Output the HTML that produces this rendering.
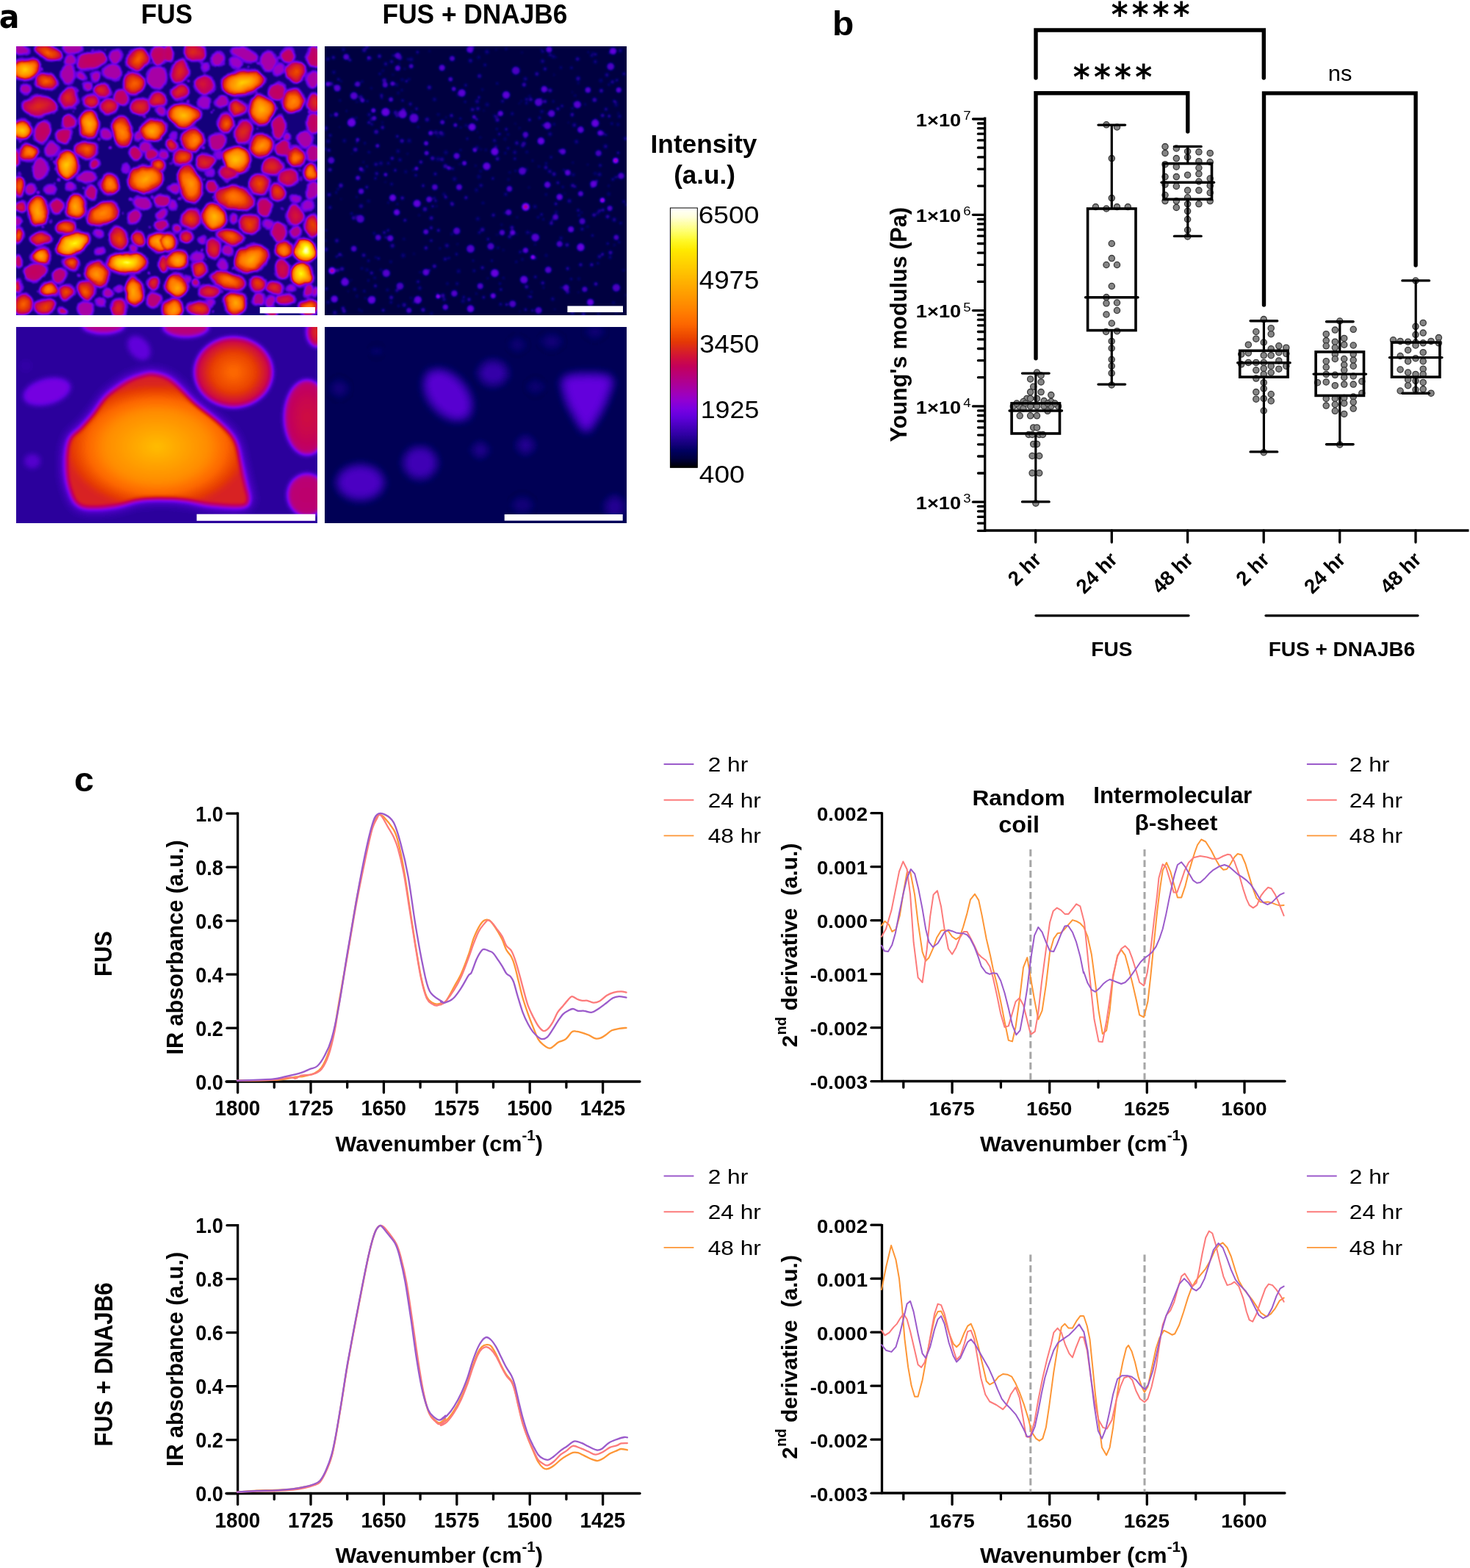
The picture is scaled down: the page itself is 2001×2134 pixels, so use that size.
<!DOCTYPE html>
<html><head><meta charset="utf-8"><title>Figure</title>
<style>html,body{margin:0;padding:0;background:#fff;} svg{display:block;} text{font-family:'Liberation Sans', Arial, Helvetica, sans-serif;fill:#000;}</style>
</head><body>
<svg width="2001" height="2134" viewBox="0 0 2001 2134">
<rect width="2001" height="2134" fill="#fff"/>
<defs>
<filter id="fire" x="0" y="0" width="2001" height="2134" filterUnits="userSpaceOnUse" color-interpolation-filters="sRGB">
<feGaussianBlur stdDeviation="1.6" edgeMode="duplicate"/>
<feComponentTransfer><feFuncR type="table" tableValues="0.0000 0.0000 0.0039 0.0980 0.1922 0.2863 0.3843 0.4784 0.5725 0.6353 0.6784 0.7216 0.7647 0.8118 0.8510 0.8980 0.9412 0.9882 1.0000 1.0000 1.0000 1.0000 1.0000 1.0000 1.0000 1.0000 1.0000 1.0000 1.0000 1.0000 1.0000 1.0000"/><feFuncG type="table" tableValues="0.0000 0.0000 0.0000 0.0000 0.0000 0.0000 0.0000 0.0000 0.0000 0.0000 0.0000 0.0000 0.0000 0.0549 0.1373 0.2235 0.3098 0.3961 0.4588 0.5216 0.5765 0.6314 0.6863 0.7451 0.8039 0.8588 0.9176 0.9725 1.0000 1.0000 1.0000 1.0000"/><feFuncB type="table" tableValues="0.0000 0.2392 0.3765 0.5098 0.6471 0.7529 0.8627 0.8902 0.8235 0.7098 0.5922 0.4784 0.3647 0.2510 0.1373 0.0196 0.0000 0.0000 0.0000 0.0000 0.0000 0.0000 0.0000 0.0000 0.0000 0.0000 0.0000 0.1373 0.3843 0.6275 0.8745 1.0000"/><feFuncA type="identity"/></feComponentTransfer>
</filter>
<filter id="fireD" x="0" y="0" width="2001" height="2134" filterUnits="userSpaceOnUse" color-interpolation-filters="sRGB">
<feTurbulence type="fractalNoise" baseFrequency="0.045" numOctaves="2" seed="5" result="t"/>
<feDisplacementMap in="SourceGraphic" in2="t" scale="9" xChannelSelector="R" yChannelSelector="G" result="d"/>
<feTurbulence type="fractalNoise" baseFrequency="0.6" numOctaves="1" seed="9" result="n"/>
<feColorMatrix in="n" type="matrix" values="0 0 0 0 0  0 0 0 0 0  0 0 0 0 0  1 0 0 0 -0.35" result="na"/>
<feComposite in="d" in2="na" operator="arithmetic" k1="0.55" k2="1" k3="0" k4="0" result="sp"/>
<feGaussianBlur in="sp" stdDeviation="1.3" edgeMode="duplicate"/>
<feComponentTransfer><feFuncR type="table" tableValues="0.0000 0.0000 0.0039 0.0980 0.1922 0.2863 0.3843 0.4784 0.5725 0.6353 0.6784 0.7216 0.7647 0.8118 0.8510 0.8980 0.9412 0.9882 1.0000 1.0000 1.0000 1.0000 1.0000 1.0000 1.0000 1.0000 1.0000 1.0000 1.0000 1.0000 1.0000 1.0000"/><feFuncG type="table" tableValues="0.0000 0.0000 0.0000 0.0000 0.0000 0.0000 0.0000 0.0000 0.0000 0.0000 0.0000 0.0000 0.0000 0.0549 0.1373 0.2235 0.3098 0.3961 0.4588 0.5216 0.5765 0.6314 0.6863 0.7451 0.8039 0.8588 0.9176 0.9725 1.0000 1.0000 1.0000 1.0000"/><feFuncB type="table" tableValues="0.0000 0.2392 0.3765 0.5098 0.6471 0.7529 0.8627 0.8902 0.8235 0.7098 0.5922 0.4784 0.3647 0.2510 0.1373 0.0196 0.0000 0.0000 0.0000 0.0000 0.0000 0.0000 0.0000 0.0000 0.0000 0.0000 0.0000 0.1373 0.3843 0.6275 0.8745 1.0000"/><feFuncA type="identity"/></feComponentTransfer>
</filter>
<filter id="fireS" x="0" y="0" width="2001" height="2134" filterUnits="userSpaceOnUse" color-interpolation-filters="sRGB">
<feGaussianBlur stdDeviation="3.2" edgeMode="duplicate"/>
<feComponentTransfer><feFuncR type="table" tableValues="0.0000 0.0000 0.0039 0.0980 0.1922 0.2863 0.3843 0.4784 0.5725 0.6353 0.6784 0.7216 0.7647 0.8118 0.8510 0.8980 0.9412 0.9882 1.0000 1.0000 1.0000 1.0000 1.0000 1.0000 1.0000 1.0000 1.0000 1.0000 1.0000 1.0000 1.0000 1.0000"/><feFuncG type="table" tableValues="0.0000 0.0000 0.0000 0.0000 0.0000 0.0000 0.0000 0.0000 0.0000 0.0000 0.0000 0.0000 0.0000 0.0549 0.1373 0.2235 0.3098 0.3961 0.4588 0.5216 0.5765 0.6314 0.6863 0.7451 0.8039 0.8588 0.9176 0.9725 1.0000 1.0000 1.0000 1.0000"/><feFuncB type="table" tableValues="0.0000 0.2392 0.3765 0.5098 0.6471 0.7529 0.8627 0.8902 0.8235 0.7098 0.5922 0.4784 0.3647 0.2510 0.1373 0.0196 0.0000 0.0000 0.0000 0.0000 0.0000 0.0000 0.0000 0.0000 0.0000 0.0000 0.0000 0.1373 0.3843 0.6275 0.8745 1.0000"/></feComponentTransfer>
</filter>
<filter id="fireN" x="0" y="0" width="2001" height="2134" filterUnits="userSpaceOnUse" color-interpolation-filters="sRGB">
<feComponentTransfer><feFuncR type="table" tableValues="0.0000 0.0000 0.0039 0.0980 0.1922 0.2863 0.3843 0.4784 0.5725 0.6353 0.6784 0.7216 0.7647 0.8118 0.8510 0.8980 0.9412 0.9882 1.0000 1.0000 1.0000 1.0000 1.0000 1.0000 1.0000 1.0000 1.0000 1.0000 1.0000 1.0000 1.0000 1.0000"/><feFuncG type="table" tableValues="0.0000 0.0000 0.0000 0.0000 0.0000 0.0000 0.0000 0.0000 0.0000 0.0000 0.0000 0.0000 0.0000 0.0549 0.1373 0.2235 0.3098 0.3961 0.4588 0.5216 0.5765 0.6314 0.6863 0.7451 0.8039 0.8588 0.9176 0.9725 1.0000 1.0000 1.0000 1.0000"/><feFuncB type="table" tableValues="0.0000 0.2392 0.3765 0.5098 0.6471 0.7529 0.8627 0.8902 0.8235 0.7098 0.5922 0.4784 0.3647 0.2510 0.1373 0.0196 0.0000 0.0000 0.0000 0.0000 0.0000 0.0000 0.0000 0.0000 0.0000 0.0000 0.0000 0.1373 0.3843 0.6275 0.8745 1.0000"/></feComponentTransfer>
</filter>
<filter id="bl6" x="-50%" y="-50%" width="200%" height="200%"><feGaussianBlur stdDeviation="6"/></filter>
<filter id="bl9" x="-50%" y="-50%" width="200%" height="200%"><feGaussianBlur stdDeviation="8"/></filter>
<filter id="bl12" x="-50%" y="-50%" width="200%" height="200%"><feGaussianBlur stdDeviation="12"/></filter>
<filter id="bl2" x="-50%" y="-50%" width="200%" height="200%"><feGaussianBlur stdDeviation="2"/></filter>
<clipPath id="cp1"><rect x="22" y="63" width="410" height="366"/></clipPath>
<clipPath id="cp2"><rect x="442" y="63" width="411" height="366"/></clipPath>
<clipPath id="cp3"><rect x="22" y="445" width="410" height="267"/></clipPath>
<clipPath id="cp4"><rect x="442" y="445" width="411" height="267"/></clipPath>
<linearGradient id="cbar" x1="0" y1="1" x2="0" y2="0"><stop offset="0" stop-color="#000"/><stop offset="1" stop-color="#fff"/></linearGradient>

<radialGradient id="g0"><stop offset="0" stop-color="rgb(54.8%,54.8%,54.8%)"/><stop offset="0.55" stop-color="rgb(48.6%,48.6%,48.6%)"/><stop offset="1" stop-color="rgb(38.4%,38.4%,38.4%)"/></radialGradient>
<radialGradient id="g1"><stop offset="0" stop-color="rgb(38.7%,38.7%,38.7%)"/><stop offset="0.55" stop-color="rgb(37.7%,37.7%,37.7%)"/><stop offset="1" stop-color="rgb(36.0%,36.0%,36.0%)"/></radialGradient>
<radialGradient id="g2"><stop offset="0" stop-color="rgb(79.0%,79.0%,79.0%)"/><stop offset="0.55" stop-color="rgb(65.0%,65.0%,65.0%)"/><stop offset="1" stop-color="rgb(42.0%,42.0%,42.0%)"/></radialGradient>
<radialGradient id="g3"><stop offset="0" stop-color="rgb(46.8%,46.8%,46.8%)"/><stop offset="0.55" stop-color="rgb(43.1%,43.1%,43.1%)"/><stop offset="1" stop-color="rgb(37.2%,37.2%,37.2%)"/></radialGradient>
<radialGradient id="g4"><stop offset="0" stop-color="rgb(71.0%,71.0%,71.0%)"/><stop offset="0.55" stop-color="rgb(59.5%,59.5%,59.5%)"/><stop offset="1" stop-color="rgb(40.8%,40.8%,40.8%)"/></radialGradient>
<radialGradient id="g5"><stop offset="0" stop-color="rgb(62.9%,62.9%,62.9%)"/><stop offset="0.55" stop-color="rgb(54.0%,54.0%,54.0%)"/><stop offset="1" stop-color="rgb(39.6%,39.6%,39.6%)"/></radialGradient>
<radialGradient id="g6"><stop offset="0" stop-color="rgb(51.6%,51.6%,51.6%)"/><stop offset="0.55" stop-color="rgb(46.4%,46.4%,46.4%)"/><stop offset="1" stop-color="rgb(37.9%,37.9%,37.9%)"/></radialGradient>
<radialGradient id="g7"><stop offset="0" stop-color="rgb(43.5%,43.5%,43.5%)"/><stop offset="0.55" stop-color="rgb(40.9%,40.9%,40.9%)"/><stop offset="1" stop-color="rgb(36.7%,36.7%,36.7%)"/></radialGradient>
<radialGradient id="g8"><stop offset="0" stop-color="rgb(50.0%,50.0%,50.0%)"/><stop offset="0.55" stop-color="rgb(45.3%,45.3%,45.3%)"/><stop offset="1" stop-color="rgb(37.7%,37.7%,37.7%)"/></radialGradient>
<radialGradient id="g9"><stop offset="0" stop-color="rgb(72.6%,72.6%,72.6%)"/><stop offset="0.55" stop-color="rgb(60.6%,60.6%,60.6%)"/><stop offset="1" stop-color="rgb(41.0%,41.0%,41.0%)"/></radialGradient>
<radialGradient id="g10"><stop offset="0" stop-color="rgb(75.8%,75.8%,75.8%)"/><stop offset="0.55" stop-color="rgb(62.8%,62.8%,62.8%)"/><stop offset="1" stop-color="rgb(41.5%,41.5%,41.5%)"/></radialGradient>
<radialGradient id="g11"><stop offset="0" stop-color="rgb(66.1%,66.1%,66.1%)"/><stop offset="0.55" stop-color="rgb(56.2%,56.2%,56.2%)"/><stop offset="1" stop-color="rgb(40.1%,40.1%,40.1%)"/></radialGradient>
<radialGradient id="g12"><stop offset="0" stop-color="rgb(53.2%,53.2%,53.2%)"/><stop offset="0.55" stop-color="rgb(47.5%,47.5%,47.5%)"/><stop offset="1" stop-color="rgb(38.1%,38.1%,38.1%)"/></radialGradient>
<radialGradient id="g13"><stop offset="0" stop-color="rgb(59.7%,59.7%,59.7%)"/><stop offset="0.55" stop-color="rgb(51.9%,51.9%,51.9%)"/><stop offset="1" stop-color="rgb(39.1%,39.1%,39.1%)"/></radialGradient>
<radialGradient id="g14"><stop offset="0" stop-color="rgb(88.7%,88.7%,88.7%)"/><stop offset="0.55" stop-color="rgb(71.5%,71.5%,71.5%)"/><stop offset="1" stop-color="rgb(43.5%,43.5%,43.5%)"/></radialGradient>
<radialGradient id="g15"><stop offset="0" stop-color="rgb(91.9%,91.9%,91.9%)"/><stop offset="0.55" stop-color="rgb(73.7%,73.7%,73.7%)"/><stop offset="1" stop-color="rgb(44.0%,44.0%,44.0%)"/></radialGradient>
<radialGradient id="g16"><stop offset="0" stop-color="rgb(74.2%,74.2%,74.2%)"/><stop offset="0.55" stop-color="rgb(61.7%,61.7%,61.7%)"/><stop offset="1" stop-color="rgb(41.3%,41.3%,41.3%)"/></radialGradient>
<radialGradient id="g17"><stop offset="0" stop-color="rgb(98.4%,98.4%,98.4%)"/><stop offset="0.55" stop-color="rgb(78.1%,78.1%,78.1%)"/><stop offset="1" stop-color="rgb(44.9%,44.9%,44.9%)"/></radialGradient>
<radialGradient id="g18"><stop offset="0" stop-color="rgb(41.9%,41.9%,41.9%)"/><stop offset="0.55" stop-color="rgb(39.9%,39.9%,39.9%)"/><stop offset="1" stop-color="rgb(36.5%,36.5%,36.5%)"/></radialGradient>
<radialGradient id="g19"><stop offset="0" stop-color="rgb(67.7%,67.7%,67.7%)"/><stop offset="0.55" stop-color="rgb(57.3%,57.3%,57.3%)"/><stop offset="1" stop-color="rgb(40.3%,40.3%,40.3%)"/></radialGradient>
<radialGradient id="g20"><stop offset="0" stop-color="rgb(56.5%,56.5%,56.5%)"/><stop offset="0.55" stop-color="rgb(49.7%,49.7%,49.7%)"/><stop offset="1" stop-color="rgb(38.6%,38.6%,38.6%)"/></radialGradient>
<radialGradient id="g21"><stop offset="0" stop-color="rgb(37.1%,37.1%,37.1%)"/><stop offset="0.55" stop-color="rgb(36.6%,36.6%,36.6%)"/><stop offset="1" stop-color="rgb(35.7%,35.7%,35.7%)"/></radialGradient>
<radialGradient id="g22"><stop offset="0" stop-color="rgb(74.2%,74.2%,74.2%)"/><stop offset="0.55" stop-color="rgb(63.2%,63.2%,63.2%)"/><stop offset="1" stop-color="rgb(45.2%,45.2%,45.2%)"/></radialGradient>
</defs>
<g clip-path="url(#cp1)"><g filter="url(#fireD)">
<rect x="12" y="53" width="430" height="386" fill="rgb(9.0%,9.0%,9.0%)"/>
<circle cx="207.5" cy="267.9" r="2.5" fill="rgb(21.5%,21.5%,21.5%)"/>
<circle cx="230.2" cy="278.0" r="1.5" fill="rgb(21.9%,21.9%,21.9%)"/>
<circle cx="280.3" cy="353.2" r="1.3" fill="rgb(20.2%,20.2%,20.2%)"/>
<circle cx="59.2" cy="359.3" r="2.2" fill="rgb(18.1%,18.1%,18.1%)"/>
<circle cx="424.7" cy="416.1" r="2.1" fill="rgb(22.7%,22.7%,22.7%)"/>
<circle cx="86.6" cy="68.5" r="1.9" fill="rgb(18.2%,18.2%,18.2%)"/>
<circle cx="100.0" cy="151.6" r="1.2" fill="rgb(21.5%,21.5%,21.5%)"/>
<circle cx="202.6" cy="371.3" r="1.9" fill="rgb(22.9%,22.9%,22.9%)"/>
<circle cx="226.9" cy="305.5" r="1.8" fill="rgb(20.0%,20.0%,20.0%)"/>
<circle cx="431.0" cy="427.4" r="2.4" fill="rgb(23.5%,23.5%,23.5%)"/>
<circle cx="151.3" cy="147.1" r="1.6" fill="rgb(18.3%,18.3%,18.3%)"/>
<circle cx="336.2" cy="209.5" r="2.4" fill="rgb(20.9%,20.9%,20.9%)"/>
<circle cx="414.8" cy="373.1" r="1.2" fill="rgb(19.4%,19.4%,19.4%)"/>
<circle cx="395.2" cy="235.0" r="2.6" fill="rgb(20.9%,20.9%,20.9%)"/>
<circle cx="51.9" cy="293.4" r="2.3" fill="rgb(19.9%,19.9%,19.9%)"/>
<circle cx="57.7" cy="184.7" r="2.5" fill="rgb(23.9%,23.9%,23.9%)"/>
<circle cx="70.4" cy="153.2" r="1.3" fill="rgb(18.2%,18.2%,18.2%)"/>
<circle cx="348.8" cy="128.0" r="2.0" fill="rgb(21.4%,21.4%,21.4%)"/>
<circle cx="100.2" cy="330.9" r="1.4" fill="rgb(22.9%,22.9%,22.9%)"/>
<circle cx="69.8" cy="217.0" r="1.5" fill="rgb(19.9%,19.9%,19.9%)"/>
<circle cx="420.1" cy="357.0" r="1.6" fill="rgb(24.9%,24.9%,24.9%)"/>
<circle cx="108.4" cy="207.3" r="2.4" fill="rgb(22.9%,22.9%,22.9%)"/>
<circle cx="63.1" cy="425.1" r="1.5" fill="rgb(19.8%,19.8%,19.8%)"/>
<circle cx="338.8" cy="183.4" r="1.6" fill="rgb(18.3%,18.3%,18.3%)"/>
<circle cx="58.9" cy="276.3" r="1.5" fill="rgb(22.6%,22.6%,22.6%)"/>
<circle cx="174.4" cy="228.9" r="2.5" fill="rgb(21.6%,21.6%,21.6%)"/>
<circle cx="257.6" cy="380.1" r="1.5" fill="rgb(19.0%,19.0%,19.0%)"/>
<circle cx="394.5" cy="362.3" r="1.5" fill="rgb(19.3%,19.3%,19.3%)"/>
<circle cx="325.2" cy="407.2" r="1.5" fill="rgb(25.4%,25.4%,25.4%)"/>
<circle cx="383.7" cy="283.9" r="1.8" fill="rgb(18.6%,18.6%,18.6%)"/>
<circle cx="37.9" cy="415.3" r="1.5" fill="rgb(23.4%,23.4%,23.4%)"/>
<circle cx="127.4" cy="364.5" r="2.0" fill="rgb(20.1%,20.1%,20.1%)"/>
<circle cx="93.9" cy="326.6" r="1.3" fill="rgb(19.6%,19.6%,19.6%)"/>
<circle cx="251.3" cy="375.0" r="2.1" fill="rgb(20.0%,20.0%,20.0%)"/>
<circle cx="398.1" cy="137.7" r="1.2" fill="rgb(19.9%,19.9%,19.9%)"/>
<circle cx="204.7" cy="85.1" r="1.4" fill="rgb(20.7%,20.7%,20.7%)"/>
<circle cx="256.6" cy="111.2" r="1.7" fill="rgb(24.9%,24.9%,24.9%)"/>
<circle cx="424.0" cy="303.4" r="2.2" fill="rgb(22.5%,22.5%,22.5%)"/>
<circle cx="79.5" cy="75.8" r="1.2" fill="rgb(25.1%,25.1%,25.1%)"/>
<circle cx="309.4" cy="415.4" r="1.2" fill="rgb(22.9%,22.9%,22.9%)"/>
<circle cx="219.7" cy="330.4" r="1.6" fill="rgb(25.8%,25.8%,25.8%)"/>
<circle cx="52.9" cy="262.9" r="2.2" fill="rgb(25.0%,25.0%,25.0%)"/>
<circle cx="324.2" cy="320.6" r="2.3" fill="rgb(25.1%,25.1%,25.1%)"/>
<circle cx="166.3" cy="313.8" r="2.5" fill="rgb(24.8%,24.8%,24.8%)"/>
<circle cx="193.0" cy="352.3" r="2.4" fill="rgb(22.4%,22.4%,22.4%)"/>
<circle cx="278.2" cy="202.9" r="2.0" fill="rgb(22.7%,22.7%,22.7%)"/>
<circle cx="54.9" cy="297.0" r="2.6" fill="rgb(24.8%,24.8%,24.8%)"/>
<circle cx="320.6" cy="205.2" r="2.2" fill="rgb(22.4%,22.4%,22.4%)"/>
<circle cx="202.6" cy="369.8" r="1.3" fill="rgb(23.8%,23.8%,23.8%)"/>
<circle cx="34.2" cy="283.1" r="1.9" fill="rgb(19.6%,19.6%,19.6%)"/>
<circle cx="308.3" cy="245.0" r="2.1" fill="rgb(25.2%,25.2%,25.2%)"/>
<circle cx="126.9" cy="67.1" r="1.6" fill="rgb(23.2%,23.2%,23.2%)"/>
<circle cx="105.1" cy="125.1" r="2.5" fill="rgb(23.1%,23.1%,23.1%)"/>
<circle cx="203.2" cy="389.4" r="1.7" fill="rgb(23.1%,23.1%,23.1%)"/>
<circle cx="103.4" cy="220.7" r="2.3" fill="rgb(25.1%,25.1%,25.1%)"/>
<circle cx="382.9" cy="203.7" r="2.0" fill="rgb(20.3%,20.3%,20.3%)"/>
<circle cx="77.8" cy="244.7" r="2.4" fill="rgb(24.6%,24.6%,24.6%)"/>
<circle cx="313.6" cy="410.7" r="1.6" fill="rgb(19.1%,19.1%,19.1%)"/>
<circle cx="206.8" cy="163.7" r="1.5" fill="rgb(21.1%,21.1%,21.1%)"/>
<circle cx="278.6" cy="243.8" r="1.6" fill="rgb(24.5%,24.5%,24.5%)"/>
<circle cx="424.6" cy="228.6" r="1.3" fill="rgb(18.0%,18.0%,18.0%)"/>
<circle cx="379.9" cy="78.2" r="2.2" fill="rgb(22.3%,22.3%,22.3%)"/>
<circle cx="148.7" cy="352.7" r="1.2" fill="rgb(18.8%,18.8%,18.8%)"/>
<circle cx="208.5" cy="72.0" r="2.4" fill="rgb(19.7%,19.7%,19.7%)"/>
<circle cx="79.8" cy="80.2" r="2.1" fill="rgb(21.3%,21.3%,21.3%)"/>
<circle cx="280.3" cy="302.7" r="2.3" fill="rgb(25.5%,25.5%,25.5%)"/>
<circle cx="302.6" cy="136.0" r="1.9" fill="rgb(19.2%,19.2%,19.2%)"/>
<circle cx="26.4" cy="235.8" r="2.2" fill="rgb(19.2%,19.2%,19.2%)"/>
<circle cx="133.7" cy="189.5" r="2.2" fill="rgb(21.9%,21.9%,21.9%)"/>
<circle cx="273.9" cy="339.8" r="1.8" fill="rgb(24.1%,24.1%,24.1%)"/>
<circle cx="393.6" cy="94.9" r="2.5" fill="rgb(23.6%,23.6%,23.6%)"/>
<circle cx="75.3" cy="229.0" r="2.1" fill="rgb(25.1%,25.1%,25.1%)"/>
<circle cx="176.5" cy="271.2" r="2.4" fill="rgb(24.2%,24.2%,24.2%)"/>
<circle cx="409.1" cy="232.7" r="2.1" fill="rgb(19.4%,19.4%,19.4%)"/>
<circle cx="318.0" cy="362.5" r="2.1" fill="rgb(23.5%,23.5%,23.5%)"/>
<circle cx="109.5" cy="392.4" r="2.6" fill="rgb(25.6%,25.6%,25.6%)"/>
<circle cx="242.2" cy="352.4" r="1.6" fill="rgb(25.1%,25.1%,25.1%)"/>
<circle cx="372.9" cy="190.6" r="1.3" fill="rgb(21.3%,21.3%,21.3%)"/>
<circle cx="247.6" cy="344.2" r="1.9" fill="rgb(18.0%,18.0%,18.0%)"/>
<circle cx="353.7" cy="86.4" r="2.3" fill="rgb(19.1%,19.1%,19.1%)"/>
<circle cx="159.4" cy="351.4" r="1.4" fill="rgb(18.9%,18.9%,18.9%)"/>
<circle cx="233.8" cy="327.8" r="2.4" fill="rgb(23.3%,23.3%,23.3%)"/>
<circle cx="409.8" cy="243.3" r="2.5" fill="rgb(18.4%,18.4%,18.4%)"/>
<circle cx="112.8" cy="255.8" r="1.6" fill="rgb(23.6%,23.6%,23.6%)"/>
<circle cx="283.9" cy="254.3" r="2.4" fill="rgb(22.3%,22.3%,22.3%)"/>
<circle cx="149.8" cy="202.5" r="2.4" fill="rgb(25.0%,25.0%,25.0%)"/>
<circle cx="107.4" cy="374.4" r="2.6" fill="rgb(22.0%,22.0%,22.0%)"/>
<circle cx="256.9" cy="136.6" r="2.0" fill="rgb(21.8%,21.8%,21.8%)"/>
<circle cx="270.1" cy="73.2" r="2.6" fill="rgb(21.9%,21.9%,21.9%)"/>
<circle cx="186.2" cy="356.2" r="2.0" fill="rgb(21.7%,21.7%,21.7%)"/>
<circle cx="305.3" cy="87.1" r="2.0" fill="rgb(21.1%,21.1%,21.1%)"/>
<circle cx="414.3" cy="401.0" r="1.6" fill="rgb(21.6%,21.6%,21.6%)"/>
<circle cx="74.1" cy="221.7" r="2.3" fill="rgb(25.0%,25.0%,25.0%)"/>
<circle cx="217.4" cy="179.1" r="1.5" fill="rgb(22.7%,22.7%,22.7%)"/>
<circle cx="401.4" cy="110.4" r="2.3" fill="rgb(17.9%,17.9%,17.9%)"/>
<circle cx="101.6" cy="146.2" r="2.2" fill="rgb(20.3%,20.3%,20.3%)"/>
<circle cx="167.7" cy="289.8" r="1.3" fill="rgb(23.6%,23.6%,23.6%)"/>
<circle cx="72.3" cy="249.8" r="1.6" fill="rgb(19.3%,19.3%,19.3%)"/>
<circle cx="239.4" cy="222.9" r="1.7" fill="rgb(21.1%,21.1%,21.1%)"/>
<circle cx="239.0" cy="121.5" r="1.5" fill="rgb(22.8%,22.8%,22.8%)"/>
<circle cx="283.8" cy="256.8" r="2.4" fill="rgb(22.7%,22.7%,22.7%)"/>
<circle cx="373.3" cy="148.2" r="2.2" fill="rgb(24.3%,24.3%,24.3%)"/>
<circle cx="392.1" cy="178.6" r="1.6" fill="rgb(25.2%,25.2%,25.2%)"/>
<circle cx="111.4" cy="428.4" r="2.4" fill="rgb(18.8%,18.8%,18.8%)"/>
<circle cx="120.1" cy="328.9" r="1.6" fill="rgb(18.5%,18.5%,18.5%)"/>
<circle cx="363.2" cy="217.3" r="2.3" fill="rgb(18.8%,18.8%,18.8%)"/>
<circle cx="187.1" cy="313.8" r="1.2" fill="rgb(19.4%,19.4%,19.4%)"/>
<circle cx="301.8" cy="396.6" r="2.6" fill="rgb(18.7%,18.7%,18.7%)"/>
<circle cx="229.3" cy="340.5" r="1.9" fill="rgb(23.3%,23.3%,23.3%)"/>
<circle cx="99.5" cy="88.8" r="1.3" fill="rgb(18.0%,18.0%,18.0%)"/>
<circle cx="248.2" cy="251.4" r="2.0" fill="rgb(18.9%,18.9%,18.9%)"/>
<circle cx="97.7" cy="137.6" r="2.4" fill="rgb(25.7%,25.7%,25.7%)"/>
<circle cx="402.0" cy="97.9" r="1.3" fill="rgb(25.4%,25.4%,25.4%)"/>
<circle cx="211.4" cy="342.9" r="1.7" fill="rgb(21.5%,21.5%,21.5%)"/>
<circle cx="233.3" cy="220.4" r="2.0" fill="rgb(17.8%,17.8%,17.8%)"/>
<circle cx="309.4" cy="372.0" r="1.5" fill="rgb(21.4%,21.4%,21.4%)"/>
<circle cx="325.1" cy="211.3" r="1.5" fill="rgb(19.1%,19.1%,19.1%)"/>
<circle cx="232.1" cy="68.6" r="2.5" fill="rgb(24.2%,24.2%,24.2%)"/>
<circle cx="310.9" cy="378.0" r="2.1" fill="rgb(21.0%,21.0%,21.0%)"/>
<circle cx="267.8" cy="247.6" r="2.6" fill="rgb(24.2%,24.2%,24.2%)"/>
<circle cx="127.9" cy="396.5" r="2.2" fill="rgb(24.0%,24.0%,24.0%)"/>
<circle cx="356.0" cy="211.5" r="2.5" fill="rgb(24.8%,24.8%,24.8%)"/>
<circle cx="306.9" cy="343.8" r="2.3" fill="rgb(21.0%,21.0%,21.0%)"/>
<circle cx="318.3" cy="88.8" r="1.7" fill="rgb(21.5%,21.5%,21.5%)"/>
<circle cx="26.3" cy="193.2" r="2.1" fill="rgb(22.8%,22.8%,22.8%)"/>
<circle cx="117.2" cy="408.8" r="2.1" fill="rgb(20.5%,20.5%,20.5%)"/>
<circle cx="292.5" cy="271.5" r="1.9" fill="rgb(20.9%,20.9%,20.9%)"/>
<circle cx="432.0" cy="298.1" r="2.2" fill="rgb(23.9%,23.9%,23.9%)"/>
<circle cx="423.8" cy="71.4" r="2.1" fill="rgb(23.7%,23.7%,23.7%)"/>
<circle cx="127.2" cy="210.0" r="1.3" fill="rgb(19.3%,19.3%,19.3%)"/>
<circle cx="176.0" cy="99.0" r="1.6" fill="rgb(25.0%,25.0%,25.0%)"/>
<circle cx="247.5" cy="248.9" r="2.6" fill="rgb(22.3%,22.3%,22.3%)"/>
<circle cx="430.0" cy="296.5" r="2.3" fill="rgb(18.4%,18.4%,18.4%)"/>
<circle cx="267.0" cy="340.9" r="1.3" fill="rgb(25.2%,25.2%,25.2%)"/>
<circle cx="87.6" cy="235.7" r="1.4" fill="rgb(21.7%,21.7%,21.7%)"/>
<circle cx="272.6" cy="84.4" r="2.5" fill="rgb(21.1%,21.1%,21.1%)"/>
<circle cx="238.0" cy="281.8" r="1.7" fill="rgb(20.0%,20.0%,20.0%)"/>
<circle cx="290.6" cy="268.2" r="1.6" fill="rgb(23.5%,23.5%,23.5%)"/>
<circle cx="143.4" cy="68.1" r="1.5" fill="rgb(18.1%,18.1%,18.1%)"/>
<circle cx="86.2" cy="339.2" r="1.7" fill="rgb(25.0%,25.0%,25.0%)"/>
<circle cx="328.8" cy="81.4" r="2.6" fill="rgb(25.4%,25.4%,25.4%)"/>
<circle cx="52.1" cy="394.4" r="1.8" fill="rgb(21.6%,21.6%,21.6%)"/>
<circle cx="421.0" cy="152.2" r="1.9" fill="rgb(25.3%,25.3%,25.3%)"/>
<circle cx="318.3" cy="234.4" r="2.6" fill="rgb(24.3%,24.3%,24.3%)"/>
<circle cx="269.5" cy="105.1" r="2.1" fill="rgb(21.4%,21.4%,21.4%)"/>
<circle cx="105.5" cy="82.1" r="1.9" fill="rgb(18.7%,18.7%,18.7%)"/>
<circle cx="203.6" cy="307.4" r="1.8" fill="rgb(19.9%,19.9%,19.9%)"/>
<circle cx="260.7" cy="216.5" r="2.3" fill="rgb(22.0%,22.0%,22.0%)"/>
<circle cx="431.0" cy="411.7" r="2.2" fill="rgb(19.7%,19.7%,19.7%)"/>
<circle cx="68.7" cy="389.7" r="2.3" fill="rgb(22.8%,22.8%,22.8%)"/>
<circle cx="169.3" cy="162.4" r="2.2" fill="rgb(22.3%,22.3%,22.3%)"/>
<circle cx="264.6" cy="294.7" r="2.3" fill="rgb(19.3%,19.3%,19.3%)"/>
<circle cx="124.1" cy="421.6" r="2.5" fill="rgb(24.8%,24.8%,24.8%)"/>
<circle cx="38.2" cy="85.2" r="1.6" fill="rgb(21.2%,21.2%,21.2%)"/>
<circle cx="277.6" cy="100.5" r="2.0" fill="rgb(18.3%,18.3%,18.3%)"/>
<circle cx="57.4" cy="310.5" r="2.0" fill="rgb(22.8%,22.8%,22.8%)"/>
<circle cx="175.0" cy="238.2" r="1.5" fill="rgb(20.5%,20.5%,20.5%)"/>
<circle cx="327.4" cy="369.9" r="1.3" fill="rgb(18.7%,18.7%,18.7%)"/>
<circle cx="353.8" cy="291.3" r="2.3" fill="rgb(19.5%,19.5%,19.5%)"/>
<circle cx="196.0" cy="157.5" r="2.3" fill="rgb(20.7%,20.7%,20.7%)"/>
<circle cx="290.0" cy="425.0" r="1.7" fill="rgb(22.2%,22.2%,22.2%)"/>
<circle cx="327.9" cy="400.0" r="1.8" fill="rgb(20.7%,20.7%,20.7%)"/>
<circle cx="61.8" cy="383.3" r="1.3" fill="rgb(18.4%,18.4%,18.4%)"/>
<circle cx="253.3" cy="240.5" r="2.2" fill="rgb(20.2%,20.2%,20.2%)"/>
<circle cx="340.0" cy="90.8" r="1.5" fill="rgb(23.1%,23.1%,23.1%)"/>
<circle cx="55.5" cy="174.2" r="2.2" fill="rgb(23.3%,23.3%,23.3%)"/>
<circle cx="138.0" cy="115.3" r="1.7" fill="rgb(23.6%,23.6%,23.6%)"/>
<circle cx="172.2" cy="106.0" r="2.2" fill="rgb(22.3%,22.3%,22.3%)"/>
<circle cx="398.6" cy="407.0" r="2.5" fill="rgb(21.3%,21.3%,21.3%)"/>
<circle cx="351.3" cy="174.5" r="1.6" fill="rgb(21.0%,21.0%,21.0%)"/>
<circle cx="405.2" cy="390.5" r="1.5" fill="rgb(20.7%,20.7%,20.7%)"/>
<circle cx="171.9" cy="196.0" r="1.8" fill="rgb(20.9%,20.9%,20.9%)"/>
<circle cx="101.9" cy="269.4" r="2.3" fill="rgb(22.1%,22.1%,22.1%)"/>
<circle cx="364.9" cy="269.0" r="1.4" fill="rgb(23.9%,23.9%,23.9%)"/>
<circle cx="383.2" cy="166.0" r="1.2" fill="rgb(21.9%,21.9%,21.9%)"/>
<circle cx="245.1" cy="270.7" r="2.6" fill="rgb(23.0%,23.0%,23.0%)"/>
<circle cx="351.8" cy="86.4" r="2.0" fill="rgb(24.1%,24.1%,24.1%)"/>
<circle cx="56.5" cy="92.9" r="2.2" fill="rgb(25.0%,25.0%,25.0%)"/>
<circle cx="56.7" cy="295.1" r="1.4" fill="rgb(23.8%,23.8%,23.8%)"/>
<circle cx="288.1" cy="152.8" r="1.5" fill="rgb(23.9%,23.9%,23.9%)"/>
<circle cx="235.8" cy="342.9" r="1.8" fill="rgb(20.5%,20.5%,20.5%)"/>
<circle cx="419.0" cy="309.1" r="1.9" fill="rgb(22.1%,22.1%,22.1%)"/>
<circle cx="317.6" cy="322.2" r="2.5" fill="rgb(21.1%,21.1%,21.1%)"/>
<circle cx="360.8" cy="307.0" r="2.4" fill="rgb(24.2%,24.2%,24.2%)"/>
<circle cx="363.9" cy="388.2" r="2.5" fill="rgb(22.9%,22.9%,22.9%)"/>
<circle cx="236.8" cy="322.9" r="2.3" fill="rgb(21.1%,21.1%,21.1%)"/>
<circle cx="194.4" cy="116.5" r="2.2" fill="rgb(25.7%,25.7%,25.7%)"/>
<circle cx="176.0" cy="124.4" r="1.5" fill="rgb(21.2%,21.2%,21.2%)"/>
<circle cx="141.7" cy="417.9" r="1.3" fill="rgb(20.2%,20.2%,20.2%)"/>
<circle cx="69.1" cy="300.2" r="2.3" fill="rgb(19.2%,19.2%,19.2%)"/>
<circle cx="47.6" cy="230.9" r="2.0" fill="rgb(25.1%,25.1%,25.1%)"/>
<circle cx="36.9" cy="102.8" r="1.5" fill="rgb(19.5%,19.5%,19.5%)"/>
<circle cx="118.5" cy="325.5" r="2.0" fill="rgb(19.5%,19.5%,19.5%)"/>
<circle cx="97.8" cy="165.9" r="1.4" fill="rgb(23.9%,23.9%,23.9%)"/>
<circle cx="149.8" cy="263.7" r="2.3" fill="rgb(21.6%,21.6%,21.6%)"/>
<circle cx="128.8" cy="387.8" r="2.5" fill="rgb(20.5%,20.5%,20.5%)"/>
<circle cx="246.4" cy="413.3" r="1.9" fill="rgb(19.5%,19.5%,19.5%)"/>
<circle cx="42.4" cy="409.8" r="2.3" fill="rgb(20.8%,20.8%,20.8%)"/>
<circle cx="238.3" cy="251.8" r="1.6" fill="rgb(25.7%,25.7%,25.7%)"/>
<circle cx="291.6" cy="150.0" r="1.2" fill="rgb(21.6%,21.6%,21.6%)"/>
<ellipse cx="29.7" cy="67.4" rx="11.6" ry="9.4" fill="rgb(20.6%,20.6%,20.6%)"/>
<ellipse cx="64.9" cy="71.8" rx="19.3" ry="11.6" fill="rgb(20.6%,20.6%,20.6%)" transform="rotate(15 64.9 71.8)"/>
<ellipse cx="99.0" cy="66.3" rx="14.9" ry="8.3" fill="rgb(20.6%,20.6%,20.6%)"/>
<ellipse cx="94.6" cy="81.7" rx="9.4" ry="9.4" fill="rgb(20.6%,20.6%,20.6%)"/>
<ellipse cx="124.3" cy="81.7" rx="21.5" ry="13.8" fill="rgb(20.6%,20.6%,20.6%)" transform="rotate(-15 124.3 81.7)"/>
<ellipse cx="157.3" cy="77.3" rx="10.5" ry="10.5" fill="rgb(20.6%,20.6%,20.6%)"/>
<ellipse cx="187.0" cy="80.6" rx="16.0" ry="17.1" fill="rgb(20.6%,20.6%,20.6%)" transform="rotate(30 187.0 80.6)"/>
<ellipse cx="216.7" cy="75.1" rx="13.8" ry="13.8" fill="rgb(20.6%,20.6%,20.6%)"/>
<ellipse cx="34.1" cy="94.9" rx="22.6" ry="16.0" fill="rgb(20.6%,20.6%,20.6%)" transform="rotate(-10 34.1 94.9)"/>
<ellipse cx="93.5" cy="101.5" rx="11.6" ry="14.9" fill="rgb(20.6%,20.6%,20.6%)"/>
<ellipse cx="111.1" cy="102.0" rx="7.2" ry="7.2" fill="rgb(20.6%,20.6%,20.6%)"/>
<ellipse cx="129.8" cy="104.2" rx="8.3" ry="8.3" fill="rgb(20.6%,20.6%,20.6%)"/>
<ellipse cx="152.9" cy="98.2" rx="14.9" ry="12.7" fill="rgb(20.6%,20.6%,20.6%)"/>
<ellipse cx="213.4" cy="105.9" rx="14.9" ry="17.1" fill="rgb(20.6%,20.6%,20.6%)"/>
<ellipse cx="62.7" cy="110.3" rx="16.0" ry="13.8" fill="rgb(20.6%,20.6%,20.6%)"/>
<ellipse cx="182.6" cy="113.6" rx="16.0" ry="16.0" fill="rgb(20.6%,20.6%,20.6%)"/>
<ellipse cx="35.7" cy="121.3" rx="8.8" ry="8.8" fill="rgb(20.6%,20.6%,20.6%)"/>
<ellipse cx="118.8" cy="116.3" rx="7.7" ry="7.7" fill="rgb(20.6%,20.6%,20.6%)"/>
<ellipse cx="139.1" cy="124.0" rx="13.8" ry="11.0" fill="rgb(20.6%,20.6%,20.6%)"/>
<ellipse cx="165.0" cy="132.3" rx="11.6" ry="13.8" fill="rgb(20.6%,20.6%,20.6%)"/>
<ellipse cx="93.5" cy="133.4" rx="14.9" ry="16.0" fill="rgb(20.6%,20.6%,20.6%)"/>
<ellipse cx="123.2" cy="137.8" rx="13.2" ry="11.0" fill="rgb(20.6%,20.6%,20.6%)"/>
<ellipse cx="148.5" cy="144.9" rx="13.2" ry="11.6" fill="rgb(20.6%,20.6%,20.6%)"/>
<ellipse cx="214.5" cy="135.6" rx="13.8" ry="11.6" fill="rgb(20.6%,20.6%,20.6%)"/>
<ellipse cx="52.8" cy="144.4" rx="24.8" ry="14.9" fill="rgb(20.6%,20.6%,20.6%)" transform="rotate(-5 52.8 144.4)"/>
<ellipse cx="191.4" cy="144.4" rx="16.0" ry="12.7" fill="rgb(20.6%,20.6%,20.6%)"/>
<ellipse cx="220.0" cy="151.0" rx="7.7" ry="7.7" fill="rgb(20.6%,20.6%,20.6%)"/>
<ellipse cx="121.0" cy="168.6" rx="16.0" ry="19.3" fill="rgb(20.6%,20.6%,20.6%)"/>
<ellipse cx="93.5" cy="166.4" rx="11.0" ry="11.0" fill="rgb(20.6%,20.6%,20.6%)"/>
<ellipse cx="28.6" cy="177.4" rx="17.1" ry="16.0" fill="rgb(20.6%,20.6%,20.6%)"/>
<ellipse cx="58.3" cy="178.5" rx="12.7" ry="17.1" fill="rgb(20.6%,20.6%,20.6%)" transform="rotate(15 58.3 178.5)"/>
<ellipse cx="88.0" cy="185.1" rx="11.6" ry="11.6" fill="rgb(20.6%,20.6%,20.6%)"/>
<ellipse cx="143.0" cy="182.9" rx="8.3" ry="8.3" fill="rgb(20.6%,20.6%,20.6%)"/>
<ellipse cx="166.1" cy="179.6" rx="14.9" ry="22.6" fill="rgb(20.6%,20.6%,20.6%)" transform="rotate(-10 166.1 179.6)"/>
<ellipse cx="207.9" cy="177.4" rx="19.3" ry="18.2" fill="rgb(20.6%,20.6%,20.6%)"/>
<ellipse cx="189.2" cy="186.2" rx="7.2" ry="7.2" fill="rgb(20.6%,20.6%,20.6%)"/>
<ellipse cx="38.5" cy="208.2" rx="13.8" ry="13.8" fill="rgb(20.6%,20.6%,20.6%)"/>
<ellipse cx="70.4" cy="203.8" rx="11.0" ry="11.0" fill="rgb(20.6%,20.6%,20.6%)"/>
<ellipse cx="117.7" cy="203.8" rx="17.1" ry="13.8" fill="rgb(20.6%,20.6%,20.6%)"/>
<ellipse cx="184.8" cy="208.2" rx="10.5" ry="10.5" fill="rgb(20.6%,20.6%,20.6%)"/>
<ellipse cx="205.7" cy="209.3" rx="9.4" ry="9.4" fill="rgb(20.6%,20.6%,20.6%)"/>
<ellipse cx="221.1" cy="209.3" rx="7.7" ry="7.7" fill="rgb(20.6%,20.6%,20.6%)"/>
<ellipse cx="198.0" cy="200.5" rx="8.3" ry="8.3" fill="rgb(20.6%,20.6%,20.6%)"/>
<ellipse cx="91.3" cy="224.7" rx="17.1" ry="21.5" fill="rgb(20.6%,20.6%,20.6%)"/>
<ellipse cx="55.0" cy="230.2" rx="11.6" ry="16.0" fill="rgb(20.6%,20.6%,20.6%)" transform="rotate(10 55.0 230.2)"/>
<ellipse cx="128.7" cy="222.5" rx="7.7" ry="7.7" fill="rgb(20.6%,20.6%,20.6%)"/>
<ellipse cx="215.6" cy="225.8" rx="11.6" ry="11.6" fill="rgb(20.6%,20.6%,20.6%)"/>
<ellipse cx="118.8" cy="241.2" rx="13.8" ry="10.5" fill="rgb(20.6%,20.6%,20.6%)"/>
<ellipse cx="170.5" cy="229.1" rx="7.2" ry="7.2" fill="rgb(20.6%,20.6%,20.6%)"/>
<ellipse cx="22.0" cy="214.8" rx="7.7" ry="12.7" fill="rgb(20.6%,20.6%,20.6%)"/>
<ellipse cx="264.4" cy="71.8" rx="16.0" ry="13.8" fill="rgb(20.6%,20.6%,20.6%)"/>
<ellipse cx="229.2" cy="71.8" rx="8.3" ry="12.7" fill="rgb(20.6%,20.6%,20.6%)"/>
<ellipse cx="296.3" cy="80.6" rx="11.6" ry="11.6" fill="rgb(20.6%,20.6%,20.6%)" transform="rotate(30 296.3 80.6)"/>
<ellipse cx="332.6" cy="74.0" rx="20.4" ry="10.5" fill="rgb(20.6%,20.6%,20.6%)" transform="rotate(25 332.6 74.0)"/>
<ellipse cx="365.6" cy="82.8" rx="12.7" ry="13.8" fill="rgb(20.6%,20.6%,20.6%)"/>
<ellipse cx="392.0" cy="75.1" rx="12.7" ry="11.6" fill="rgb(20.6%,20.6%,20.6%)"/>
<ellipse cx="427.2" cy="77.3" rx="10.5" ry="16.0" fill="rgb(20.6%,20.6%,20.6%)"/>
<ellipse cx="244.6" cy="97.1" rx="14.9" ry="17.1" fill="rgb(20.6%,20.6%,20.6%)"/>
<ellipse cx="278.7" cy="90.5" rx="7.7" ry="7.7" fill="rgb(20.6%,20.6%,20.6%)"/>
<ellipse cx="321.0" cy="86.1" rx="9.4" ry="8.8" fill="rgb(20.6%,20.6%,20.6%)"/>
<ellipse cx="379.9" cy="94.9" rx="9.4" ry="9.4" fill="rgb(20.6%,20.6%,20.6%)"/>
<ellipse cx="403.0" cy="98.2" rx="16.0" ry="16.0" fill="rgb(20.6%,20.6%,20.6%)"/>
<ellipse cx="330.4" cy="112.5" rx="31.4" ry="19.3" fill="rgb(20.6%,20.6%,20.6%)" transform="rotate(-10 330.4 112.5)"/>
<ellipse cx="277.6" cy="115.8" rx="14.9" ry="14.9" fill="rgb(20.6%,20.6%,20.6%)"/>
<ellipse cx="244.6" cy="125.1" rx="13.8" ry="11.0" fill="rgb(20.6%,20.6%,20.6%)"/>
<ellipse cx="377.7" cy="124.6" rx="12.7" ry="13.8" fill="rgb(20.6%,20.6%,20.6%)"/>
<ellipse cx="426.1" cy="109.2" rx="9.4" ry="12.7" fill="rgb(20.6%,20.6%,20.6%)"/>
<ellipse cx="398.6" cy="137.8" rx="19.3" ry="16.0" fill="rgb(20.6%,20.6%,20.6%)" transform="rotate(-35 398.6 137.8)"/>
<ellipse cx="427.2" cy="140.0" rx="10.5" ry="13.8" fill="rgb(20.6%,20.6%,20.6%)"/>
<ellipse cx="278.7" cy="140.0" rx="9.9" ry="9.9" fill="rgb(20.6%,20.6%,20.6%)"/>
<ellipse cx="301.8" cy="138.9" rx="10.5" ry="9.9" fill="rgb(20.6%,20.6%,20.6%)"/>
<ellipse cx="323.8" cy="146.6" rx="12.7" ry="12.7" fill="rgb(20.6%,20.6%,20.6%)"/>
<ellipse cx="354.6" cy="148.8" rx="19.3" ry="21.5" fill="rgb(20.6%,20.6%,20.6%)"/>
<ellipse cx="250.1" cy="156.5" rx="23.7" ry="19.3" fill="rgb(20.6%,20.6%,20.6%)"/>
<ellipse cx="307.3" cy="167.5" rx="13.8" ry="14.9" fill="rgb(20.6%,20.6%,20.6%)"/>
<ellipse cx="332.6" cy="179.6" rx="12.7" ry="18.2" fill="rgb(20.6%,20.6%,20.6%)" transform="rotate(15 332.6 179.6)"/>
<ellipse cx="379.9" cy="173.0" rx="11.6" ry="17.1" fill="rgb(20.6%,20.6%,20.6%)" transform="rotate(10 379.9 173.0)"/>
<ellipse cx="426.1" cy="167.5" rx="11.6" ry="14.9" fill="rgb(20.6%,20.6%,20.6%)"/>
<ellipse cx="263.3" cy="190.6" rx="17.1" ry="18.2" fill="rgb(20.6%,20.6%,20.6%)"/>
<ellipse cx="295.2" cy="192.8" rx="12.7" ry="13.8" fill="rgb(20.6%,20.6%,20.6%)"/>
<ellipse cx="234.7" cy="198.3" rx="9.4" ry="9.4" fill="rgb(20.6%,20.6%,20.6%)"/>
<ellipse cx="236.9" cy="186.2" rx="6.6" ry="6.6" fill="rgb(20.6%,20.6%,20.6%)"/>
<ellipse cx="355.7" cy="198.3" rx="18.2" ry="17.1" fill="rgb(20.6%,20.6%,20.6%)"/>
<ellipse cx="385.4" cy="201.6" rx="12.7" ry="11.6" fill="rgb(20.6%,20.6%,20.6%)"/>
<ellipse cx="416.2" cy="189.5" rx="12.7" ry="11.6" fill="rgb(20.6%,20.6%,20.6%)"/>
<ellipse cx="247.9" cy="213.7" rx="14.9" ry="12.7" fill="rgb(20.6%,20.6%,20.6%)"/>
<ellipse cx="279.8" cy="220.3" rx="13.8" ry="11.6" fill="rgb(20.6%,20.6%,20.6%)"/>
<ellipse cx="321.6" cy="217.0" rx="21.5" ry="19.3" fill="rgb(20.6%,20.6%,20.6%)"/>
<ellipse cx="371.1" cy="226.9" rx="14.9" ry="13.8" fill="rgb(20.6%,20.6%,20.6%)"/>
<ellipse cx="401.9" cy="213.7" rx="14.9" ry="16.0" fill="rgb(20.6%,20.6%,20.6%)"/>
<ellipse cx="425.0" cy="208.2" rx="10.5" ry="11.6" fill="rgb(20.6%,20.6%,20.6%)"/>
<ellipse cx="310.6" cy="235.7" rx="13.8" ry="10.5" fill="rgb(20.6%,20.6%,20.6%)"/>
<ellipse cx="392.0" cy="241.2" rx="14.9" ry="11.6" fill="rgb(20.6%,20.6%,20.6%)"/>
<ellipse cx="423.9" cy="234.6" rx="11.6" ry="13.8" fill="rgb(20.6%,20.6%,20.6%)"/>
<ellipse cx="297.4" cy="211.5" rx="8.3" ry="7.2" fill="rgb(20.6%,20.6%,20.6%)"/>
<ellipse cx="286.4" cy="234.6" rx="7.2" ry="6.6" fill="rgb(20.6%,20.6%,20.6%)"/>
<ellipse cx="392.0" cy="187.3" rx="6.6" ry="6.6" fill="rgb(20.6%,20.6%,20.6%)"/>
<ellipse cx="25.3" cy="253.7" rx="9.4" ry="14.9" fill="rgb(20.6%,20.6%,20.6%)"/>
<ellipse cx="42.9" cy="257.0" rx="8.8" ry="8.3" fill="rgb(20.6%,20.6%,20.6%)"/>
<ellipse cx="68.2" cy="258.1" rx="7.7" ry="7.2" fill="rgb(20.6%,20.6%,20.6%)"/>
<ellipse cx="96.8" cy="254.8" rx="8.3" ry="7.7" fill="rgb(20.6%,20.6%,20.6%)"/>
<ellipse cx="123.2" cy="261.4" rx="9.9" ry="9.4" fill="rgb(20.6%,20.6%,20.6%)"/>
<ellipse cx="148.5" cy="250.4" rx="14.9" ry="16.0" fill="rgb(20.6%,20.6%,20.6%)"/>
<ellipse cx="198.0" cy="243.8" rx="25.9" ry="20.4" fill="rgb(20.6%,20.6%,20.6%)"/>
<ellipse cx="51.7" cy="287.8" rx="16.0" ry="21.5" fill="rgb(20.6%,20.6%,20.6%)"/>
<ellipse cx="28.6" cy="281.2" rx="8.3" ry="9.4" fill="rgb(20.6%,20.6%,20.6%)"/>
<ellipse cx="77.0" cy="280.1" rx="9.9" ry="12.7" fill="rgb(20.6%,20.6%,20.6%)"/>
<ellipse cx="103.4" cy="282.3" rx="16.0" ry="19.3" fill="rgb(20.6%,20.6%,20.6%)" transform="rotate(15 103.4 282.3)"/>
<ellipse cx="139.7" cy="290.0" rx="24.8" ry="17.1" fill="rgb(20.6%,20.6%,20.6%)" transform="rotate(-25 139.7 290.0)"/>
<ellipse cx="191.4" cy="276.8" rx="13.8" ry="10.5" fill="rgb(20.6%,20.6%,20.6%)"/>
<ellipse cx="220.0" cy="273.5" rx="11.6" ry="9.4" fill="rgb(20.6%,20.6%,20.6%)"/>
<ellipse cx="182.6" cy="295.5" rx="9.9" ry="9.9" fill="rgb(20.6%,20.6%,20.6%)"/>
<ellipse cx="221.1" cy="291.1" rx="8.3" ry="7.7" fill="rgb(20.6%,20.6%,20.6%)"/>
<ellipse cx="220.0" cy="305.4" rx="10.5" ry="8.8" fill="rgb(20.6%,20.6%,20.6%)"/>
<ellipse cx="24.2" cy="302.1" rx="7.2" ry="7.2" fill="rgb(20.6%,20.6%,20.6%)"/>
<ellipse cx="89.1" cy="309.2" rx="14.9" ry="9.9" fill="rgb(20.6%,20.6%,20.6%)"/>
<ellipse cx="25.3" cy="320.8" rx="8.8" ry="12.7" fill="rgb(20.6%,20.6%,20.6%)"/>
<ellipse cx="55.0" cy="325.2" rx="14.9" ry="10.5" fill="rgb(20.6%,20.6%,20.6%)"/>
<ellipse cx="100.1" cy="330.7" rx="25.9" ry="17.1" fill="rgb(20.6%,20.6%,20.6%)" transform="rotate(-20 100.1 330.7)"/>
<ellipse cx="134.2" cy="318.6" rx="7.7" ry="7.2" fill="rgb(20.6%,20.6%,20.6%)"/>
<ellipse cx="161.7" cy="323.0" rx="14.9" ry="17.1" fill="rgb(20.6%,20.6%,20.6%)"/>
<ellipse cx="189.2" cy="326.3" rx="9.9" ry="11.0" fill="rgb(20.6%,20.6%,20.6%)"/>
<ellipse cx="215.6" cy="329.6" rx="16.0" ry="16.0" fill="rgb(20.6%,20.6%,20.6%)"/>
<ellipse cx="56.1" cy="348.3" rx="16.0" ry="12.7" fill="rgb(20.6%,20.6%,20.6%)"/>
<ellipse cx="137.5" cy="341.7" rx="7.7" ry="6.6" fill="rgb(20.6%,20.6%,20.6%)"/>
<ellipse cx="180.4" cy="338.4" rx="6.6" ry="6.6" fill="rgb(20.6%,20.6%,20.6%)"/>
<ellipse cx="96.8" cy="359.3" rx="12.7" ry="12.1" fill="rgb(20.6%,20.6%,20.6%)"/>
<ellipse cx="172.7" cy="358.2" rx="30.3" ry="17.1" fill="rgb(20.6%,20.6%,20.6%)"/>
<ellipse cx="132.0" cy="372.5" rx="17.1" ry="21.5" fill="rgb(20.6%,20.6%,20.6%)" transform="rotate(-35 132.0 372.5)"/>
<ellipse cx="25.3" cy="356.0" rx="7.2" ry="10.5" fill="rgb(20.6%,20.6%,20.6%)"/>
<ellipse cx="47.3" cy="370.3" rx="17.1" ry="12.7" fill="rgb(20.6%,20.6%,20.6%)" transform="rotate(-20 47.3 370.3)"/>
<ellipse cx="80.3" cy="375.8" rx="10.5" ry="10.5" fill="rgb(20.6%,20.6%,20.6%)"/>
<ellipse cx="222.2" cy="359.3" rx="8.3" ry="11.6" fill="rgb(20.6%,20.6%,20.6%)"/>
<ellipse cx="67.1" cy="393.4" rx="13.8" ry="11.6" fill="rgb(20.6%,20.6%,20.6%)"/>
<ellipse cx="90.2" cy="397.8" rx="12.7" ry="12.7" fill="rgb(20.6%,20.6%,20.6%)"/>
<ellipse cx="117.7" cy="395.6" rx="13.8" ry="14.9" fill="rgb(20.6%,20.6%,20.6%)"/>
<ellipse cx="147.4" cy="398.9" rx="8.3" ry="8.3" fill="rgb(20.6%,20.6%,20.6%)"/>
<ellipse cx="182.6" cy="396.7" rx="14.9" ry="22.6" fill="rgb(20.6%,20.6%,20.6%)"/>
<ellipse cx="209.0" cy="385.7" rx="10.5" ry="10.5" fill="rgb(20.6%,20.6%,20.6%)"/>
<ellipse cx="24.2" cy="389.0" rx="7.2" ry="10.5" fill="rgb(20.6%,20.6%,20.6%)"/>
<ellipse cx="210.1" cy="407.7" rx="11.6" ry="11.6" fill="rgb(20.6%,20.6%,20.6%)"/>
<ellipse cx="30.8" cy="414.3" rx="16.0" ry="16.0" fill="rgb(20.6%,20.6%,20.6%)"/>
<ellipse cx="61.6" cy="417.6" rx="16.0" ry="11.6" fill="rgb(20.6%,20.6%,20.6%)"/>
<ellipse cx="116.6" cy="419.8" rx="12.7" ry="10.5" fill="rgb(20.6%,20.6%,20.6%)"/>
<ellipse cx="161.7" cy="419.8" rx="12.7" ry="12.7" fill="rgb(20.6%,20.6%,20.6%)"/>
<ellipse cx="136.4" cy="412.1" rx="7.2" ry="7.2" fill="rgb(20.6%,20.6%,20.6%)"/>
<ellipse cx="85.8" cy="424.2" rx="6.1" ry="6.1" fill="rgb(20.6%,20.6%,20.6%)"/>
<ellipse cx="161.7" cy="393.4" rx="6.1" ry="6.1" fill="rgb(20.6%,20.6%,20.6%)"/>
<ellipse cx="258.9" cy="250.4" rx="18.2" ry="28.1" fill="rgb(20.6%,20.6%,20.6%)" transform="rotate(-15 258.9 250.4)"/>
<ellipse cx="236.9" cy="257.0" rx="8.3" ry="8.3" fill="rgb(20.6%,20.6%,20.6%)"/>
<ellipse cx="289.7" cy="253.7" rx="9.4" ry="9.4" fill="rgb(20.6%,20.6%,20.6%)"/>
<ellipse cx="319.4" cy="269.1" rx="28.1" ry="18.2" fill="rgb(20.6%,20.6%,20.6%)" transform="rotate(15 319.4 269.1)"/>
<ellipse cx="353.5" cy="250.4" rx="16.0" ry="16.0" fill="rgb(20.6%,20.6%,20.6%)"/>
<ellipse cx="378.8" cy="261.4" rx="12.7" ry="12.7" fill="rgb(20.6%,20.6%,20.6%)"/>
<ellipse cx="425.0" cy="260.3" rx="10.5" ry="12.7" fill="rgb(20.6%,20.6%,20.6%)"/>
<ellipse cx="401.9" cy="271.3" rx="7.7" ry="7.7" fill="rgb(20.6%,20.6%,20.6%)"/>
<ellipse cx="235.8" cy="281.2" rx="8.3" ry="7.7" fill="rgb(20.6%,20.6%,20.6%)"/>
<ellipse cx="360.1" cy="282.3" rx="12.7" ry="14.9" fill="rgb(20.6%,20.6%,20.6%)"/>
<ellipse cx="419.5" cy="279.0" rx="9.4" ry="8.8" fill="rgb(20.6%,20.6%,20.6%)"/>
<ellipse cx="401.9" cy="293.3" rx="14.9" ry="14.9" fill="rgb(20.6%,20.6%,20.6%)"/>
<ellipse cx="260.0" cy="297.7" rx="16.0" ry="14.9" fill="rgb(20.6%,20.6%,20.6%)"/>
<ellipse cx="290.8" cy="295.5" rx="18.2" ry="21.5" fill="rgb(20.6%,20.6%,20.6%)"/>
<ellipse cx="317.2" cy="298.8" rx="7.2" ry="7.2" fill="rgb(20.6%,20.6%,20.6%)"/>
<ellipse cx="340.3" cy="305.4" rx="16.0" ry="14.9" fill="rgb(20.6%,20.6%,20.6%)"/>
<ellipse cx="365.6" cy="305.4" rx="7.7" ry="7.7" fill="rgb(20.6%,20.6%,20.6%)"/>
<ellipse cx="425.0" cy="306.5" rx="10.5" ry="16.0" fill="rgb(20.6%,20.6%,20.6%)"/>
<ellipse cx="379.9" cy="315.3" rx="12.7" ry="16.0" fill="rgb(20.6%,20.6%,20.6%)"/>
<ellipse cx="403.0" cy="316.4" rx="9.4" ry="9.4" fill="rgb(20.6%,20.6%,20.6%)"/>
<ellipse cx="240.2" cy="310.9" rx="8.3" ry="6.6" fill="rgb(20.6%,20.6%,20.6%)"/>
<ellipse cx="254.5" cy="321.9" rx="11.0" ry="9.9" fill="rgb(20.6%,20.6%,20.6%)"/>
<ellipse cx="313.9" cy="323.0" rx="19.3" ry="11.6" fill="rgb(20.6%,20.6%,20.6%)" transform="rotate(15 313.9 323.0)"/>
<ellipse cx="229.2" cy="329.6" rx="13.8" ry="14.9" fill="rgb(20.6%,20.6%,20.6%)"/>
<ellipse cx="275.4" cy="326.3" rx="6.6" ry="6.6" fill="rgb(20.6%,20.6%,20.6%)"/>
<ellipse cx="290.8" cy="338.4" rx="12.1" ry="14.9" fill="rgb(20.6%,20.6%,20.6%)"/>
<ellipse cx="311.7" cy="340.6" rx="8.8" ry="8.8" fill="rgb(20.6%,20.6%,20.6%)"/>
<ellipse cx="386.5" cy="339.5" rx="14.9" ry="12.7" fill="rgb(20.6%,20.6%,20.6%)"/>
<ellipse cx="416.2" cy="340.6" rx="18.2" ry="18.2" fill="rgb(20.6%,20.6%,20.6%)"/>
<ellipse cx="341.4" cy="351.6" rx="24.8" ry="19.3" fill="rgb(20.6%,20.6%,20.6%)" transform="rotate(-30 341.4 351.6)"/>
<ellipse cx="268.8" cy="349.4" rx="9.4" ry="8.3" fill="rgb(20.6%,20.6%,20.6%)"/>
<ellipse cx="241.3" cy="354.9" rx="18.2" ry="14.9" fill="rgb(20.6%,20.6%,20.6%)" transform="rotate(-15 241.3 354.9)"/>
<ellipse cx="301.8" cy="360.4" rx="8.3" ry="8.3" fill="rgb(20.6%,20.6%,20.6%)"/>
<ellipse cx="383.2" cy="365.9" rx="10.5" ry="14.9" fill="rgb(20.6%,20.6%,20.6%)"/>
<ellipse cx="271.0" cy="367.0" rx="12.7" ry="12.7" fill="rgb(20.6%,20.6%,20.6%)"/>
<ellipse cx="410.7" cy="373.6" rx="18.2" ry="18.2" fill="rgb(20.6%,20.6%,20.6%)"/>
<ellipse cx="310.6" cy="381.3" rx="25.9" ry="13.8" fill="rgb(20.6%,20.6%,20.6%)" transform="rotate(15 310.6 381.3)"/>
<ellipse cx="351.3" cy="386.8" rx="12.7" ry="11.6" fill="rgb(20.6%,20.6%,20.6%)"/>
<ellipse cx="374.4" cy="392.3" rx="13.8" ry="10.5" fill="rgb(20.6%,20.6%,20.6%)"/>
<ellipse cx="240.2" cy="390.1" rx="16.0" ry="18.2" fill="rgb(20.6%,20.6%,20.6%)" transform="rotate(-15 240.2 390.1)"/>
<ellipse cx="266.6" cy="385.7" rx="7.2" ry="7.2" fill="rgb(20.6%,20.6%,20.6%)"/>
<ellipse cx="285.3" cy="396.7" rx="16.0" ry="10.5" fill="rgb(20.6%,20.6%,20.6%)"/>
<ellipse cx="320.5" cy="412.1" rx="18.2" ry="17.1" fill="rgb(20.6%,20.6%,20.6%)"/>
<ellipse cx="352.4" cy="406.6" rx="9.4" ry="9.4" fill="rgb(20.6%,20.6%,20.6%)"/>
<ellipse cx="388.7" cy="407.7" rx="14.9" ry="9.4" fill="rgb(20.6%,20.6%,20.6%)"/>
<ellipse cx="419.5" cy="395.6" rx="8.3" ry="8.3" fill="rgb(20.6%,20.6%,20.6%)"/>
<ellipse cx="429.4" cy="397.8" rx="6.1" ry="6.1" fill="rgb(20.6%,20.6%,20.6%)"/>
<ellipse cx="420.6" cy="417.6" rx="14.9" ry="13.8" fill="rgb(20.6%,20.6%,20.6%)"/>
<ellipse cx="271.0" cy="419.8" rx="16.0" ry="12.7" fill="rgb(20.6%,20.6%,20.6%)"/>
<ellipse cx="235.8" cy="420.9" rx="17.1" ry="14.9" fill="rgb(20.6%,20.6%,20.6%)"/>
<ellipse cx="367.8" cy="411.0" rx="8.3" ry="8.3" fill="rgb(20.6%,20.6%,20.6%)"/>
<ellipse cx="368.9" cy="424.2" rx="9.4" ry="7.2" fill="rgb(20.6%,20.6%,20.6%)"/>
<ellipse cx="286.4" cy="412.1" rx="7.2" ry="7.2" fill="rgb(20.6%,20.6%,20.6%)"/>
<ellipse cx="253.4" cy="380.2" rx="6.6" ry="6.6" fill="rgb(20.6%,20.6%,20.6%)"/>
<ellipse cx="395.3" cy="392.3" rx="6.1" ry="6.1" fill="rgb(20.6%,20.6%,20.6%)"/>
<ellipse cx="29.7" cy="67.4" rx="8.8" ry="6.6" fill="rgb(30.6%,30.6%,30.6%)"/>
<ellipse cx="64.9" cy="71.8" rx="16.5" ry="8.8" fill="url(#g0)" transform="rotate(15 64.9 71.8)"/>
<ellipse cx="99.0" cy="66.3" rx="12.1" ry="5.5" fill="rgb(30.6%,30.6%,30.6%)"/>
<ellipse cx="94.6" cy="81.7" rx="6.6" ry="6.6" fill="rgb(30.6%,30.6%,30.6%)"/>
<ellipse cx="124.3" cy="81.7" rx="18.7" ry="11.0" fill="url(#g1)" transform="rotate(-15 124.3 81.7)"/>
<ellipse cx="157.3" cy="77.3" rx="7.7" ry="7.7" fill="rgb(30.6%,30.6%,30.6%)"/>
<ellipse cx="187.0" cy="80.6" rx="13.2" ry="14.3" fill="url(#g0)" transform="rotate(30 187.0 80.6)"/>
<ellipse cx="216.7" cy="75.1" rx="11.0" ry="11.0" fill="url(#g1)"/>
<ellipse cx="34.1" cy="94.9" rx="19.8" ry="13.2" fill="url(#g2)" transform="rotate(-10 34.1 94.9)"/>
<ellipse cx="93.5" cy="101.5" rx="8.8" ry="12.1" fill="rgb(30.6%,30.6%,30.6%)"/>
<ellipse cx="111.1" cy="102.0" rx="4.4" ry="4.4" fill="rgb(30.6%,30.6%,30.6%)"/>
<ellipse cx="129.8" cy="104.2" rx="5.5" ry="5.5" fill="rgb(30.6%,30.6%,30.6%)"/>
<ellipse cx="152.9" cy="98.2" rx="12.1" ry="9.9" fill="rgb(30.6%,30.6%,30.6%)"/>
<ellipse cx="213.4" cy="105.9" rx="12.1" ry="14.3" fill="rgb(30.6%,30.6%,30.6%)"/>
<ellipse cx="62.7" cy="110.3" rx="13.2" ry="11.0" fill="url(#g0)"/>
<ellipse cx="182.6" cy="113.6" rx="13.2" ry="13.2" fill="url(#g0)"/>
<ellipse cx="35.7" cy="121.3" rx="6.0" ry="6.0" fill="rgb(30.6%,30.6%,30.6%)"/>
<ellipse cx="118.8" cy="116.3" rx="4.9" ry="4.9" fill="rgb(30.6%,30.6%,30.6%)"/>
<ellipse cx="139.1" cy="124.0" rx="11.0" ry="8.2" fill="url(#g3)"/>
<ellipse cx="165.0" cy="132.3" rx="8.8" ry="11.0" fill="url(#g1)"/>
<ellipse cx="93.5" cy="133.4" rx="12.1" ry="13.2" fill="url(#g3)"/>
<ellipse cx="123.2" cy="137.8" rx="10.4" ry="8.2" fill="url(#g3)"/>
<ellipse cx="148.5" cy="144.9" rx="10.4" ry="8.8" fill="url(#g3)"/>
<ellipse cx="214.5" cy="135.6" rx="11.0" ry="8.8" fill="url(#g3)"/>
<ellipse cx="52.8" cy="144.4" rx="22.0" ry="12.1" fill="url(#g3)" transform="rotate(-5 52.8 144.4)"/>
<ellipse cx="191.4" cy="144.4" rx="13.2" ry="9.9" fill="url(#g3)"/>
<ellipse cx="220.0" cy="151.0" rx="4.9" ry="4.9" fill="rgb(30.6%,30.6%,30.6%)"/>
<ellipse cx="121.0" cy="168.6" rx="13.2" ry="16.5" fill="url(#g4)"/>
<ellipse cx="93.5" cy="166.4" rx="8.2" ry="8.2" fill="url(#g1)"/>
<ellipse cx="28.6" cy="177.4" rx="14.3" ry="13.2" fill="url(#g2)"/>
<ellipse cx="58.3" cy="178.5" rx="9.9" ry="14.3" fill="url(#g1)" transform="rotate(15 58.3 178.5)"/>
<ellipse cx="88.0" cy="185.1" rx="8.8" ry="8.8" fill="url(#g1)"/>
<ellipse cx="143.0" cy="182.9" rx="5.5" ry="5.5" fill="rgb(30.6%,30.6%,30.6%)"/>
<ellipse cx="166.1" cy="179.6" rx="12.1" ry="19.8" fill="url(#g5)" transform="rotate(-10 166.1 179.6)"/>
<ellipse cx="207.9" cy="177.4" rx="16.5" ry="15.4" fill="url(#g4)"/>
<ellipse cx="189.2" cy="186.2" rx="4.4" ry="4.4" fill="rgb(30.6%,30.6%,30.6%)"/>
<ellipse cx="38.5" cy="208.2" rx="11.0" ry="11.0" fill="url(#g5)"/>
<ellipse cx="70.4" cy="203.8" rx="8.2" ry="8.2" fill="rgb(30.6%,30.6%,30.6%)"/>
<ellipse cx="117.7" cy="203.8" rx="14.3" ry="11.0" fill="url(#g0)"/>
<ellipse cx="184.8" cy="208.2" rx="7.7" ry="7.7" fill="url(#g1)"/>
<ellipse cx="205.7" cy="209.3" rx="6.6" ry="6.6" fill="url(#g1)"/>
<ellipse cx="221.1" cy="209.3" rx="4.9" ry="4.9" fill="rgb(30.6%,30.6%,30.6%)"/>
<ellipse cx="198.0" cy="200.5" rx="5.5" ry="5.5" fill="rgb(30.6%,30.6%,30.6%)"/>
<ellipse cx="91.3" cy="224.7" rx="14.3" ry="18.7" fill="url(#g2)"/>
<ellipse cx="55.0" cy="230.2" rx="8.8" ry="13.2" fill="rgb(30.6%,30.6%,30.6%)" transform="rotate(10 55.0 230.2)"/>
<ellipse cx="128.7" cy="222.5" rx="4.9" ry="4.9" fill="url(#g1)"/>
<ellipse cx="215.6" cy="225.8" rx="8.8" ry="8.8" fill="url(#g0)"/>
<ellipse cx="118.8" cy="241.2" rx="11.0" ry="7.7" fill="rgb(30.6%,30.6%,30.6%)"/>
<ellipse cx="170.5" cy="229.1" rx="4.4" ry="4.4" fill="rgb(24.2%,24.2%,24.2%)"/>
<ellipse cx="22.0" cy="214.8" rx="4.9" ry="9.9" fill="url(#g3)"/>
<ellipse cx="264.4" cy="71.8" rx="13.2" ry="11.0" fill="url(#g3)"/>
<ellipse cx="229.2" cy="71.8" rx="5.5" ry="9.9" fill="url(#g1)"/>
<ellipse cx="296.3" cy="80.6" rx="8.8" ry="8.8" fill="rgb(30.6%,30.6%,30.6%)" transform="rotate(30 296.3 80.6)"/>
<ellipse cx="332.6" cy="74.0" rx="17.6" ry="7.7" fill="rgb(30.6%,30.6%,30.6%)" transform="rotate(25 332.6 74.0)"/>
<ellipse cx="365.6" cy="82.8" rx="9.9" ry="11.0" fill="rgb(30.6%,30.6%,30.6%)"/>
<ellipse cx="392.0" cy="75.1" rx="9.9" ry="8.8" fill="url(#g1)"/>
<ellipse cx="427.2" cy="77.3" rx="7.7" ry="13.2" fill="url(#g1)"/>
<ellipse cx="244.6" cy="97.1" rx="12.1" ry="14.3" fill="url(#g3)"/>
<ellipse cx="278.7" cy="90.5" rx="4.9" ry="4.9" fill="rgb(25.8%,25.8%,25.8%)"/>
<ellipse cx="321.0" cy="86.1" rx="6.6" ry="6.0" fill="rgb(27.4%,27.4%,27.4%)"/>
<ellipse cx="379.9" cy="94.9" rx="6.6" ry="6.6" fill="rgb(27.4%,27.4%,27.4%)"/>
<ellipse cx="403.0" cy="98.2" rx="13.2" ry="13.2" fill="url(#g6)"/>
<ellipse cx="330.4" cy="112.5" rx="28.6" ry="16.5" fill="url(#g2)" transform="rotate(-10 330.4 112.5)"/>
<ellipse cx="277.6" cy="115.8" rx="12.1" ry="12.1" fill="url(#g7)"/>
<ellipse cx="244.6" cy="125.1" rx="11.0" ry="8.2" fill="url(#g3)"/>
<ellipse cx="377.7" cy="124.6" rx="9.9" ry="11.0" fill="url(#g1)"/>
<ellipse cx="426.1" cy="109.2" rx="6.6" ry="9.9" fill="rgb(30.6%,30.6%,30.6%)"/>
<ellipse cx="398.6" cy="137.8" rx="16.5" ry="13.2" fill="url(#g5)" transform="rotate(-35 398.6 137.8)"/>
<ellipse cx="427.2" cy="140.0" rx="7.7" ry="11.0" fill="url(#g3)"/>
<ellipse cx="278.7" cy="140.0" rx="7.1" ry="7.1" fill="rgb(27.4%,27.4%,27.4%)"/>
<ellipse cx="301.8" cy="138.9" rx="7.7" ry="7.1" fill="rgb(30.6%,30.6%,30.6%)"/>
<ellipse cx="323.8" cy="146.6" rx="9.9" ry="9.9" fill="url(#g8)"/>
<ellipse cx="354.6" cy="148.8" rx="16.5" ry="18.7" fill="url(#g9)"/>
<ellipse cx="250.1" cy="156.5" rx="20.9" ry="16.5" fill="url(#g10)"/>
<ellipse cx="307.3" cy="167.5" rx="11.0" ry="12.1" fill="url(#g0)"/>
<ellipse cx="332.6" cy="179.6" rx="9.9" ry="15.4" fill="url(#g3)" transform="rotate(15 332.6 179.6)"/>
<ellipse cx="379.9" cy="173.0" rx="8.8" ry="14.3" fill="url(#g1)" transform="rotate(10 379.9 173.0)"/>
<ellipse cx="426.1" cy="167.5" rx="8.8" ry="12.1" fill="url(#g1)"/>
<ellipse cx="263.3" cy="190.6" rx="14.3" ry="15.4" fill="url(#g5)"/>
<ellipse cx="295.2" cy="192.8" rx="9.9" ry="11.0" fill="rgb(33.9%,33.9%,33.9%)"/>
<ellipse cx="234.7" cy="198.3" rx="6.6" ry="6.6" fill="url(#g3)"/>
<ellipse cx="236.9" cy="186.2" rx="3.8" ry="3.8" fill="rgb(24.2%,24.2%,24.2%)"/>
<ellipse cx="355.7" cy="198.3" rx="15.4" ry="14.3" fill="url(#g11)"/>
<ellipse cx="385.4" cy="201.6" rx="9.9" ry="8.8" fill="url(#g1)"/>
<ellipse cx="416.2" cy="189.5" rx="9.9" ry="8.8" fill="rgb(30.6%,30.6%,30.6%)"/>
<ellipse cx="247.9" cy="213.7" rx="12.1" ry="9.9" fill="url(#g12)"/>
<ellipse cx="279.8" cy="220.3" rx="11.0" ry="8.8" fill="url(#g3)"/>
<ellipse cx="321.6" cy="217.0" rx="18.7" ry="16.5" fill="url(#g10)"/>
<ellipse cx="371.1" cy="226.9" rx="12.1" ry="11.0" fill="url(#g3)"/>
<ellipse cx="401.9" cy="213.7" rx="12.1" ry="13.2" fill="url(#g13)"/>
<ellipse cx="425.0" cy="208.2" rx="7.7" ry="8.8" fill="rgb(33.9%,33.9%,33.9%)"/>
<ellipse cx="310.6" cy="235.7" rx="11.0" ry="7.7" fill="url(#g7)"/>
<ellipse cx="392.0" cy="241.2" rx="12.1" ry="8.8" fill="url(#g7)"/>
<ellipse cx="423.9" cy="234.6" rx="8.8" ry="11.0" fill="url(#g5)"/>
<ellipse cx="297.4" cy="211.5" rx="5.5" ry="4.4" fill="rgb(24.2%,24.2%,24.2%)"/>
<ellipse cx="286.4" cy="234.6" rx="4.4" ry="3.8" fill="rgb(24.2%,24.2%,24.2%)"/>
<ellipse cx="392.0" cy="187.3" rx="3.8" ry="3.8" fill="rgb(30.6%,30.6%,30.6%)"/>
<ellipse cx="25.3" cy="253.7" rx="6.6" ry="12.1" fill="url(#g0)"/>
<ellipse cx="42.9" cy="257.0" rx="6.0" ry="5.5" fill="rgb(30.6%,30.6%,30.6%)"/>
<ellipse cx="68.2" cy="258.1" rx="4.9" ry="4.4" fill="rgb(27.4%,27.4%,27.4%)"/>
<ellipse cx="96.8" cy="254.8" rx="5.5" ry="4.9" fill="rgb(27.4%,27.4%,27.4%)"/>
<ellipse cx="123.2" cy="261.4" rx="7.1" ry="6.6" fill="rgb(35.5%,35.5%,35.5%)"/>
<ellipse cx="148.5" cy="250.4" rx="12.1" ry="13.2" fill="url(#g5)"/>
<ellipse cx="198.0" cy="243.8" rx="23.1" ry="17.6" fill="url(#g4)"/>
<ellipse cx="51.7" cy="287.8" rx="13.2" ry="18.7" fill="url(#g4)"/>
<ellipse cx="28.6" cy="281.2" rx="5.5" ry="6.6" fill="url(#g7)"/>
<ellipse cx="77.0" cy="280.1" rx="7.1" ry="9.9" fill="url(#g1)"/>
<ellipse cx="103.4" cy="282.3" rx="13.2" ry="16.5" fill="url(#g4)" transform="rotate(15 103.4 282.3)"/>
<ellipse cx="139.7" cy="290.0" rx="22.0" ry="14.3" fill="url(#g5)" transform="rotate(-25 139.7 290.0)"/>
<ellipse cx="191.4" cy="276.8" rx="11.0" ry="7.7" fill="rgb(30.6%,30.6%,30.6%)"/>
<ellipse cx="220.0" cy="273.5" rx="8.8" ry="6.6" fill="rgb(35.5%,35.5%,35.5%)"/>
<ellipse cx="182.6" cy="295.5" rx="7.1" ry="7.1" fill="rgb(33.9%,33.9%,33.9%)"/>
<ellipse cx="221.1" cy="291.1" rx="5.5" ry="4.9" fill="rgb(30.6%,30.6%,30.6%)"/>
<ellipse cx="220.0" cy="305.4" rx="7.7" ry="6.0" fill="rgb(35.5%,35.5%,35.5%)"/>
<ellipse cx="24.2" cy="302.1" rx="4.4" ry="4.4" fill="rgb(30.6%,30.6%,30.6%)"/>
<ellipse cx="89.1" cy="309.2" rx="12.1" ry="7.1" fill="url(#g0)"/>
<ellipse cx="25.3" cy="320.8" rx="6.0" ry="9.9" fill="url(#g0)"/>
<ellipse cx="55.0" cy="325.2" rx="12.1" ry="7.7" fill="url(#g8)"/>
<ellipse cx="100.1" cy="330.7" rx="23.1" ry="14.3" fill="url(#g14)" transform="rotate(-20 100.1 330.7)"/>
<ellipse cx="134.2" cy="318.6" rx="4.9" ry="4.4" fill="rgb(27.4%,27.4%,27.4%)"/>
<ellipse cx="161.7" cy="323.0" rx="12.1" ry="14.3" fill="url(#g6)"/>
<ellipse cx="189.2" cy="326.3" rx="7.1" ry="8.2" fill="url(#g8)"/>
<ellipse cx="215.6" cy="329.6" rx="13.2" ry="13.2" fill="url(#g4)"/>
<ellipse cx="56.1" cy="348.3" rx="13.2" ry="9.9" fill="url(#g4)"/>
<ellipse cx="137.5" cy="341.7" rx="4.9" ry="3.8" fill="rgb(27.4%,27.4%,27.4%)"/>
<ellipse cx="180.4" cy="338.4" rx="3.8" ry="3.8" fill="rgb(30.6%,30.6%,30.6%)"/>
<ellipse cx="96.8" cy="359.3" rx="9.9" ry="9.3" fill="url(#g0)"/>
<ellipse cx="172.7" cy="358.2" rx="27.5" ry="14.3" fill="url(#g15)"/>
<ellipse cx="132.0" cy="372.5" rx="14.3" ry="18.7" fill="url(#g11)" transform="rotate(-35 132.0 372.5)"/>
<ellipse cx="25.3" cy="356.0" rx="4.4" ry="7.7" fill="url(#g1)"/>
<ellipse cx="47.3" cy="370.3" rx="14.3" ry="9.9" fill="url(#g1)" transform="rotate(-20 47.3 370.3)"/>
<ellipse cx="80.3" cy="375.8" rx="7.7" ry="7.7" fill="rgb(35.5%,35.5%,35.5%)"/>
<ellipse cx="222.2" cy="359.3" rx="5.5" ry="8.8" fill="url(#g3)"/>
<ellipse cx="67.1" cy="393.4" rx="11.0" ry="8.8" fill="url(#g5)"/>
<ellipse cx="90.2" cy="397.8" rx="9.9" ry="9.9" fill="url(#g6)"/>
<ellipse cx="117.7" cy="395.6" rx="11.0" ry="12.1" fill="url(#g0)"/>
<ellipse cx="147.4" cy="398.9" rx="5.5" ry="5.5" fill="rgb(30.6%,30.6%,30.6%)"/>
<ellipse cx="182.6" cy="396.7" rx="12.1" ry="19.8" fill="url(#g4)"/>
<ellipse cx="209.0" cy="385.7" rx="7.7" ry="7.7" fill="url(#g3)"/>
<ellipse cx="24.2" cy="389.0" rx="4.4" ry="7.7" fill="url(#g3)"/>
<ellipse cx="210.1" cy="407.7" rx="8.8" ry="8.8" fill="rgb(35.5%,35.5%,35.5%)"/>
<ellipse cx="30.8" cy="414.3" rx="13.2" ry="13.2" fill="url(#g0)"/>
<ellipse cx="61.6" cy="417.6" rx="13.2" ry="8.8" fill="url(#g8)"/>
<ellipse cx="116.6" cy="419.8" rx="9.9" ry="7.7" fill="rgb(30.6%,30.6%,30.6%)"/>
<ellipse cx="161.7" cy="419.8" rx="9.9" ry="9.9" fill="url(#g3)"/>
<ellipse cx="136.4" cy="412.1" rx="4.4" ry="4.4" fill="rgb(27.4%,27.4%,27.4%)"/>
<ellipse cx="85.8" cy="424.2" rx="3.3" ry="3.3" fill="url(#g1)"/>
<ellipse cx="161.7" cy="393.4" rx="3.3" ry="3.3" fill="rgb(25.8%,25.8%,25.8%)"/>
<ellipse cx="258.9" cy="250.4" rx="15.4" ry="25.3" fill="url(#g11)" transform="rotate(-15 258.9 250.4)"/>
<ellipse cx="236.9" cy="257.0" rx="5.5" ry="5.5" fill="rgb(30.6%,30.6%,30.6%)"/>
<ellipse cx="289.7" cy="253.7" rx="6.6" ry="6.6" fill="url(#g1)"/>
<ellipse cx="319.4" cy="269.1" rx="25.3" ry="15.4" fill="url(#g13)" transform="rotate(15 319.4 269.1)"/>
<ellipse cx="353.5" cy="250.4" rx="13.2" ry="13.2" fill="url(#g6)"/>
<ellipse cx="378.8" cy="261.4" rx="9.9" ry="9.9" fill="url(#g8)"/>
<ellipse cx="425.0" cy="260.3" rx="7.7" ry="9.9" fill="rgb(30.6%,30.6%,30.6%)"/>
<ellipse cx="401.9" cy="271.3" rx="4.9" ry="4.9" fill="rgb(27.4%,27.4%,27.4%)"/>
<ellipse cx="235.8" cy="281.2" rx="5.5" ry="4.9" fill="rgb(27.4%,27.4%,27.4%)"/>
<ellipse cx="360.1" cy="282.3" rx="9.9" ry="12.1" fill="url(#g1)"/>
<ellipse cx="419.5" cy="279.0" rx="6.6" ry="6.0" fill="rgb(27.4%,27.4%,27.4%)"/>
<ellipse cx="401.9" cy="293.3" rx="12.1" ry="12.1" fill="url(#g7)"/>
<ellipse cx="260.0" cy="297.7" rx="13.2" ry="12.1" fill="url(#g8)"/>
<ellipse cx="290.8" cy="295.5" rx="15.4" ry="18.7" fill="url(#g16)"/>
<ellipse cx="317.2" cy="298.8" rx="4.4" ry="4.4" fill="rgb(30.6%,30.6%,30.6%)"/>
<ellipse cx="340.3" cy="305.4" rx="13.2" ry="12.1" fill="url(#g8)"/>
<ellipse cx="365.6" cy="305.4" rx="4.9" ry="4.9" fill="rgb(27.4%,27.4%,27.4%)"/>
<ellipse cx="425.0" cy="306.5" rx="7.7" ry="13.2" fill="url(#g8)"/>
<ellipse cx="379.9" cy="315.3" rx="9.9" ry="13.2" fill="url(#g1)"/>
<ellipse cx="403.0" cy="316.4" rx="6.6" ry="6.6" fill="rgb(33.9%,33.9%,33.9%)"/>
<ellipse cx="240.2" cy="310.9" rx="5.5" ry="3.8" fill="rgb(35.5%,35.5%,35.5%)"/>
<ellipse cx="254.5" cy="321.9" rx="8.2" ry="7.1" fill="url(#g3)"/>
<ellipse cx="313.9" cy="323.0" rx="16.5" ry="8.8" fill="url(#g0)" transform="rotate(15 313.9 323.0)"/>
<ellipse cx="229.2" cy="329.6" rx="11.0" ry="12.1" fill="url(#g4)"/>
<ellipse cx="275.4" cy="326.3" rx="3.8" ry="3.8" fill="rgb(27.4%,27.4%,27.4%)"/>
<ellipse cx="290.8" cy="338.4" rx="9.3" ry="12.1" fill="url(#g3)"/>
<ellipse cx="311.7" cy="340.6" rx="6.0" ry="6.0" fill="rgb(30.6%,30.6%,30.6%)"/>
<ellipse cx="386.5" cy="339.5" rx="12.1" ry="9.9" fill="url(#g5)"/>
<ellipse cx="416.2" cy="340.6" rx="15.4" ry="15.4" fill="url(#g17)"/>
<ellipse cx="341.4" cy="351.6" rx="22.0" ry="16.5" fill="url(#g4)" transform="rotate(-30 341.4 351.6)"/>
<ellipse cx="268.8" cy="349.4" rx="6.6" ry="5.5" fill="rgb(27.4%,27.4%,27.4%)"/>
<ellipse cx="241.3" cy="354.9" rx="15.4" ry="12.1" fill="url(#g4)" transform="rotate(-15 241.3 354.9)"/>
<ellipse cx="301.8" cy="360.4" rx="5.5" ry="5.5" fill="rgb(27.4%,27.4%,27.4%)"/>
<ellipse cx="383.2" cy="365.9" rx="7.7" ry="12.1" fill="url(#g18)"/>
<ellipse cx="271.0" cy="367.0" rx="9.9" ry="9.9" fill="url(#g8)"/>
<ellipse cx="410.7" cy="373.6" rx="15.4" ry="15.4" fill="url(#g14)"/>
<ellipse cx="310.6" cy="381.3" rx="23.1" ry="11.0" fill="url(#g13)" transform="rotate(15 310.6 381.3)"/>
<ellipse cx="351.3" cy="386.8" rx="9.9" ry="8.8" fill="url(#g8)"/>
<ellipse cx="374.4" cy="392.3" rx="11.0" ry="7.7" fill="url(#g3)"/>
<ellipse cx="240.2" cy="390.1" rx="13.2" ry="15.4" fill="url(#g4)" transform="rotate(-15 240.2 390.1)"/>
<ellipse cx="266.6" cy="385.7" rx="4.4" ry="4.4" fill="rgb(35.5%,35.5%,35.5%)"/>
<ellipse cx="285.3" cy="396.7" rx="13.2" ry="7.7" fill="url(#g3)"/>
<ellipse cx="320.5" cy="412.1" rx="15.4" ry="14.3" fill="url(#g4)"/>
<ellipse cx="352.4" cy="406.6" rx="6.6" ry="6.6" fill="rgb(33.9%,33.9%,33.9%)"/>
<ellipse cx="388.7" cy="407.7" rx="12.1" ry="6.6" fill="url(#g7)"/>
<ellipse cx="419.5" cy="395.6" rx="5.5" ry="5.5" fill="rgb(33.9%,33.9%,33.9%)"/>
<ellipse cx="429.4" cy="397.8" rx="3.3" ry="3.3" fill="rgb(30.6%,30.6%,30.6%)"/>
<ellipse cx="420.6" cy="417.6" rx="12.1" ry="11.0" fill="url(#g13)"/>
<ellipse cx="271.0" cy="419.8" rx="13.2" ry="9.9" fill="url(#g8)"/>
<ellipse cx="235.8" cy="420.9" rx="14.3" ry="12.1" fill="url(#g19)"/>
<ellipse cx="367.8" cy="411.0" rx="5.5" ry="5.5" fill="rgb(30.6%,30.6%,30.6%)"/>
<ellipse cx="368.9" cy="424.2" rx="6.6" ry="4.4" fill="url(#g1)"/>
<ellipse cx="286.4" cy="412.1" rx="4.4" ry="4.4" fill="rgb(27.4%,27.4%,27.4%)"/>
<ellipse cx="253.4" cy="380.2" rx="3.8" ry="3.8" fill="rgb(27.4%,27.4%,27.4%)"/>
<ellipse cx="395.3" cy="392.3" rx="3.3" ry="3.3" fill="rgb(27.4%,27.4%,27.4%)"/>
</g></g>
<g clip-path="url(#cp2)"><g filter="url(#fire)">
<rect x="432" y="53" width="431" height="386" fill="rgb(3.7%,3.7%,3.7%)"/>
<circle cx="815.9" cy="349.3" r="2.7" fill="rgb(10.5%,10.5%,10.5%)"/>
<circle cx="515.4" cy="351.8" r="1.9" fill="rgb(12.4%,12.4%,12.4%)"/>
<circle cx="841.4" cy="207.9" r="2.0" fill="rgb(13.2%,13.2%,13.2%)"/>
<circle cx="739.9" cy="125.2" r="1.5" fill="rgb(8.6%,8.6%,8.6%)"/>
<circle cx="813.9" cy="358.2" r="1.5" fill="rgb(12.5%,12.5%,12.5%)"/>
<circle cx="844.9" cy="303.6" r="1.9" fill="rgb(10.9%,10.9%,10.9%)"/>
<circle cx="495.8" cy="68.2" r="3.1" fill="rgb(11.5%,11.5%,11.5%)"/>
<circle cx="658.4" cy="404.7" r="2.1" fill="rgb(12.8%,12.8%,12.8%)"/>
<circle cx="781.5" cy="140.2" r="1.7" fill="rgb(9.4%,9.4%,9.4%)"/>
<circle cx="540.9" cy="277.6" r="1.7" fill="rgb(10.2%,10.2%,10.2%)"/>
<circle cx="495.9" cy="396.1" r="1.9" fill="rgb(10.4%,10.4%,10.4%)"/>
<circle cx="681.8" cy="394.0" r="2.0" fill="rgb(13.1%,13.1%,13.1%)"/>
<circle cx="648.2" cy="257.6" r="2.2" fill="rgb(7.9%,7.9%,7.9%)"/>
<circle cx="622.9" cy="130.0" r="1.2" fill="rgb(12.4%,12.4%,12.4%)"/>
<circle cx="512.8" cy="236.3" r="2.7" fill="rgb(11.0%,11.0%,11.0%)"/>
<circle cx="576.0" cy="252.7" r="2.3" fill="rgb(12.3%,12.3%,12.3%)"/>
<circle cx="485.6" cy="268.1" r="1.7" fill="rgb(9.3%,9.3%,9.3%)"/>
<circle cx="759.4" cy="248.8" r="2.3" fill="rgb(12.2%,12.2%,12.2%)"/>
<circle cx="817.0" cy="225.2" r="2.4" fill="rgb(10.7%,10.7%,10.7%)"/>
<circle cx="652.5" cy="316.5" r="2.1" fill="rgb(10.8%,10.8%,10.8%)"/>
<circle cx="638.5" cy="407.6" r="2.6" fill="rgb(12.8%,12.8%,12.8%)"/>
<circle cx="829.2" cy="158.0" r="2.3" fill="rgb(13.2%,13.2%,13.2%)"/>
<circle cx="787.2" cy="113.2" r="1.4" fill="rgb(10.3%,10.3%,10.3%)"/>
<circle cx="471.8" cy="151.1" r="1.3" fill="rgb(11.6%,11.6%,11.6%)"/>
<circle cx="764.2" cy="391.3" r="1.5" fill="rgb(11.9%,11.9%,11.9%)"/>
<circle cx="713.4" cy="115.3" r="3.0" fill="rgb(13.4%,13.4%,13.4%)"/>
<circle cx="532.3" cy="411.6" r="2.0" fill="rgb(10.6%,10.6%,10.6%)"/>
<circle cx="848.8" cy="367.7" r="1.5" fill="rgb(10.2%,10.2%,10.2%)"/>
<circle cx="653.9" cy="187.1" r="1.6" fill="rgb(9.6%,9.6%,9.6%)"/>
<circle cx="738.8" cy="70.1" r="2.3" fill="rgb(10.3%,10.3%,10.3%)"/>
<circle cx="449.4" cy="184.3" r="2.4" fill="rgb(10.7%,10.7%,10.7%)"/>
<circle cx="468.4" cy="423.5" r="2.8" fill="rgb(13.4%,13.4%,13.4%)"/>
<circle cx="485.1" cy="160.2" r="1.3" fill="rgb(12.3%,12.3%,12.3%)"/>
<circle cx="553.2" cy="110.4" r="2.0" fill="rgb(13.0%,13.0%,13.0%)"/>
<circle cx="778.6" cy="157.7" r="1.5" fill="rgb(13.1%,13.1%,13.1%)"/>
<circle cx="676.5" cy="319.4" r="1.4" fill="rgb(8.1%,8.1%,8.1%)"/>
<circle cx="724.9" cy="218.7" r="1.3" fill="rgb(13.2%,13.2%,13.2%)"/>
<circle cx="702.8" cy="356.4" r="1.4" fill="rgb(12.7%,12.7%,12.7%)"/>
<circle cx="469.4" cy="378.8" r="2.1" fill="rgb(9.7%,9.7%,9.7%)"/>
<circle cx="669.3" cy="402.2" r="1.7" fill="rgb(8.5%,8.5%,8.5%)"/>
<circle cx="658.6" cy="150.3" r="1.4" fill="rgb(8.7%,8.7%,8.7%)"/>
<circle cx="462.7" cy="136.8" r="1.8" fill="rgb(9.5%,9.5%,9.5%)"/>
<circle cx="754.2" cy="169.1" r="2.2" fill="rgb(8.8%,8.8%,8.8%)"/>
<circle cx="584.6" cy="69.6" r="1.7" fill="rgb(7.8%,7.8%,7.8%)"/>
<circle cx="743.3" cy="264.7" r="1.6" fill="rgb(10.5%,10.5%,10.5%)"/>
<circle cx="826.1" cy="101.9" r="2.8" fill="rgb(10.3%,10.3%,10.3%)"/>
<circle cx="645.4" cy="368.5" r="2.0" fill="rgb(10.7%,10.7%,10.7%)"/>
<circle cx="724.7" cy="422.6" r="1.9" fill="rgb(12.6%,12.6%,12.6%)"/>
<circle cx="732.5" cy="295.8" r="2.0" fill="rgb(9.8%,9.8%,9.8%)"/>
<circle cx="464.4" cy="110.5" r="1.3" fill="rgb(12.0%,12.0%,12.0%)"/>
<circle cx="547.0" cy="122.7" r="1.4" fill="rgb(12.6%,12.6%,12.6%)"/>
<circle cx="799.8" cy="308.4" r="1.8" fill="rgb(9.1%,9.1%,9.1%)"/>
<circle cx="562.4" cy="231.2" r="1.5" fill="rgb(10.3%,10.3%,10.3%)"/>
<circle cx="550.2" cy="415.0" r="3.1" fill="rgb(10.9%,10.9%,10.9%)"/>
<circle cx="542.5" cy="416.4" r="1.8" fill="rgb(9.8%,9.8%,9.8%)"/>
<circle cx="442.4" cy="202.7" r="2.1" fill="rgb(10.7%,10.7%,10.7%)"/>
<circle cx="524.6" cy="247.7" r="1.2" fill="rgb(9.3%,9.3%,9.3%)"/>
<circle cx="478.9" cy="209.2" r="1.3" fill="rgb(7.9%,7.9%,7.9%)"/>
<circle cx="567.0" cy="148.2" r="2.4" fill="rgb(10.8%,10.8%,10.8%)"/>
<circle cx="750.5" cy="303.7" r="2.6" fill="rgb(12.8%,12.8%,12.8%)"/>
<circle cx="602.1" cy="182.4" r="3.2" fill="rgb(8.6%,8.6%,8.6%)"/>
<circle cx="739.6" cy="298.4" r="1.3" fill="rgb(12.6%,12.6%,12.6%)"/>
<circle cx="808.6" cy="292.6" r="2.7" fill="rgb(12.5%,12.5%,12.5%)"/>
<circle cx="499.3" cy="254.7" r="2.2" fill="rgb(12.6%,12.6%,12.6%)"/>
<circle cx="772.7" cy="365.5" r="2.4" fill="rgb(12.9%,12.9%,12.9%)"/>
<circle cx="722.7" cy="316.8" r="1.7" fill="rgb(7.9%,7.9%,7.9%)"/>
<circle cx="496.7" cy="195.0" r="1.4" fill="rgb(12.6%,12.6%,12.6%)"/>
<circle cx="671.6" cy="292.8" r="2.5" fill="rgb(11.7%,11.7%,11.7%)"/>
<circle cx="643.1" cy="64.2" r="2.8" fill="rgb(12.1%,12.1%,12.1%)"/>
<circle cx="648.7" cy="258.9" r="2.5" fill="rgb(8.1%,8.1%,8.1%)"/>
<circle cx="744.8" cy="155.3" r="1.3" fill="rgb(9.3%,9.3%,9.3%)"/>
<circle cx="741.8" cy="138.1" r="2.7" fill="rgb(13.4%,13.4%,13.4%)"/>
<circle cx="645.0" cy="203.0" r="2.2" fill="rgb(11.7%,11.7%,11.7%)"/>
<circle cx="757.2" cy="288.8" r="2.5" fill="rgb(8.2%,8.2%,8.2%)"/>
<circle cx="502.6" cy="155.9" r="2.7" fill="rgb(9.5%,9.5%,9.5%)"/>
<circle cx="675.4" cy="67.6" r="1.3" fill="rgb(9.3%,9.3%,9.3%)"/>
<circle cx="718.2" cy="316.3" r="2.6" fill="rgb(9.4%,9.4%,9.4%)"/>
<circle cx="654.3" cy="233.1" r="2.1" fill="rgb(8.4%,8.4%,8.4%)"/>
<circle cx="809.3" cy="135.9" r="3.2" fill="rgb(13.2%,13.2%,13.2%)"/>
<circle cx="449.2" cy="231.0" r="2.8" fill="rgb(13.4%,13.4%,13.4%)"/>
<circle cx="626.7" cy="161.3" r="1.6" fill="rgb(13.2%,13.2%,13.2%)"/>
<circle cx="528.6" cy="275.8" r="1.5" fill="rgb(10.8%,10.8%,10.8%)"/>
<circle cx="833.6" cy="111.5" r="2.8" fill="rgb(10.7%,10.7%,10.7%)"/>
<circle cx="806.5" cy="320.4" r="1.7" fill="rgb(13.0%,13.0%,13.0%)"/>
<circle cx="641.8" cy="72.1" r="1.2" fill="rgb(10.6%,10.6%,10.6%)"/>
<circle cx="627.3" cy="173.5" r="1.5" fill="rgb(9.7%,9.7%,9.7%)"/>
<circle cx="571.9" cy="370.5" r="1.2" fill="rgb(12.1%,12.1%,12.1%)"/>
<circle cx="786.9" cy="106.9" r="3.1" fill="rgb(11.9%,11.9%,11.9%)"/>
<circle cx="812.5" cy="169.1" r="1.9" fill="rgb(10.0%,10.0%,10.0%)"/>
<circle cx="852.5" cy="278.6" r="1.9" fill="rgb(10.2%,10.2%,10.2%)"/>
<circle cx="555.1" cy="80.7" r="1.4" fill="rgb(12.6%,12.6%,12.6%)"/>
<circle cx="559.4" cy="405.4" r="1.7" fill="rgb(9.3%,9.3%,9.3%)"/>
<circle cx="652.0" cy="132.5" r="1.9" fill="rgb(13.3%,13.3%,13.3%)"/>
<circle cx="805.4" cy="360.2" r="2.5" fill="rgb(13.0%,13.0%,13.0%)"/>
<circle cx="828.6" cy="264.0" r="2.6" fill="rgb(8.0%,8.0%,8.0%)"/>
<circle cx="743.0" cy="228.0" r="2.7" fill="rgb(11.5%,11.5%,11.5%)"/>
<circle cx="559.6" cy="80.9" r="3.1" fill="rgb(8.5%,8.5%,8.5%)"/>
<circle cx="636.1" cy="188.8" r="1.8" fill="rgb(12.0%,12.0%,12.0%)"/>
<circle cx="843.3" cy="158.2" r="2.5" fill="rgb(9.5%,9.5%,9.5%)"/>
<circle cx="671.1" cy="207.3" r="1.5" fill="rgb(8.7%,8.7%,8.7%)"/>
<circle cx="527.4" cy="394.6" r="2.2" fill="rgb(9.0%,9.0%,9.0%)"/>
<circle cx="814.5" cy="427.7" r="2.1" fill="rgb(8.6%,8.6%,8.6%)"/>
<circle cx="521.1" cy="96.2" r="1.9" fill="rgb(8.3%,8.3%,8.3%)"/>
<circle cx="540.3" cy="157.6" r="2.3" fill="rgb(12.9%,12.9%,12.9%)"/>
<circle cx="750.1" cy="214.1" r="2.0" fill="rgb(10.8%,10.8%,10.8%)"/>
<circle cx="596.9" cy="186.8" r="1.3" fill="rgb(9.4%,9.4%,9.4%)"/>
<circle cx="839.7" cy="109.1" r="2.2" fill="rgb(11.4%,11.4%,11.4%)"/>
<circle cx="796.6" cy="142.0" r="1.7" fill="rgb(9.2%,9.2%,9.2%)"/>
<circle cx="606.3" cy="226.2" r="3.1" fill="rgb(12.7%,12.7%,12.7%)"/>
<circle cx="800.8" cy="71.0" r="1.3" fill="rgb(11.9%,11.9%,11.9%)"/>
<circle cx="810.1" cy="236.2" r="2.4" fill="rgb(7.7%,7.7%,7.7%)"/>
<circle cx="602.9" cy="402.2" r="2.9" fill="rgb(12.7%,12.7%,12.7%)"/>
<circle cx="841.6" cy="153.9" r="1.4" fill="rgb(8.6%,8.6%,8.6%)"/>
<circle cx="656.7" cy="312.6" r="3.1" fill="rgb(11.9%,11.9%,11.9%)"/>
<circle cx="708.1" cy="342.9" r="2.1" fill="rgb(10.9%,10.9%,10.9%)"/>
<circle cx="458.3" cy="349.3" r="1.7" fill="rgb(13.1%,13.1%,13.1%)"/>
<circle cx="707.3" cy="174.2" r="1.5" fill="rgb(9.2%,9.2%,9.2%)"/>
<circle cx="703.5" cy="318.7" r="1.4" fill="rgb(8.2%,8.2%,8.2%)"/>
<circle cx="657.5" cy="276.3" r="2.0" fill="rgb(9.0%,9.0%,9.0%)"/>
<circle cx="689.0" cy="66.8" r="1.8" fill="rgb(10.4%,10.4%,10.4%)"/>
<circle cx="836.1" cy="298.9" r="3.0" fill="rgb(10.5%,10.5%,10.5%)"/>
<circle cx="538.5" cy="153.4" r="3.1" fill="rgb(11.8%,11.8%,11.8%)"/>
<circle cx="568.3" cy="71.0" r="2.2" fill="rgb(11.7%,11.7%,11.7%)"/>
<circle cx="614.6" cy="157.2" r="2.5" fill="rgb(13.1%,13.1%,13.1%)"/>
<circle cx="535.2" cy="75.5" r="1.9" fill="rgb(10.2%,10.2%,10.2%)"/>
<circle cx="722.5" cy="135.5" r="2.8" fill="rgb(12.0%,12.0%,12.0%)"/>
<circle cx="649.5" cy="138.1" r="3.1" fill="rgb(9.6%,9.6%,9.6%)"/>
<circle cx="779.0" cy="147.5" r="1.6" fill="rgb(12.2%,12.2%,12.2%)"/>
<circle cx="563.2" cy="411.4" r="2.2" fill="rgb(8.8%,8.8%,8.8%)"/>
<circle cx="533.8" cy="215.6" r="2.5" fill="rgb(13.3%,13.3%,13.3%)"/>
<circle cx="502.2" cy="207.0" r="1.6" fill="rgb(13.4%,13.4%,13.4%)"/>
<circle cx="500.3" cy="82.0" r="1.3" fill="rgb(10.0%,10.0%,10.0%)"/>
<circle cx="811.1" cy="386.4" r="2.7" fill="rgb(13.5%,13.5%,13.5%)"/>
<circle cx="824.9" cy="183.5" r="1.6" fill="rgb(13.2%,13.2%,13.2%)"/>
<circle cx="748.7" cy="74.7" r="2.5" fill="rgb(9.9%,9.9%,9.9%)"/>
<circle cx="595.7" cy="184.4" r="1.5" fill="rgb(7.8%,7.8%,7.8%)"/>
<circle cx="557.0" cy="191.6" r="3.1" fill="rgb(8.5%,8.5%,8.5%)"/>
<circle cx="838.3" cy="138.9" r="1.9" fill="rgb(12.5%,12.5%,12.5%)"/>
<circle cx="779.8" cy="221.3" r="1.3" fill="rgb(10.5%,10.5%,10.5%)"/>
<circle cx="595.2" cy="399.5" r="1.6" fill="rgb(9.9%,9.9%,9.9%)"/>
<circle cx="810.7" cy="74.1" r="2.0" fill="rgb(12.5%,12.5%,12.5%)"/>
<circle cx="757.1" cy="77.9" r="1.3" fill="rgb(8.1%,8.1%,8.1%)"/>
<circle cx="820.2" cy="157.1" r="2.7" fill="rgb(13.0%,13.0%,13.0%)"/>
<circle cx="581.4" cy="162.7" r="3.1" fill="rgb(11.3%,11.3%,11.3%)"/>
<circle cx="549.8" cy="325.3" r="1.8" fill="rgb(9.3%,9.3%,9.3%)"/>
<circle cx="443.6" cy="339.6" r="3.0" fill="rgb(11.4%,11.4%,11.4%)"/>
<circle cx="829.7" cy="71.9" r="1.7" fill="rgb(10.5%,10.5%,10.5%)"/>
<circle cx="835.2" cy="412.1" r="2.0" fill="rgb(9.2%,9.2%,9.2%)"/>
<circle cx="618.7" cy="243.6" r="3.1" fill="rgb(8.8%,8.8%,8.8%)"/>
<circle cx="771.9" cy="333.3" r="2.8" fill="rgb(12.2%,12.2%,12.2%)"/>
<circle cx="691.6" cy="183.0" r="1.8" fill="rgb(9.8%,9.8%,9.8%)"/>
<circle cx="763.5" cy="91.9" r="1.6" fill="rgb(12.1%,12.1%,12.1%)"/>
<circle cx="543.6" cy="86.7" r="1.3" fill="rgb(11.0%,11.0%,11.0%)"/>
<circle cx="575.9" cy="421.8" r="3.0" fill="rgb(13.5%,13.5%,13.5%)"/>
<circle cx="550.9" cy="93.8" r="1.4" fill="rgb(10.6%,10.6%,10.6%)"/>
<circle cx="733.7" cy="226.6" r="1.7" fill="rgb(10.2%,10.2%,10.2%)"/>
<circle cx="696.9" cy="309.7" r="2.7" fill="rgb(12.7%,12.7%,12.7%)"/>
<circle cx="715.1" cy="107.3" r="2.9" fill="rgb(9.4%,9.4%,9.4%)"/>
<circle cx="675.0" cy="199.5" r="2.7" fill="rgb(8.9%,8.9%,8.9%)"/>
<circle cx="543.7" cy="152.8" r="1.5" fill="rgb(12.9%,12.9%,12.9%)"/>
<circle cx="679.7" cy="182.4" r="2.0" fill="rgb(13.5%,13.5%,13.5%)"/>
<circle cx="650.5" cy="147.7" r="2.8" fill="rgb(11.5%,11.5%,11.5%)"/>
<circle cx="849.3" cy="100.5" r="2.1" fill="rgb(12.5%,12.5%,12.5%)"/>
<circle cx="787.5" cy="397.7" r="1.3" fill="rgb(9.4%,9.4%,9.4%)"/>
<circle cx="491.0" cy="132.4" r="3.1" fill="rgb(11.1%,11.1%,11.1%)"/>
<circle cx="824.3" cy="199.2" r="2.9" fill="rgb(10.3%,10.3%,10.3%)"/>
<circle cx="548.8" cy="347.7" r="3.1" fill="rgb(8.4%,8.4%,8.4%)"/>
<circle cx="687.0" cy="289.9" r="1.6" fill="rgb(9.9%,9.9%,9.9%)"/>
<circle cx="500.1" cy="137.7" r="1.7" fill="rgb(11.2%,11.2%,11.2%)"/>
<circle cx="709.8" cy="137.5" r="1.2" fill="rgb(9.6%,9.6%,9.6%)"/>
<circle cx="720.8" cy="130.8" r="1.8" fill="rgb(8.9%,8.9%,8.9%)"/>
<circle cx="768.9" cy="263.6" r="1.3" fill="rgb(8.3%,8.3%,8.3%)"/>
<circle cx="604.5" cy="264.4" r="2.5" fill="rgb(8.3%,8.3%,8.3%)"/>
<circle cx="509.3" cy="317.5" r="2.0" fill="rgb(9.4%,9.4%,9.4%)"/>
<circle cx="568.4" cy="411.9" r="1.8" fill="rgb(11.0%,11.0%,11.0%)"/>
<circle cx="588.8" cy="215.4" r="2.9" fill="rgb(13.5%,13.5%,13.5%)"/>
<circle cx="591.5" cy="135.2" r="2.7" fill="rgb(8.9%,8.9%,8.9%)"/>
<circle cx="444.4" cy="393.0" r="2.0" fill="rgb(12.5%,12.5%,12.5%)"/>
<circle cx="609.0" cy="386.1" r="2.1" fill="rgb(8.7%,8.7%,8.7%)"/>
<circle cx="448.1" cy="264.9" r="2.5" fill="rgb(13.0%,13.0%,13.0%)"/>
<circle cx="478.6" cy="290.7" r="1.9" fill="rgb(10.7%,10.7%,10.7%)"/>
<circle cx="502.0" cy="166.7" r="2.2" fill="rgb(13.1%,13.1%,13.1%)"/>
<circle cx="486.7" cy="242.5" r="2.8" fill="rgb(13.4%,13.4%,13.4%)"/>
<circle cx="523.1" cy="109.4" r="3.1" fill="rgb(13.4%,13.4%,13.4%)"/>
<circle cx="640.4" cy="82.5" r="3.1" fill="rgb(10.0%,10.0%,10.0%)"/>
<circle cx="813.6" cy="290.0" r="2.8" fill="rgb(8.7%,8.7%,8.7%)"/>
<circle cx="765.0" cy="144.3" r="2.0" fill="rgb(12.7%,12.7%,12.7%)"/>
<circle cx="782.8" cy="130.0" r="1.6" fill="rgb(10.1%,10.1%,10.1%)"/>
<circle cx="654.9" cy="203.4" r="1.4" fill="rgb(9.2%,9.2%,9.2%)"/>
<circle cx="739.9" cy="391.4" r="1.3" fill="rgb(11.0%,11.0%,11.0%)"/>
<circle cx="753.3" cy="77.0" r="2.9" fill="rgb(8.4%,8.4%,8.4%)"/>
<circle cx="688.4" cy="264.3" r="2.5" fill="rgb(9.5%,9.5%,9.5%)"/>
<circle cx="614.6" cy="276.2" r="2.1" fill="rgb(11.6%,11.6%,11.6%)"/>
<circle cx="625.6" cy="223.4" r="1.2" fill="rgb(11.3%,11.3%,11.3%)"/>
<circle cx="643.2" cy="149.1" r="2.7" fill="rgb(12.3%,12.3%,12.3%)"/>
<circle cx="630.4" cy="128.7" r="2.1" fill="rgb(8.4%,8.4%,8.4%)"/>
<circle cx="494.8" cy="220.6" r="1.4" fill="rgb(10.3%,10.3%,10.3%)"/>
<circle cx="651.7" cy="77.9" r="2.5" fill="rgb(8.2%,8.2%,8.2%)"/>
<circle cx="743.5" cy="347.6" r="2.2" fill="rgb(8.1%,8.1%,8.1%)"/>
<circle cx="649.1" cy="201.3" r="3.1" fill="rgb(8.5%,8.5%,8.5%)"/>
<circle cx="794.3" cy="427.6" r="2.7" fill="rgb(12.5%,12.5%,12.5%)"/>
<circle cx="521.6" cy="422.3" r="2.2" fill="rgb(13.3%,13.3%,13.3%)"/>
<circle cx="818.5" cy="123.4" r="2.8" fill="rgb(13.1%,13.1%,13.1%)"/>
<circle cx="468.9" cy="191.4" r="2.7" fill="rgb(8.7%,8.7%,8.7%)"/>
<circle cx="810.5" cy="163.6" r="2.8" fill="rgb(8.6%,8.6%,8.6%)"/>
<circle cx="648.4" cy="399.7" r="1.6" fill="rgb(9.3%,9.3%,9.3%)"/>
<circle cx="650.0" cy="179.8" r="1.3" fill="rgb(8.8%,8.8%,8.8%)"/>
<circle cx="508.3" cy="405.7" r="2.6" fill="rgb(12.9%,12.9%,12.9%)"/>
<circle cx="511.4" cy="350.3" r="1.4" fill="rgb(10.8%,10.8%,10.8%)"/>
<circle cx="703.5" cy="194.7" r="2.9" fill="rgb(11.0%,11.0%,11.0%)"/>
<circle cx="680.4" cy="386.0" r="1.4" fill="rgb(13.5%,13.5%,13.5%)"/>
<circle cx="700.8" cy="207.3" r="2.8" fill="rgb(9.3%,9.3%,9.3%)"/>
<circle cx="849.1" cy="274.3" r="1.9" fill="rgb(12.2%,12.2%,12.2%)"/>
<circle cx="623.8" cy="127.7" r="2.7" fill="rgb(8.0%,8.0%,8.0%)"/>
<circle cx="778.9" cy="155.8" r="2.5" fill="rgb(13.5%,13.5%,13.5%)"/>
<circle cx="682.8" cy="305.9" r="1.8" fill="rgb(7.8%,7.8%,7.8%)"/>
<circle cx="455.9" cy="117.7" r="2.4" fill="rgb(10.3%,10.3%,10.3%)"/>
<circle cx="652.7" cy="390.8" r="1.5" fill="rgb(9.1%,9.1%,9.1%)"/>
<circle cx="710.4" cy="71.2" r="1.2" fill="rgb(9.8%,9.8%,9.8%)"/>
<circle cx="485.7" cy="193.7" r="1.6" fill="rgb(11.1%,11.1%,11.1%)"/>
<circle cx="684.1" cy="137.7" r="2.4" fill="rgb(10.5%,10.5%,10.5%)"/>
<circle cx="497.4" cy="405.8" r="1.7" fill="rgb(8.6%,8.6%,8.6%)"/>
<circle cx="481.4" cy="296.6" r="2.9" fill="rgb(12.3%,12.3%,12.3%)"/>
<circle cx="607.2" cy="159.7" r="1.2" fill="rgb(11.5%,11.5%,11.5%)"/>
<circle cx="673.1" cy="191.2" r="2.5" fill="rgb(10.3%,10.3%,10.3%)"/>
<circle cx="827.2" cy="331.5" r="1.7" fill="rgb(13.0%,13.0%,13.0%)"/>
<circle cx="460.1" cy="257.5" r="2.0" fill="rgb(9.1%,9.1%,9.1%)"/>
<circle cx="466.0" cy="348.1" r="1.2" fill="rgb(10.9%,10.9%,10.9%)"/>
<circle cx="828.7" cy="115.1" r="1.6" fill="rgb(11.3%,11.3%,11.3%)"/>
<circle cx="650.4" cy="297.8" r="2.8" fill="rgb(8.8%,8.8%,8.8%)"/>
<circle cx="569.2" cy="172.9" r="1.3" fill="rgb(12.9%,12.9%,12.9%)"/>
<circle cx="763.8" cy="324.8" r="1.2" fill="rgb(12.6%,12.6%,12.6%)"/>
<circle cx="748.3" cy="233.3" r="2.7" fill="rgb(10.4%,10.4%,10.4%)"/>
<circle cx="534.9" cy="101.5" r="1.7" fill="rgb(8.0%,8.0%,8.0%)"/>
<circle cx="579.9" cy="337.4" r="2.6" fill="rgb(12.7%,12.7%,12.7%)"/>
<circle cx="734.5" cy="160.4" r="2.3" fill="rgb(10.3%,10.3%,10.3%)"/>
<circle cx="766.1" cy="254.5" r="1.7" fill="rgb(11.5%,11.5%,11.5%)"/>
<circle cx="838.7" cy="142.4" r="3.0" fill="rgb(7.8%,7.8%,7.8%)"/>
<circle cx="549.0" cy="149.4" r="2.7" fill="rgb(13.2%,13.2%,13.2%)"/>
<circle cx="748.7" cy="182.6" r="3.0" fill="rgb(9.6%,9.6%,9.6%)"/>
<circle cx="540.3" cy="395.2" r="2.5" fill="rgb(11.8%,11.8%,11.8%)"/>
<circle cx="715.4" cy="421.3" r="2.1" fill="rgb(12.6%,12.6%,12.6%)"/>
<circle cx="728.7" cy="376.9" r="2.1" fill="rgb(11.9%,11.9%,11.9%)"/>
<circle cx="676.4" cy="175.6" r="1.6" fill="rgb(11.4%,11.4%,11.4%)"/>
<circle cx="474.0" cy="396.3" r="1.5" fill="rgb(7.9%,7.9%,7.9%)"/>
<circle cx="485.8" cy="403.0" r="1.9" fill="rgb(8.6%,8.6%,8.6%)"/>
<circle cx="453.8" cy="78.2" r="2.6" fill="rgb(11.4%,11.4%,11.4%)"/>
<circle cx="728.5" cy="332.7" r="1.3" fill="rgb(11.2%,11.2%,11.2%)"/>
<circle cx="591.4" cy="362.2" r="2.8" fill="rgb(12.9%,12.9%,12.9%)"/>
<circle cx="469.1" cy="380.6" r="3.0" fill="rgb(13.2%,13.2%,13.2%)"/>
<circle cx="486.0" cy="138.3" r="1.4" fill="rgb(7.9%,7.9%,7.9%)"/>
<circle cx="790.4" cy="360.2" r="2.5" fill="rgb(12.5%,12.5%,12.5%)"/>
<circle cx="701.6" cy="168.2" r="1.4" fill="rgb(8.3%,8.3%,8.3%)"/>
<circle cx="753.3" cy="138.0" r="1.8" fill="rgb(10.2%,10.2%,10.2%)"/>
<circle cx="450.6" cy="157.0" r="1.8" fill="rgb(11.9%,11.9%,11.9%)"/>
<circle cx="593.3" cy="180.4" r="3.1" fill="rgb(10.7%,10.7%,10.7%)"/>
<circle cx="791.9" cy="289.3" r="1.3" fill="rgb(10.1%,10.1%,10.1%)"/>
<circle cx="621.4" cy="345.9" r="1.9" fill="rgb(11.8%,11.8%,11.8%)"/>
<circle cx="663.1" cy="142.3" r="2.9" fill="rgb(8.3%,8.3%,8.3%)"/>
<circle cx="778.9" cy="125.4" r="1.2" fill="rgb(8.9%,8.9%,8.9%)"/>
<circle cx="755.3" cy="420.9" r="1.2" fill="rgb(10.6%,10.6%,10.6%)"/>
<circle cx="644.0" cy="354.6" r="1.6" fill="rgb(10.6%,10.6%,10.6%)"/>
<circle cx="584.7" cy="367.5" r="1.7" fill="rgb(13.2%,13.2%,13.2%)"/>
<circle cx="558.6" cy="141.6" r="2.6" fill="rgb(10.6%,10.6%,10.6%)"/>
<circle cx="487.2" cy="296.0" r="1.4" fill="rgb(12.3%,12.3%,12.3%)"/>
<circle cx="728.5" cy="351.0" r="2.5" fill="rgb(9.8%,9.8%,9.8%)"/>
<circle cx="606.9" cy="207.4" r="3.0" fill="rgb(8.2%,8.2%,8.2%)"/>
<circle cx="807.2" cy="72.2" r="1.6" fill="rgb(9.3%,9.3%,9.3%)"/>
<circle cx="812.4" cy="246.4" r="2.0" fill="rgb(12.9%,12.9%,12.9%)"/>
<circle cx="538.0" cy="231.7" r="2.3" fill="rgb(12.1%,12.1%,12.1%)"/>
<circle cx="751.5" cy="299.5" r="1.9" fill="rgb(9.6%,9.6%,9.6%)"/>
<circle cx="505.8" cy="371.6" r="2.5" fill="rgb(12.1%,12.1%,12.1%)"/>
<circle cx="511.7" cy="223.6" r="2.7" fill="rgb(11.1%,11.1%,11.1%)"/>
<circle cx="493.8" cy="232.1" r="3.0" fill="rgb(9.1%,9.1%,9.1%)"/>
<circle cx="520.7" cy="173.4" r="2.6" fill="rgb(12.6%,12.6%,12.6%)"/>
<circle cx="505.5" cy="120.1" r="1.7" fill="rgb(9.6%,9.6%,9.6%)"/>
<circle cx="656.6" cy="121.9" r="1.9" fill="rgb(8.8%,8.8%,8.8%)"/>
<circle cx="842.8" cy="329.7" r="1.4" fill="rgb(13.3%,13.3%,13.3%)"/>
<circle cx="483.8" cy="203.6" r="3.2" fill="rgb(12.4%,12.4%,12.4%)"/>
<circle cx="743.4" cy="222.2" r="1.6" fill="rgb(11.4%,11.4%,11.4%)"/>
<circle cx="485.9" cy="138.6" r="2.0" fill="rgb(7.9%,7.9%,7.9%)"/>
<circle cx="606.0" cy="352.5" r="2.6" fill="rgb(10.6%,10.6%,10.6%)"/>
<circle cx="701.9" cy="232.6" r="1.5" fill="rgb(11.2%,11.2%,11.2%)"/>
<circle cx="608.3" cy="334.2" r="3.0" fill="rgb(10.2%,10.2%,10.2%)"/>
<circle cx="677.9" cy="337.2" r="2.0" fill="rgb(9.1%,9.1%,9.1%)"/>
<circle cx="738.8" cy="385.1" r="2.7" fill="rgb(11.8%,11.8%,11.8%)"/>
<circle cx="792.4" cy="311.7" r="2.5" fill="rgb(10.4%,10.4%,10.4%)"/>
<circle cx="570.6" cy="292.9" r="1.4" fill="rgb(10.2%,10.2%,10.2%)"/>
<circle cx="763.6" cy="324.0" r="2.5" fill="rgb(9.2%,9.2%,9.2%)"/>
<circle cx="616.1" cy="229.6" r="2.4" fill="rgb(10.1%,10.1%,10.1%)"/>
<circle cx="719.5" cy="403.5" r="1.6" fill="rgb(11.5%,11.5%,11.5%)"/>
<circle cx="761.8" cy="205.3" r="2.2" fill="rgb(13.4%,13.4%,13.4%)"/>
<circle cx="457.7" cy="261.9" r="1.5" fill="rgb(12.3%,12.3%,12.3%)"/>
<circle cx="828.6" cy="253.0" r="1.4" fill="rgb(11.1%,11.1%,11.1%)"/>
<circle cx="664.4" cy="325.5" r="2.2" fill="rgb(11.5%,11.5%,11.5%)"/>
<circle cx="782.7" cy="253.9" r="2.0" fill="rgb(13.2%,13.2%,13.2%)"/>
<circle cx="528.3" cy="313.5" r="2.0" fill="rgb(12.2%,12.2%,12.2%)"/>
<circle cx="492.3" cy="423.3" r="1.9" fill="rgb(8.1%,8.1%,8.1%)"/>
<circle cx="554.8" cy="209.3" r="1.2" fill="rgb(10.2%,10.2%,10.2%)"/>
<circle cx="614.8" cy="318.6" r="1.9" fill="rgb(9.3%,9.3%,9.3%)"/>
<circle cx="534.2" cy="334.4" r="3.1" fill="rgb(10.8%,10.8%,10.8%)"/>
<circle cx="532.0" cy="356.3" r="2.0" fill="rgb(9.0%,9.0%,9.0%)"/>
<circle cx="495.1" cy="347.2" r="2.8" fill="rgb(11.4%,11.4%,11.4%)"/>
<circle cx="634.8" cy="268.7" r="1.7" fill="rgb(13.3%,13.3%,13.3%)"/>
<circle cx="587.1" cy="296.8" r="2.8" fill="rgb(12.5%,12.5%,12.5%)"/>
<circle cx="634.4" cy="170.7" r="2.3" fill="rgb(8.5%,8.5%,8.5%)"/>
<circle cx="784.7" cy="192.8" r="2.9" fill="rgb(9.3%,9.3%,9.3%)"/>
<circle cx="596.6" cy="155.8" r="2.1" fill="rgb(8.8%,8.8%,8.8%)"/>
<circle cx="443.1" cy="327.2" r="1.8" fill="rgb(9.2%,9.2%,9.2%)"/>
<circle cx="566.0" cy="238.5" r="2.1" fill="rgb(11.4%,11.4%,11.4%)"/>
<circle cx="713.0" cy="195.6" r="3.1" fill="rgb(12.7%,12.7%,12.7%)"/>
<circle cx="465.5" cy="366.0" r="3.0" fill="rgb(12.3%,12.3%,12.3%)"/>
<circle cx="499.7" cy="367.3" r="2.5" fill="rgb(7.8%,7.8%,7.8%)"/>
<circle cx="446.7" cy="411.3" r="2.5" fill="rgb(9.2%,9.2%,9.2%)"/>
<circle cx="483.7" cy="115.2" r="1.7" fill="rgb(12.2%,12.2%,12.2%)"/>
<circle cx="584.4" cy="118.9" r="3.0" fill="rgb(12.3%,12.3%,12.3%)"/>
<circle cx="511.0" cy="389.2" r="2.4" fill="rgb(12.3%,12.3%,12.3%)"/>
<circle cx="716.7" cy="390.2" r="2.8" fill="rgb(12.6%,12.6%,12.6%)"/>
<circle cx="523.1" cy="316.6" r="2.3" fill="rgb(12.0%,12.0%,12.0%)"/>
<circle cx="622.3" cy="386.1" r="2.3" fill="rgb(9.3%,9.3%,9.3%)"/>
<circle cx="538.2" cy="114.0" r="2.2" fill="rgb(8.1%,8.1%,8.1%)"/>
<circle cx="634.0" cy="115.9" r="2.2" fill="rgb(10.6%,10.6%,10.6%)"/>
<circle cx="663.8" cy="378.8" r="1.2" fill="rgb(12.6%,12.6%,12.6%)"/>
<circle cx="634.3" cy="268.9" r="2.5" fill="rgb(12.6%,12.6%,12.6%)"/>
<circle cx="596.1" cy="216.3" r="3.1" fill="rgb(8.2%,8.2%,8.2%)"/>
<circle cx="703.8" cy="295.8" r="1.3" fill="rgb(11.3%,11.3%,11.3%)"/>
<circle cx="722.5" cy="403.9" r="1.9" fill="rgb(13.4%,13.4%,13.4%)"/>
<circle cx="651.9" cy="240.4" r="3.0" fill="rgb(7.9%,7.9%,7.9%)"/>
<circle cx="737.2" cy="291.9" r="1.9" fill="rgb(12.7%,12.7%,12.7%)"/>
<circle cx="592.5" cy="236.7" r="2.3" fill="rgb(12.2%,12.2%,12.2%)"/>
<circle cx="528.6" cy="222.3" r="2.0" fill="rgb(11.0%,11.0%,11.0%)"/>
<circle cx="781.8" cy="170.2" r="2.9" fill="rgb(10.1%,10.1%,10.1%)"/>
<circle cx="649.0" cy="162.4" r="2.2" fill="rgb(13.4%,13.4%,13.4%)"/>
<circle cx="711.0" cy="352.9" r="1.9" fill="rgb(9.6%,9.6%,9.6%)"/>
<circle cx="565.0" cy="277.6" r="2.5" fill="rgb(12.3%,12.3%,12.3%)"/>
<circle cx="458.5" cy="327.5" r="3.0" fill="rgb(10.9%,10.9%,10.9%)"/>
<circle cx="462.4" cy="172.9" r="1.2" fill="rgb(8.8%,8.8%,8.8%)"/>
<circle cx="820.7" cy="285.8" r="2.5" fill="rgb(12.3%,12.3%,12.3%)"/>
<circle cx="815.9" cy="286.9" r="2.4" fill="rgb(11.4%,11.4%,11.4%)"/>
<circle cx="728.2" cy="281.2" r="2.6" fill="rgb(9.0%,9.0%,9.0%)"/>
<circle cx="716.1" cy="230.6" r="2.7" fill="rgb(8.3%,8.3%,8.3%)"/>
<circle cx="516.5" cy="76.5" r="2.7" fill="rgb(13.0%,13.0%,13.0%)"/>
<circle cx="711.5" cy="198.0" r="2.8" fill="rgb(12.3%,12.3%,12.3%)"/>
<circle cx="673.0" cy="157.4" r="1.8" fill="rgb(10.2%,10.2%,10.2%)"/>
<circle cx="572.9" cy="220.6" r="2.5" fill="rgb(13.2%,13.2%,13.2%)"/>
<circle cx="464.4" cy="270.7" r="1.3" fill="rgb(8.4%,8.4%,8.4%)"/>
<circle cx="775.0" cy="273.6" r="3.0" fill="rgb(10.3%,10.3%,10.3%)"/>
<circle cx="447.8" cy="204.7" r="2.4" fill="rgb(13.2%,13.2%,13.2%)"/>
<circle cx="845.1" cy="237.0" r="2.0" fill="rgb(8.3%,8.3%,8.3%)"/>
<circle cx="706.9" cy="140.7" r="1.5" fill="rgb(7.8%,7.8%,7.8%)"/>
<circle cx="444.0" cy="313.3" r="1.4" fill="rgb(13.4%,13.4%,13.4%)"/>
<circle cx="478.2" cy="381.3" r="1.5" fill="rgb(7.8%,7.8%,7.8%)"/>
<circle cx="737.7" cy="151.7" r="2.7" fill="rgb(8.8%,8.8%,8.8%)"/>
<circle cx="462.6" cy="346.3" r="2.6" fill="rgb(12.7%,12.7%,12.7%)"/>
<circle cx="741.9" cy="93.8" r="2.5" fill="rgb(11.9%,11.9%,11.9%)"/>
<circle cx="631.3" cy="404.2" r="1.7" fill="rgb(13.3%,13.3%,13.3%)"/>
<circle cx="736.8" cy="67.2" r="1.2" fill="rgb(11.5%,11.5%,11.5%)"/>
<circle cx="777.9" cy="92.2" r="1.8" fill="rgb(12.0%,12.0%,12.0%)"/>
<circle cx="510.2" cy="378.1" r="2.2" fill="rgb(8.1%,8.1%,8.1%)"/>
<circle cx="593.1" cy="273.4" r="2.1" fill="rgb(11.7%,11.7%,11.7%)"/>
<circle cx="501.6" cy="354.8" r="1.9" fill="rgb(11.5%,11.5%,11.5%)"/>
<circle cx="700.8" cy="216.0" r="2.0" fill="rgb(12.3%,12.3%,12.3%)"/>
<circle cx="830.4" cy="350.2" r="2.3" fill="rgb(9.4%,9.4%,9.4%)"/>
<circle cx="466.9" cy="419.5" r="2.6" fill="rgb(12.5%,12.5%,12.5%)"/>
<circle cx="578.5" cy="284.7" r="3.2" fill="rgb(12.6%,12.6%,12.6%)"/>
<circle cx="689.1" cy="175.9" r="2.1" fill="rgb(12.9%,12.9%,12.9%)"/>
<circle cx="596.8" cy="313.6" r="2.4" fill="rgb(12.9%,12.9%,12.9%)"/>
<circle cx="773.9" cy="166.7" r="1.2" fill="rgb(9.3%,9.3%,9.3%)"/>
<circle cx="615.6" cy="277.7" r="2.8" fill="rgb(12.9%,12.9%,12.9%)"/>
<circle cx="459.4" cy="368.0" r="2.8" fill="rgb(12.8%,12.8%,12.8%)"/>
<circle cx="677.1" cy="163.2" r="2.9" fill="rgb(12.4%,12.4%,12.4%)"/>
<circle cx="723.4" cy="397.4" r="1.9" fill="rgb(8.2%,8.2%,8.2%)"/>
<circle cx="669.6" cy="354.8" r="1.6" fill="rgb(12.1%,12.1%,12.1%)"/>
<circle cx="824.9" cy="148.7" r="2.4" fill="rgb(11.7%,11.7%,11.7%)"/>
<circle cx="633.2" cy="138.6" r="1.7" fill="rgb(12.1%,12.1%,12.1%)"/>
<circle cx="767.4" cy="231.3" r="1.4" fill="rgb(12.4%,12.4%,12.4%)"/>
<circle cx="759.4" cy="148.2" r="2.4" fill="rgb(12.9%,12.9%,12.9%)"/>
<circle cx="805.8" cy="254.0" r="2.2" fill="rgb(11.2%,11.2%,11.2%)"/>
<circle cx="519.7" cy="133.4" r="1.6" fill="rgb(11.8%,11.8%,11.8%)"/>
<circle cx="591.1" cy="269.6" r="2.0" fill="rgb(10.7%,10.7%,10.7%)"/>
<circle cx="503.2" cy="79.3" r="3.2" fill="rgb(9.9%,9.9%,9.9%)"/>
<circle cx="485.6" cy="294.6" r="2.8" fill="rgb(8.6%,8.6%,8.6%)"/>
<circle cx="687.5" cy="189.2" r="2.2" fill="rgb(7.9%,7.9%,7.9%)"/>
<circle cx="455.8" cy="425.5" r="2.9" fill="rgb(10.6%,10.6%,10.6%)"/>
<circle cx="675.1" cy="158.7" r="2.8" fill="rgb(10.2%,10.2%,10.2%)"/>
<circle cx="831.0" cy="343.8" r="2.8" fill="rgb(13.3%,13.3%,13.3%)"/>
<circle cx="546.4" cy="76.9" r="1.6" fill="rgb(8.8%,8.8%,8.8%)"/>
<circle cx="476.4" cy="81.7" r="2.3" fill="rgb(12.8%,12.8%,12.8%)"/>
<circle cx="630.4" cy="409.7" r="3.0" fill="rgb(8.1%,8.1%,8.1%)"/>
<circle cx="687.8" cy="208.4" r="1.4" fill="rgb(13.3%,13.3%,13.3%)"/>
<circle cx="547.7" cy="269.6" r="2.5" fill="rgb(13.3%,13.3%,13.3%)"/>
<circle cx="717.3" cy="206.9" r="2.1" fill="rgb(8.7%,8.7%,8.7%)"/>
<circle cx="838.9" cy="426.0" r="1.6" fill="rgb(8.0%,8.0%,8.0%)"/>
<circle cx="547.2" cy="191.8" r="3.0" fill="rgb(13.0%,13.0%,13.0%)"/>
<circle cx="786.1" cy="80.2" r="2.8" fill="rgb(11.9%,11.9%,11.9%)"/>
<circle cx="707.8" cy="423.7" r="1.3" fill="rgb(8.6%,8.6%,8.6%)"/>
<circle cx="752.3" cy="406.8" r="2.6" fill="rgb(9.5%,9.5%,9.5%)"/>
<circle cx="685.1" cy="340.4" r="1.4" fill="rgb(9.6%,9.6%,9.6%)"/>
<circle cx="547.6" cy="108.4" r="2.2" fill="rgb(8.7%,8.7%,8.7%)"/>
<circle cx="540.0" cy="115.4" r="2.6" fill="rgb(7.8%,7.8%,7.8%)"/>
<circle cx="736.8" cy="134.4" r="1.3" fill="rgb(13.1%,13.1%,13.1%)"/>
<circle cx="532.6" cy="404.8" r="2.9" fill="rgb(12.9%,12.9%,12.9%)"/>
<circle cx="499.4" cy="226.7" r="1.4" fill="rgb(13.1%,13.1%,13.1%)"/>
<circle cx="788.2" cy="293.0" r="2.1" fill="rgb(9.7%,9.7%,9.7%)"/>
<circle cx="780.3" cy="237.8" r="2.5" fill="rgb(8.6%,8.6%,8.6%)"/>
<circle cx="533.1" cy="83.8" r="2.6" fill="rgb(11.0%,11.0%,11.0%)"/>
<circle cx="501.5" cy="381.7" r="1.7" fill="rgb(10.1%,10.1%,10.1%)"/>
<circle cx="506.0" cy="162.2" r="2.9" fill="rgb(9.7%,9.7%,9.7%)"/>
<circle cx="511.0" cy="242.7" r="1.8" fill="rgb(13.0%,13.0%,13.0%)"/>
<circle cx="488.9" cy="421.2" r="1.3" fill="rgb(12.9%,12.9%,12.9%)"/>
<circle cx="716.7" cy="140.3" r="2.2" fill="rgb(9.4%,9.4%,9.4%)"/>
<circle cx="548.0" cy="136.8" r="1.9" fill="rgb(13.5%,13.5%,13.5%)"/>
<circle cx="852.2" cy="401.6" r="1.4" fill="rgb(9.4%,9.4%,9.4%)"/>
<circle cx="810.3" cy="84.0" r="2.7" fill="rgb(9.4%,9.4%,9.4%)"/>
<circle cx="844.2" cy="68.9" r="2.8" fill="rgb(9.7%,9.7%,9.7%)"/>
<circle cx="499.6" cy="63.7" r="2.9" fill="rgb(10.8%,10.8%,10.8%)"/>
<circle cx="518.4" cy="222.3" r="3.0" fill="rgb(9.0%,9.0%,9.0%)"/>
<circle cx="676.8" cy="113.5" r="1.6" fill="rgb(12.2%,12.2%,12.2%)"/>
<circle cx="734.5" cy="135.0" r="1.4" fill="rgb(8.2%,8.2%,8.2%)"/>
<circle cx="692.1" cy="244.3" r="1.7" fill="rgb(8.9%,8.9%,8.9%)"/>
<circle cx="693.7" cy="322.0" r="2.8" fill="rgb(11.1%,11.1%,11.1%)"/>
<circle cx="525.1" cy="87.0" r="2.7" fill="rgb(10.1%,10.1%,10.1%)"/>
<circle cx="738.6" cy="83.3" r="2.8" fill="rgb(9.7%,9.7%,9.7%)"/>
<circle cx="788.0" cy="379.4" r="2.2" fill="rgb(7.8%,7.8%,7.8%)"/>
<circle cx="816.1" cy="237.4" r="2.9" fill="rgb(9.3%,9.3%,9.3%)"/>
<circle cx="518.5" cy="367.4" r="1.9" fill="rgb(8.7%,8.7%,8.7%)"/>
<circle cx="594.5" cy="280.7" r="1.2" fill="rgb(10.8%,10.8%,10.8%)"/>
<circle cx="625.2" cy="251.7" r="1.4" fill="rgb(11.9%,11.9%,11.9%)"/>
<circle cx="777.6" cy="379.8" r="1.8" fill="rgb(11.9%,11.9%,11.9%)"/>
<circle cx="598.8" cy="338.0" r="1.3" fill="rgb(12.8%,12.8%,12.8%)"/>
<circle cx="834.1" cy="244.1" r="2.2" fill="rgb(10.8%,10.8%,10.8%)"/>
<circle cx="662.8" cy="70.6" r="3.1" fill="rgb(9.0%,9.0%,9.0%)"/>
<circle cx="517.0" cy="100.6" r="1.7" fill="rgb(12.5%,12.5%,12.5%)"/>
<circle cx="454.4" cy="98.3" r="2.6" fill="rgb(8.9%,8.9%,8.9%)"/>
<circle cx="449.3" cy="282.4" r="2.4" fill="rgb(10.8%,10.8%,10.8%)"/>
<circle cx="730.8" cy="100.6" r="2.9" fill="rgb(11.9%,11.9%,11.9%)"/>
<circle cx="460.6" cy="108.0" r="2.2" fill="rgb(10.6%,10.6%,10.6%)"/>
<circle cx="556.9" cy="107.7" r="2.0" fill="rgb(8.5%,8.5%,8.5%)"/>
<circle cx="685.2" cy="378.2" r="1.5" fill="rgb(11.1%,11.1%,11.1%)"/>
<circle cx="748.8" cy="123.1" r="2.9" fill="rgb(13.2%,13.2%,13.2%)"/>
<circle cx="601.8" cy="216.9" r="2.9" fill="rgb(10.8%,10.8%,10.8%)"/>
<circle cx="604.6" cy="407.5" r="2.8" fill="rgb(9.7%,9.7%,9.7%)"/>
<circle cx="540.8" cy="185.6" r="2.1" fill="rgb(13.4%,13.4%,13.4%)"/>
<circle cx="772.6" cy="397.1" r="2.8" fill="rgb(12.7%,12.7%,12.7%)"/>
<circle cx="464.0" cy="252.4" r="3.1" fill="rgb(13.2%,13.2%,13.2%)"/>
<circle cx="544.5" cy="217.5" r="2.5" fill="rgb(9.9%,9.9%,9.9%)"/>
<circle cx="660.2" cy="88.4" r="2.1" fill="rgb(10.7%,10.7%,10.7%)"/>
<circle cx="450.6" cy="114.0" r="3.1" fill="rgb(12.3%,12.3%,12.3%)"/>
<circle cx="827.1" cy="294.8" r="2.8" fill="rgb(12.9%,12.9%,12.9%)"/>
<circle cx="805.6" cy="75.6" r="2.5" fill="rgb(9.3%,9.3%,9.3%)"/>
<circle cx="720.8" cy="163.1" r="2.3" fill="rgb(13.1%,13.1%,13.1%)"/>
<circle cx="697.3" cy="154.7" r="2.2" fill="rgb(10.3%,10.3%,10.3%)"/>
<circle cx="832.8" cy="168.2" r="1.8" fill="rgb(11.5%,11.5%,11.5%)"/>
<circle cx="491.5" cy="280.5" r="3.1" fill="rgb(10.7%,10.7%,10.7%)"/>
<circle cx="552.3" cy="233.7" r="2.3" fill="rgb(8.6%,8.6%,8.6%)"/>
<circle cx="492.9" cy="111.1" r="1.8" fill="rgb(10.1%,10.1%,10.1%)"/>
<circle cx="560.5" cy="152.1" r="1.4" fill="rgb(10.9%,10.9%,10.9%)"/>
<circle cx="787.1" cy="286.2" r="2.3" fill="rgb(11.5%,11.5%,11.5%)"/>
<circle cx="524.7" cy="323.0" r="2.1" fill="rgb(10.9%,10.9%,10.9%)"/>
<circle cx="693.9" cy="234.6" r="1.8" fill="rgb(9.1%,9.1%,9.1%)"/>
<circle cx="533.1" cy="250.6" r="2.0" fill="rgb(11.1%,11.1%,11.1%)"/>
<circle cx="446.9" cy="192.1" r="2.9" fill="rgb(9.1%,9.1%,9.1%)"/>
<circle cx="670.8" cy="242.9" r="1.8" fill="rgb(13.5%,13.5%,13.5%)"/>
<circle cx="563.5" cy="345.6" r="1.5" fill="rgb(8.1%,8.1%,8.1%)"/>
<circle cx="800.1" cy="224.0" r="1.3" fill="rgb(10.0%,10.0%,10.0%)"/>
<circle cx="622.8" cy="332.2" r="1.4" fill="rgb(9.0%,9.0%,9.0%)"/>
<circle cx="836.3" cy="333.3" r="1.5" fill="rgb(9.7%,9.7%,9.7%)"/>
<circle cx="586.9" cy="310.2" r="2.4" fill="rgb(12.7%,12.7%,12.7%)"/>
<circle cx="779.5" cy="252.5" r="2.7" fill="rgb(12.1%,12.1%,12.1%)"/>
<circle cx="754.2" cy="236.9" r="2.8" fill="rgb(11.9%,11.9%,11.9%)"/>
<circle cx="817.9" cy="109.6" r="2.9" fill="rgb(7.8%,7.8%,7.8%)"/>
<circle cx="756.7" cy="277.4" r="2.2" fill="rgb(13.3%,13.3%,13.3%)"/>
<circle cx="677.1" cy="216.0" r="2.8" fill="rgb(12.8%,12.8%,12.8%)"/>
<circle cx="691.6" cy="201.9" r="2.1" fill="rgb(10.4%,10.4%,10.4%)"/>
<circle cx="739.2" cy="170.2" r="2.0" fill="rgb(11.0%,11.0%,11.0%)"/>
<circle cx="600.0" cy="180.8" r="2.8" fill="rgb(12.7%,12.7%,12.7%)"/>
<circle cx="647.3" cy="225.5" r="1.6" fill="rgb(9.5%,9.5%,9.5%)"/>
<circle cx="501.6" cy="273.6" r="2.4" fill="rgb(8.3%,8.3%,8.3%)"/>
<circle cx="820.2" cy="181.5" r="2.9" fill="rgb(12.6%,12.6%,12.6%)"/>
<circle cx="836.1" cy="137.8" r="2.1" fill="rgb(13.0%,13.0%,13.0%)"/>
<circle cx="446.4" cy="80.4" r="2.3" fill="rgb(10.6%,10.6%,10.6%)"/>
<circle cx="820.2" cy="346.1" r="2.3" fill="rgb(13.5%,13.5%,13.5%)"/>
<circle cx="654.7" cy="252.3" r="2.6" fill="rgb(10.0%,10.0%,10.0%)"/>
<circle cx="589.0" cy="280.7" r="1.9" fill="rgb(13.2%,13.2%,13.2%)"/>
<circle cx="720.0" cy="255.2" r="1.4" fill="rgb(9.9%,9.9%,9.9%)"/>
<circle cx="606.8" cy="268.4" r="2.3" fill="rgb(12.9%,12.9%,12.9%)"/>
<circle cx="838.4" cy="241.1" r="2.1" fill="rgb(11.4%,11.4%,11.4%)"/>
<circle cx="851.4" cy="188.6" r="2.3" fill="rgb(12.5%,12.5%,12.5%)"/>
<circle cx="512.2" cy="179.4" r="3.2" fill="rgb(12.5%,12.5%,12.5%)"/>
<circle cx="652.7" cy="103.4" r="3.0" fill="rgb(11.7%,11.7%,11.7%)"/>
<circle cx="779.2" cy="425.4" r="3.0" fill="rgb(10.2%,10.2%,10.2%)"/>
<circle cx="506.3" cy="169.1" r="2.2" fill="rgb(10.7%,10.7%,10.7%)"/>
<circle cx="519.3" cy="129.8" r="2.5" fill="rgb(11.2%,11.2%,11.2%)"/>
<circle cx="587.2" cy="426.7" r="2.5" fill="rgb(8.0%,8.0%,8.0%)"/>
<circle cx="611.1" cy="351.3" r="1.8" fill="rgb(11.8%,11.8%,11.8%)"/>
<circle cx="443.6" cy="174.4" r="2.9" fill="rgb(11.1%,11.1%,11.1%)"/>
<circle cx="716.6" cy="135.0" r="2.2" fill="rgb(11.0%,11.0%,11.0%)"/>
<circle cx="551.3" cy="299.7" r="2.3" fill="rgb(13.5%,13.5%,13.5%)"/>
<circle cx="678.1" cy="213.5" r="1.4" fill="rgb(8.7%,8.7%,8.7%)"/>
<circle cx="754.2" cy="102.0" r="1.4" fill="rgb(8.7%,8.7%,8.7%)"/>
<circle cx="656.7" cy="364.3" r="2.4" fill="rgb(12.4%,12.4%,12.4%)"/>
<circle cx="467.5" cy="67.6" r="2.7" fill="rgb(9.6%,9.6%,9.6%)"/>
<circle cx="736.1" cy="192.5" r="1.5" fill="rgb(9.3%,9.3%,9.3%)"/>
<circle cx="482.9" cy="393.8" r="2.4" fill="rgb(9.8%,9.8%,9.8%)"/>
<circle cx="626.9" cy="204.2" r="1.3" fill="rgb(12.9%,12.9%,12.9%)"/>
<circle cx="681.5" cy="414.2" r="2.1" fill="rgb(11.3%,11.3%,11.3%)"/>
<circle cx="544.5" cy="79.1" r="3.1" fill="rgb(12.7%,12.7%,12.7%)"/>
<circle cx="571.4" cy="392.0" r="2.8" fill="rgb(9.5%,9.5%,9.5%)"/>
<circle cx="689.6" cy="414.4" r="2.2" fill="rgb(13.3%,13.3%,13.3%)"/>
<circle cx="541.8" cy="205.7" r="2.6" fill="rgb(9.0%,9.0%,9.0%)"/>
<circle cx="569.1" cy="383.4" r="2.2" fill="rgb(12.3%,12.3%,12.3%)"/>
<circle cx="542.0" cy="126.5" r="1.9" fill="rgb(8.8%,8.8%,8.8%)"/>
<circle cx="841.3" cy="169.4" r="2.3" fill="rgb(8.4%,8.4%,8.4%)"/>
<circle cx="661.4" cy="204.1" r="2.0" fill="rgb(8.1%,8.1%,8.1%)"/>
<circle cx="492.7" cy="365.3" r="1.9" fill="rgb(9.2%,9.2%,9.2%)"/>
<circle cx="520.6" cy="166.8" r="1.7" fill="rgb(7.9%,7.9%,7.9%)"/>
<circle cx="715.0" cy="188.0" r="1.5" fill="rgb(11.8%,11.8%,11.8%)"/>
<circle cx="480.1" cy="161.7" r="2.9" fill="rgb(8.5%,8.5%,8.5%)"/>
<circle cx="624.2" cy="369.1" r="2.8" fill="rgb(8.7%,8.7%,8.7%)"/>
<circle cx="587.0" cy="327.4" r="2.0" fill="rgb(13.3%,13.3%,13.3%)"/>
<circle cx="471.3" cy="77.4" r="4.2" fill="rgb(17.4%,17.4%,17.4%)"/>
<circle cx="541.4" cy="75.7" r="4.2" fill="rgb(16.7%,16.7%,16.7%)"/>
<circle cx="639.8" cy="67.4" r="4.7" fill="rgb(18.6%,18.6%,18.6%)"/>
<circle cx="615.5" cy="79.6" r="3.7" fill="rgb(16.4%,16.4%,16.4%)"/>
<circle cx="601.7" cy="92.3" r="4.2" fill="rgb(18.2%,18.2%,18.2%)"/>
<circle cx="541.4" cy="92.8" r="3.7" fill="rgb(17.5%,17.5%,17.5%)"/>
<circle cx="559.7" cy="90.1" r="3.1" fill="rgb(16.4%,16.4%,16.4%)"/>
<circle cx="459.1" cy="119.9" r="4.7" fill="rgb(18.1%,18.1%,18.1%)"/>
<circle cx="486.8" cy="114.4" r="3.7" fill="rgb(16.3%,16.3%,16.3%)"/>
<circle cx="481.8" cy="130.4" r="5.2" fill="rgb(17.8%,17.8%,17.8%)"/>
<circle cx="493.4" cy="136.5" r="3.1" fill="rgb(16.4%,16.4%,16.4%)"/>
<circle cx="524.3" cy="115.5" r="3.7" fill="rgb(16.5%,16.5%,16.5%)"/>
<circle cx="534.3" cy="113.8" r="3.1" fill="rgb(17.8%,17.8%,17.8%)"/>
<circle cx="446.4" cy="114.4" r="3.1" fill="rgb(19.3%,19.3%,19.3%)"/>
<circle cx="613.3" cy="107.8" r="3.1" fill="rgb(16.6%,16.6%,16.6%)"/>
<circle cx="617.7" cy="121.0" r="3.1" fill="rgb(17.0%,17.0%,17.0%)"/>
<circle cx="628.7" cy="126.5" r="5.2" fill="rgb(18.6%,18.6%,18.6%)"/>
<circle cx="524.9" cy="152.5" r="5.8" fill="rgb(19.8%,19.8%,19.8%)"/>
<circle cx="548.1" cy="155.3" r="5.8" fill="rgb(18.4%,18.4%,18.4%)"/>
<circle cx="563.5" cy="160.8" r="6.3" fill="rgb(17.7%,17.7%,17.7%)"/>
<circle cx="478.5" cy="166.9" r="5.8" fill="rgb(19.9%,19.9%,19.9%)"/>
<circle cx="457.5" cy="155.8" r="3.1" fill="rgb(16.3%,16.3%,16.3%)"/>
<circle cx="508.3" cy="150.3" r="3.1" fill="rgb(19.5%,19.5%,19.5%)"/>
<circle cx="509.4" cy="160.8" r="3.1" fill="rgb(17.3%,17.3%,17.3%)"/>
<circle cx="532.1" cy="135.4" r="3.1" fill="rgb(16.7%,16.7%,16.7%)"/>
<circle cx="602.2" cy="166.3" r="3.1" fill="rgb(16.6%,16.6%,16.6%)"/>
<circle cx="619.9" cy="170.2" r="2.6" fill="rgb(17.3%,17.3%,17.3%)"/>
<circle cx="642.6" cy="172.9" r="5.2" fill="rgb(19.3%,19.3%,19.3%)"/>
<circle cx="645.3" cy="159.1" r="2.6" fill="rgb(16.8%,16.8%,16.8%)"/>
<circle cx="586.2" cy="181.2" r="3.1" fill="rgb(18.4%,18.4%,18.4%)"/>
<circle cx="580.1" cy="195.0" r="3.1" fill="rgb(18.6%,18.6%,18.6%)"/>
<circle cx="580.7" cy="208.3" r="3.1" fill="rgb(17.6%,17.6%,17.6%)"/>
<circle cx="621.6" cy="212.2" r="4.2" fill="rgb(18.2%,18.2%,18.2%)"/>
<circle cx="486.8" cy="190.1" r="2.6" fill="rgb(16.4%,16.4%,16.4%)"/>
<circle cx="450.8" cy="218.2" r="4.7" fill="rgb(16.4%,16.4%,16.4%)"/>
<circle cx="513.8" cy="198.4" r="2.6" fill="rgb(16.9%,16.9%,16.9%)"/>
<circle cx="632.1" cy="222.1" r="3.1" fill="rgb(18.8%,18.8%,18.8%)"/>
<circle cx="491.2" cy="229.9" r="2.6" fill="rgb(17.8%,17.8%,17.8%)"/>
<circle cx="487.3" cy="242.0" r="3.1" fill="rgb(17.3%,17.3%,17.3%)"/>
<circle cx="566.9" cy="229.3" r="2.6" fill="rgb(18.4%,18.4%,18.4%)"/>
<circle cx="611.1" cy="228.7" r="2.6" fill="rgb(17.9%,17.9%,17.9%)"/>
<circle cx="524.9" cy="237.6" r="2.6" fill="rgb(17.3%,17.3%,17.3%)"/>
<circle cx="646.4" cy="204.4" r="2.6" fill="rgb(19.2%,19.2%,19.2%)"/>
<circle cx="501.7" cy="78.5" r="2.1" fill="rgb(18.8%,18.8%,18.8%)"/>
<circle cx="747.4" cy="67.4" r="4.1" fill="rgb(18.2%,18.2%,18.2%)"/>
<circle cx="834.5" cy="69.6" r="4.7" fill="rgb(19.5%,19.5%,19.5%)"/>
<circle cx="831.2" cy="90.6" r="5.1" fill="rgb(17.0%,17.0%,17.0%)"/>
<circle cx="702.2" cy="96.1" r="5.6" fill="rgb(16.3%,16.3%,16.3%)"/>
<circle cx="740.8" cy="121.4" r="4.4" fill="rgb(19.0%,19.0%,19.0%)"/>
<circle cx="800.3" cy="122.5" r="3.9" fill="rgb(17.9%,17.9%,17.9%)"/>
<circle cx="842.2" cy="122.5" r="3.7" fill="rgb(18.6%,18.6%,18.6%)"/>
<circle cx="786.0" cy="142.4" r="5.1" fill="rgb(18.2%,18.2%,18.2%)"/>
<circle cx="733.1" cy="139.1" r="5.4" fill="rgb(17.1%,17.1%,17.1%)"/>
<circle cx="745.2" cy="171.0" r="5.0" fill="rgb(18.3%,18.3%,18.3%)"/>
<circle cx="750.7" cy="154.5" r="4.8" fill="rgb(17.7%,17.7%,17.7%)"/>
<circle cx="810.2" cy="167.7" r="5.3" fill="rgb(19.8%,19.8%,19.8%)"/>
<circle cx="790.4" cy="176.6" r="4.5" fill="rgb(18.6%,18.6%,18.6%)"/>
<circle cx="816.9" cy="181.0" r="3.7" fill="rgb(18.7%,18.7%,18.7%)"/>
<circle cx="736.4" cy="192.0" r="4.9" fill="rgb(20.0%,20.0%,20.0%)"/>
<circle cx="711.0" cy="232.8" r="5.2" fill="rgb(17.0%,17.0%,17.0%)"/>
<circle cx="745.2" cy="251.5" r="4.4" fill="rgb(18.6%,18.6%,18.6%)"/>
<circle cx="790.4" cy="263.7" r="3.6" fill="rgb(17.7%,17.7%,17.7%)"/>
<circle cx="715.4" cy="183.2" r="3.9" fill="rgb(16.3%,16.3%,16.3%)"/>
<circle cx="681.3" cy="154.5" r="3.7" fill="rgb(19.0%,19.0%,19.0%)"/>
<circle cx="693.4" cy="257.0" r="3.9" fill="rgb(16.8%,16.8%,16.8%)"/>
<circle cx="761.7" cy="268.1" r="4.4" fill="rgb(19.5%,19.5%,19.5%)"/>
<circle cx="491.6" cy="260.4" r="3.8" fill="rgb(17.7%,17.7%,17.7%)"/>
<circle cx="534.6" cy="269.2" r="4.7" fill="rgb(19.5%,19.5%,19.5%)"/>
<circle cx="567.7" cy="276.9" r="5.2" fill="rgb(19.4%,19.4%,19.4%)"/>
<circle cx="584.2" cy="271.4" r="4.2" fill="rgb(17.5%,17.5%,17.5%)"/>
<circle cx="540.1" cy="289.0" r="4.3" fill="rgb(19.5%,19.5%,19.5%)"/>
<circle cx="490.5" cy="297.8" r="5.5" fill="rgb(16.4%,16.4%,16.4%)"/>
<circle cx="591.9" cy="254.8" r="4.0" fill="rgb(16.8%,16.8%,16.8%)"/>
<circle cx="625.0" cy="254.8" r="4.1" fill="rgb(17.8%,17.8%,17.8%)"/>
<circle cx="621.7" cy="314.4" r="4.8" fill="rgb(16.9%,16.9%,16.9%)"/>
<circle cx="579.8" cy="315.5" r="3.6" fill="rgb(17.6%,17.6%,17.6%)"/>
<circle cx="531.3" cy="324.3" r="4.3" fill="rgb(18.2%,18.2%,18.2%)"/>
<circle cx="469.6" cy="383.8" r="5.5" fill="rgb(18.7%,18.7%,18.7%)"/>
<circle cx="579.8" cy="370.6" r="4.6" fill="rgb(18.4%,18.4%,18.4%)"/>
<circle cx="544.5" cy="389.4" r="5.0" fill="rgb(16.0%,16.0%,16.0%)"/>
<circle cx="505.9" cy="408.1" r="5.4" fill="rgb(19.1%,19.1%,19.1%)"/>
<circle cx="568.8" cy="408.1" r="5.3" fill="rgb(19.2%,19.2%,19.2%)"/>
<circle cx="618.4" cy="399.3" r="4.4" fill="rgb(17.5%,17.5%,17.5%)"/>
<circle cx="606.3" cy="418.0" r="3.8" fill="rgb(18.5%,18.5%,18.5%)"/>
<circle cx="556.7" cy="422.4" r="3.7" fill="rgb(16.1%,16.1%,16.1%)"/>
<circle cx="756.2" cy="295.6" r="4.0" fill="rgb(16.5%,16.5%,16.5%)"/>
<circle cx="792.6" cy="301.1" r="4.3" fill="rgb(16.0%,16.0%,16.0%)"/>
<circle cx="838.9" cy="323.2" r="3.6" fill="rgb(16.4%,16.4%,16.4%)"/>
<circle cx="683.5" cy="316.6" r="3.8" fill="rgb(17.3%,17.3%,17.3%)"/>
<circle cx="697.8" cy="316.6" r="3.7" fill="rgb(19.5%,19.5%,19.5%)"/>
<circle cx="668.0" cy="335.3" r="4.8" fill="rgb(16.4%,16.4%,16.4%)"/>
<circle cx="692.3" cy="289.0" r="4.1" fill="rgb(17.3%,17.3%,17.3%)"/>
<circle cx="761.7" cy="332.0" r="4.3" fill="rgb(16.3%,16.3%,16.3%)"/>
<circle cx="790.4" cy="336.4" r="5.3" fill="rgb(20.0%,20.0%,20.0%)"/>
<circle cx="746.3" cy="367.3" r="4.5" fill="rgb(17.8%,17.8%,17.8%)"/>
<circle cx="795.9" cy="393.8" r="3.8" fill="rgb(16.2%,16.2%,16.2%)"/>
<circle cx="770.6" cy="391.6" r="4.3" fill="rgb(16.9%,16.9%,16.9%)"/>
<circle cx="838.9" cy="391.6" r="5.3" fill="rgb(16.5%,16.5%,16.5%)"/>
<circle cx="671.3" cy="402.6" r="3.6" fill="rgb(19.8%,19.8%,19.8%)"/>
<circle cx="697.8" cy="413.6" r="4.7" fill="rgb(16.4%,16.4%,16.4%)"/>
<circle cx="733.1" cy="422.4" r="4.7" fill="rgb(15.9%,15.9%,15.9%)"/>
<circle cx="803.6" cy="411.4" r="4.7" fill="rgb(19.9%,19.9%,19.9%)"/>
<circle cx="713.2" cy="380.5" r="5.3" fill="rgb(18.7%,18.7%,18.7%)"/>
<circle cx="653.7" cy="389.4" r="4.1" fill="rgb(17.3%,17.3%,17.3%)"/>
<circle cx="772.8" cy="235.0" r="3.9" fill="rgb(19.0%,19.0%,19.0%)"/>
<circle cx="808.0" cy="250.4" r="4.7" fill="rgb(19.1%,19.1%,19.1%)"/>
<circle cx="845.5" cy="239.4" r="4.3" fill="rgb(16.7%,16.7%,16.7%)"/>
<circle cx="673.5" cy="206.3" r="5.2" fill="rgb(19.9%,19.9%,19.9%)"/>
<circle cx="662.5" cy="226.2" r="5.3" fill="rgb(19.2%,19.2%,19.2%)"/>
<circle cx="689.0" cy="129.2" r="5.2" fill="rgb(18.9%,18.9%,18.9%)"/>
<circle cx="766.1" cy="206.3" r="4.1" fill="rgb(18.0%,18.0%,18.0%)"/>
<circle cx="814.7" cy="208.5" r="4.3" fill="rgb(15.9%,15.9%,15.9%)"/>
<circle cx="830.1" cy="283.5" r="3.7" fill="rgb(17.0%,17.0%,17.0%)"/>
<circle cx="777.2" cy="312.2" r="4.1" fill="rgb(18.7%,18.7%,18.7%)"/>
<circle cx="728.7" cy="323.2" r="5.5" fill="rgb(17.7%,17.7%,17.7%)"/>
<circle cx="673.5" cy="371.7" r="5.5" fill="rgb(19.9%,19.9%,19.9%)"/>
<circle cx="640.5" cy="338.6" r="5.5" fill="rgb(17.3%,17.3%,17.3%)"/>
<circle cx="514.8" cy="323.2" r="4.0" fill="rgb(16.8%,16.8%,16.8%)"/>
<circle cx="481.7" cy="338.6" r="4.0" fill="rgb(16.7%,16.7%,16.7%)"/>
<circle cx="455.2" cy="407.0" r="4.8" fill="rgb(19.6%,19.6%,19.6%)"/>
<circle cx="525.8" cy="371.7" r="5.3" fill="rgb(17.8%,17.8%,17.8%)"/>
<circle cx="640.5" cy="420.2" r="4.9" fill="rgb(19.2%,19.2%,19.2%)"/>
<circle cx="715.4" cy="340.8" r="3.8" fill="rgb(18.6%,18.6%,18.6%)"/>
<circle cx="452.0" cy="368.5" r="5.0" fill="rgb(21.0%,21.0%,21.0%)"/>
<circle cx="452.0" cy="368.5" r="2.2" fill="rgb(37.1%,37.1%,37.1%)"/>
<circle cx="838.0" cy="218.6" r="4.0" fill="rgb(21.0%,21.0%,21.0%)"/>
<circle cx="838.0" cy="218.6" r="1.8" fill="rgb(37.1%,37.1%,37.1%)"/>
<circle cx="820.0" cy="272.4" r="3.5" fill="rgb(21.0%,21.0%,21.0%)"/>
<circle cx="820.0" cy="272.4" r="1.6" fill="rgb(37.1%,37.1%,37.1%)"/>
<circle cx="725.3" cy="350.0" r="3.0" fill="rgb(21.0%,21.0%,21.0%)"/>
<circle cx="725.3" cy="350.0" r="1.4" fill="rgb(37.1%,37.1%,37.1%)"/>
<circle cx="715.6" cy="281.5" r="5.5" fill="rgb(21.0%,21.0%,21.0%)"/>
<circle cx="715.6" cy="281.5" r="2.5" fill="rgb(37.1%,37.1%,37.1%)"/>
<circle cx="596.3" cy="403.5" r="3.0" fill="rgb(21.0%,21.0%,21.0%)"/>
<circle cx="596.3" cy="403.5" r="1.4" fill="rgb(37.1%,37.1%,37.1%)"/>
</g></g>
<g clip-path="url(#cp3)"><g filter="url(#fireS)">
<rect x="12" y="435" width="430" height="287" fill="rgb(12.3%,12.3%,12.3%)"/>
<ellipse cx="317.9" cy="506.6" rx="52.8" ry="47.3" fill="url(#g20)"/>
<ellipse cx="418.0" cy="568.2" rx="30.8" ry="50.6" fill="url(#g18)"/>
<ellipse cx="418.0" cy="673.8" rx="26.4" ry="28.6" fill="url(#g21)"/>
<ellipse cx="140.8" cy="442.8" rx="28.6" ry="11.0" fill="rgb(33.9%,33.9%,33.9%)"/>
<ellipse cx="253.0" cy="445.0" rx="30.8" ry="13.2" fill="rgb(35.5%,35.5%,35.5%)"/>
<ellipse cx="431.2" cy="451.6" rx="13.2" ry="19.8" fill="url(#g3)"/>
<ellipse cx="63.8" cy="533.0" rx="33.0" ry="17.6" fill="rgb(21.8%,21.8%,21.8%)" transform="rotate(-15 63.8 533.0)"/>
<ellipse cx="189.2" cy="473.6" rx="13.2" ry="18.7" fill="rgb(19.4%,19.4%,19.4%)" transform="rotate(-40 189.2 473.6)"/>
<ellipse cx="44.0" cy="627.6" rx="11.0" ry="9.9" fill="rgb(17.7%,17.7%,17.7%)"/>
<ellipse cx="35.2" cy="497.8" rx="8.8" ry="8.8" fill="rgb(12.9%,12.9%,12.9%)"/>
<path d="M209.0,508.8C215.6,509.9 224.0,511.0 233.2,517.6C242.3,524.2 253.3,538.9 264.0,548.4C274.6,557.9 287.8,566.4 297.0,574.8C306.1,583.2 313.8,589.4 319.0,599.0C324.1,608.5 325.2,621.7 327.8,632.0C330.3,642.2 332.5,652.5 334.4,660.6C336.2,668.6 339.5,675.6 338.8,680.4C338.0,685.1 338.8,688.1 330.0,689.2C321.2,690.3 298.8,688.4 286.0,687.0C273.1,685.5 264.0,681.8 253.0,680.4C242.0,678.9 231.0,678.2 220.0,678.2C209.0,678.2 198.0,678.5 187.0,680.4C176.0,682.2 166.8,687.7 154.0,689.2C141.2,690.6 119.9,693.2 110.0,689.2C100.1,685.1 97.9,674.5 94.6,665.0C91.3,655.4 90.2,643.0 90.2,632.0C90.2,621.0 91.3,607.0 94.6,599.0C97.9,590.9 104.5,589.4 110.0,583.6C115.5,577.7 121.7,571.1 127.6,563.8C133.5,556.5 137.9,546.9 145.2,539.6C152.5,532.3 163.5,524.6 171.6,519.8C179.6,515.0 187.3,512.8 193.6,511.0C199.8,509.2 202.4,507.7 209.0,508.8Z" fill="rgb(32.3%,32.3%,32.3%)" filter="url(#bl9)"/>
<path d="M209.0,508.8C215.6,509.9 224.0,511.0 233.2,517.6C242.3,524.2 253.3,538.9 264.0,548.4C274.6,557.9 287.8,566.4 297.0,574.8C306.1,583.2 313.8,589.4 319.0,599.0C324.1,608.5 325.2,621.7 327.8,632.0C330.3,642.2 332.5,652.5 334.4,660.6C336.2,668.6 339.5,675.6 338.8,680.4C338.0,685.1 338.8,688.1 330.0,689.2C321.2,690.3 298.8,688.4 286.0,687.0C273.1,685.5 264.0,681.8 253.0,680.4C242.0,678.9 231.0,678.2 220.0,678.2C209.0,678.2 198.0,678.5 187.0,680.4C176.0,682.2 166.8,687.7 154.0,689.2C141.2,690.6 119.9,693.2 110.0,689.2C100.1,685.1 97.9,674.5 94.6,665.0C91.3,655.4 90.2,643.0 90.2,632.0C90.2,621.0 91.3,607.0 94.6,599.0C97.9,590.9 104.5,589.4 110.0,583.6C115.5,577.7 121.7,571.1 127.6,563.8C133.5,556.5 137.9,546.9 145.2,539.6C152.5,532.3 163.5,524.6 171.6,519.8C179.6,515.0 187.3,512.8 193.6,511.0C199.8,509.2 202.4,507.7 209.0,508.8Z" fill="rgb(45.2%,45.2%,45.2%)"/>
<clipPath id="p3c"><path d="M209.0,508.8C215.6,509.9 224.0,511.0 233.2,517.6C242.3,524.2 253.3,538.9 264.0,548.4C274.6,557.9 287.8,566.4 297.0,574.8C306.1,583.2 313.8,589.4 319.0,599.0C324.1,608.5 325.2,621.7 327.8,632.0C330.3,642.2 332.5,652.5 334.4,660.6C336.2,668.6 339.5,675.6 338.8,680.4C338.0,685.1 338.8,688.1 330.0,689.2C321.2,690.3 298.8,688.4 286.0,687.0C273.1,685.5 264.0,681.8 253.0,680.4C242.0,678.9 231.0,678.2 220.0,678.2C209.0,678.2 198.0,678.5 187.0,680.4C176.0,682.2 166.8,687.7 154.0,689.2C141.2,690.6 119.9,693.2 110.0,689.2C100.1,685.1 97.9,674.5 94.6,665.0C91.3,655.4 90.2,643.0 90.2,632.0C90.2,621.0 91.3,607.0 94.6,599.0C97.9,590.9 104.5,589.4 110.0,583.6C115.5,577.7 121.7,571.1 127.6,563.8C133.5,556.5 137.9,546.9 145.2,539.6C152.5,532.3 163.5,524.6 171.6,519.8C179.6,515.0 187.3,512.8 193.6,511.0C199.8,509.2 202.4,507.7 209.0,508.8Z"/></clipPath>
<ellipse clip-path="url(#p3c)" cx="213.4" cy="607.8" rx="125.4" ry="85.8" fill="url(#g22)"/>
</g></g>
<g clip-path="url(#cp4)"><g filter="url(#fireS)">
<rect x="432" y="435" width="431" height="287" fill="rgb(5.5%,5.5%,5.5%)"/>
<ellipse cx="609.6" cy="537.6" rx="40.5" ry="25.8" fill="rgb(18.1%,18.1%,18.1%)" filter="url(#bl6)" transform="rotate(49 609.6 537.6)"/>
<ellipse cx="671.3" cy="507.8" rx="20.2" ry="17.5" fill="rgb(13.9%,13.9%,13.9%)" filter="url(#bl6)"/>
<ellipse cx="490.5" cy="656.7" rx="32.2" ry="23.9" fill="rgb(17.1%,17.1%,17.1%)" filter="url(#bl6)"/>
<ellipse cx="572.0" cy="630.0" rx="23.0" ry="22.1" fill="rgb(15.2%,15.2%,15.2%)" filter="url(#bl6)"/>
<ellipse cx="653.7" cy="612.6" rx="11.0" ry="11.0" fill="rgb(10.6%,10.6%,10.6%)" filter="url(#bl6)"/>
<ellipse cx="715.4" cy="606.0" rx="12.0" ry="12.9" fill="rgb(10.6%,10.6%,10.6%)" filter="url(#bl6)"/>
<ellipse cx="728.7" cy="526.6" rx="10.1" ry="9.2" fill="rgb(9.7%,9.7%,9.7%)" filter="url(#bl6)"/>
<ellipse cx="461.8" cy="528.8" rx="12.0" ry="12.0" fill="rgb(9.4%,9.4%,9.4%)" filter="url(#bl6)"/>
<ellipse cx="704.4" cy="469.3" rx="10.1" ry="9.2" fill="rgb(9.4%,9.4%,9.4%)" filter="url(#bl6)"/>
<ellipse cx="750.7" cy="464.8" rx="13.8" ry="10.1" fill="rgb(9.4%,9.4%,9.4%)" filter="url(#bl6)"/>
<ellipse cx="810.0" cy="451.6" rx="12.0" ry="8.3" fill="rgb(9.4%,9.4%,9.4%)" filter="url(#bl6)"/>
<ellipse cx="711.0" cy="687.6" rx="13.8" ry="12.0" fill="rgb(9.7%,9.7%,9.7%)" filter="url(#bl6)"/>
<ellipse cx="836.7" cy="689.8" rx="13.8" ry="15.6" fill="rgb(10.6%,10.6%,10.6%)" filter="url(#bl6)"/>
<ellipse cx="512.6" cy="478.0" rx="6.4" ry="6.4" fill="rgb(8.4%,8.4%,8.4%)" filter="url(#bl6)"/>
<path d="M770.0,512.0C780.3,507.7 820.3,507.3 830.0,512.0C839.7,516.7 831.0,530.0 828.0,540.0C825.0,550.0 817.2,564.0 812.0,572.0C806.8,580.0 802.3,589.2 797.0,588.0C791.7,586.8 784.8,573.3 780.0,565.0C775.2,556.7 769.7,546.8 768.0,538.0C766.3,529.2 759.7,516.3 770.0,512.0Z" fill="rgb(18.7%,18.7%,18.7%)" filter="url(#bl6)"/>
</g></g>
<rect x="353.7" y="418" width="75.3" height="8.4" fill="#fff"/>
<rect x="772.4" y="416.4" width="75.6" height="8.6" fill="#fff"/>
<rect x="267.7" y="699.7" width="161.5" height="9.1" fill="#fff"/>
<rect x="686.7" y="700" width="161" height="8.6" fill="#fff"/>
<g filter="url(#fireN)"><rect x="912.4" y="283" width="36.9" height="353.3" fill="url(#cbar)"/></g>
<rect x="912.4" y="283" width="36.9" height="353.3" fill="none" stroke="#000" stroke-width="1"/>
<text transform="translate(-1.25,38.30) scale(0.8219,0.9035)" font-size="50" font-weight="bold" text-anchor="start" style="font-family:'DejaVu Sans', sans-serif">a</text>
<text transform="translate(227.01,32.19) scale(0.9714,1.0074)" font-size="36" font-weight="bold" text-anchor="middle">FUS</text>
<text transform="translate(646.51,32.17) scale(0.9802,1.0432)" font-size="36" font-weight="bold" text-anchor="middle">FUS + DNAJB6</text>
<text transform="translate(958.02,207.75) scale(0.9930,1.0032)" font-size="35.5" font-weight="bold" text-anchor="middle">Intensity</text>
<text transform="translate(959.00,250.36) scale(0.9878,1.0036)" font-size="35.5" font-weight="bold" text-anchor="middle">(a.u.)</text>
<text transform="translate(950.65,304.01) scale(1.1616,1.0474)" font-size="32" font-weight="normal" text-anchor="start">6500</text>
<text transform="translate(951.82,392.99) scale(1.1455,1.0691)" font-size="32" font-weight="normal" text-anchor="start">4975</text>
<text transform="translate(952.37,480.01) scale(1.1379,1.0932)" font-size="32" font-weight="normal" text-anchor="start">3450</text>
<text transform="translate(953.73,569.00) scale(1.1179,1.0455)" font-size="32" font-weight="normal" text-anchor="start">1925</text>
<text transform="translate(951.85,657.01) scale(1.1571,1.0464)" font-size="32" font-weight="normal" text-anchor="start">400</text>
<g stroke="#000" stroke-linecap="round" fill="none">
<line x1="1340.7" y1="159.5" x2="1340.7" y2="724" stroke-width="3.3" stroke-linecap="butt"/>
<line x1="1339" y1="722" x2="1999.5" y2="722" stroke-width="3.5" stroke-linecap="butt"/>
<line x1="1324.5" y1="683.2" x2="1340" y2="683.2" stroke-width="3.3"/>
<line x1="1331.5" y1="644.0" x2="1340" y2="644.0" stroke-width="3.3"/>
<line x1="1331.5" y1="621.0" x2="1340" y2="621.0" stroke-width="3.3"/>
<line x1="1331.5" y1="604.8" x2="1340" y2="604.8" stroke-width="3.3"/>
<line x1="1331.5" y1="592.1" x2="1340" y2="592.1" stroke-width="3.3"/>
<line x1="1331.5" y1="581.8" x2="1340" y2="581.8" stroke-width="3.3"/>
<line x1="1331.5" y1="573.1" x2="1340" y2="573.1" stroke-width="3.3"/>
<line x1="1331.5" y1="565.5" x2="1340" y2="565.5" stroke-width="3.3"/>
<line x1="1331.5" y1="558.9" x2="1340" y2="558.9" stroke-width="3.3"/>
<line x1="1324.5" y1="552.9" x2="1340" y2="552.9" stroke-width="3.3"/>
<line x1="1331.5" y1="513.7" x2="1340" y2="513.7" stroke-width="3.3"/>
<line x1="1331.5" y1="490.7" x2="1340" y2="490.7" stroke-width="3.3"/>
<line x1="1331.5" y1="474.5" x2="1340" y2="474.5" stroke-width="3.3"/>
<line x1="1331.5" y1="461.8" x2="1340" y2="461.8" stroke-width="3.3"/>
<line x1="1331.5" y1="451.5" x2="1340" y2="451.5" stroke-width="3.3"/>
<line x1="1331.5" y1="442.8" x2="1340" y2="442.8" stroke-width="3.3"/>
<line x1="1331.5" y1="435.2" x2="1340" y2="435.2" stroke-width="3.3"/>
<line x1="1331.5" y1="428.6" x2="1340" y2="428.6" stroke-width="3.3"/>
<line x1="1324.5" y1="422.6" x2="1340" y2="422.6" stroke-width="3.3"/>
<line x1="1331.5" y1="383.4" x2="1340" y2="383.4" stroke-width="3.3"/>
<line x1="1331.5" y1="360.4" x2="1340" y2="360.4" stroke-width="3.3"/>
<line x1="1331.5" y1="344.2" x2="1340" y2="344.2" stroke-width="3.3"/>
<line x1="1331.5" y1="331.5" x2="1340" y2="331.5" stroke-width="3.3"/>
<line x1="1331.5" y1="321.2" x2="1340" y2="321.2" stroke-width="3.3"/>
<line x1="1331.5" y1="312.5" x2="1340" y2="312.5" stroke-width="3.3"/>
<line x1="1331.5" y1="304.9" x2="1340" y2="304.9" stroke-width="3.3"/>
<line x1="1331.5" y1="298.3" x2="1340" y2="298.3" stroke-width="3.3"/>
<line x1="1324.5" y1="292.3" x2="1340" y2="292.3" stroke-width="3.3"/>
<line x1="1331.5" y1="253.1" x2="1340" y2="253.1" stroke-width="3.3"/>
<line x1="1331.5" y1="230.1" x2="1340" y2="230.1" stroke-width="3.3"/>
<line x1="1331.5" y1="213.9" x2="1340" y2="213.9" stroke-width="3.3"/>
<line x1="1331.5" y1="201.2" x2="1340" y2="201.2" stroke-width="3.3"/>
<line x1="1331.5" y1="190.9" x2="1340" y2="190.9" stroke-width="3.3"/>
<line x1="1331.5" y1="182.2" x2="1340" y2="182.2" stroke-width="3.3"/>
<line x1="1331.5" y1="174.6" x2="1340" y2="174.6" stroke-width="3.3"/>
<line x1="1331.5" y1="168.0" x2="1340" y2="168.0" stroke-width="3.3"/>
<line x1="1324.5" y1="162.0" x2="1340" y2="162.0" stroke-width="3.3"/>
<line x1="1331.5" y1="722.4" x2="1340" y2="722.4" stroke-width="3.3"/>
<line x1="1331.5" y1="712.1" x2="1340" y2="712.1" stroke-width="3.3"/>
<line x1="1331.5" y1="703.4" x2="1340" y2="703.4" stroke-width="3.3"/>
<line x1="1331.5" y1="695.8" x2="1340" y2="695.8" stroke-width="3.3"/>
<line x1="1331.5" y1="689.2" x2="1340" y2="689.2" stroke-width="3.3"/>
<line x1="1409.7" y1="722" x2="1409.7" y2="738" stroke-width="3.3"/>
<line x1="1513.3" y1="722" x2="1513.3" y2="738" stroke-width="3.3"/>
<line x1="1616.6" y1="722" x2="1616.6" y2="738" stroke-width="3.3"/>
<line x1="1720.2" y1="722" x2="1720.2" y2="738" stroke-width="3.3"/>
<line x1="1823.7" y1="722" x2="1823.7" y2="738" stroke-width="3.3"/>
<line x1="1927.0" y1="722" x2="1927.0" y2="738" stroke-width="3.3"/>
<line x1="1410" y1="837.8" x2="1618" y2="837.8" stroke-width="3.3"/>
<line x1="1723" y1="837.8" x2="1930" y2="837.8" stroke-width="3.3"/>
</g>
<g fill="#858585" stroke="#3a3a3a" stroke-width="1.3">
<circle cx="1411.5" cy="507.0" r="4.1"/>
<circle cx="1417.1" cy="511.0" r="4.1"/>
<circle cx="1402.6" cy="515.9" r="4.1"/>
<circle cx="1417.1" cy="519.9" r="4.1"/>
<circle cx="1406.7" cy="526.3" r="4.1"/>
<circle cx="1402.6" cy="533.6" r="4.1"/>
<circle cx="1417.1" cy="533.6" r="4.1"/>
<circle cx="1430.8" cy="537.6" r="4.1"/>
<circle cx="1397.8" cy="542.4" r="4.1"/>
<circle cx="1402.6" cy="542.4" r="4.1"/>
<circle cx="1393.0" cy="546.5" r="4.1"/>
<circle cx="1411.5" cy="542.4" r="4.1"/>
<circle cx="1421.2" cy="545.6" r="4.1"/>
<circle cx="1430.8" cy="546.5" r="4.1"/>
<circle cx="1387.4" cy="552.9" r="4.1"/>
<circle cx="1402.6" cy="552.9" r="4.1"/>
<circle cx="1411.5" cy="552.9" r="4.1"/>
<circle cx="1421.2" cy="552.9" r="4.1"/>
<circle cx="1430.8" cy="552.9" r="4.1"/>
<circle cx="1440.5" cy="552.9" r="4.1"/>
<circle cx="1379.3" cy="552.9" r="4.1"/>
<circle cx="1426.0" cy="559.3" r="4.1"/>
<circle cx="1388.2" cy="565.8" r="4.1"/>
<circle cx="1402.6" cy="565.8" r="4.1"/>
<circle cx="1411.5" cy="565.8" r="4.1"/>
<circle cx="1406.7" cy="581.9" r="4.1"/>
<circle cx="1411.5" cy="581.9" r="4.1"/>
<circle cx="1400.2" cy="591.5" r="4.1"/>
<circle cx="1405.1" cy="591.5" r="4.1"/>
<circle cx="1414.7" cy="591.5" r="4.1"/>
<circle cx="1419.5" cy="591.5" r="4.1"/>
<circle cx="1406.7" cy="604.4" r="4.1"/>
<circle cx="1411.5" cy="604.4" r="4.1"/>
<circle cx="1405.1" cy="620.5" r="4.1"/>
<circle cx="1414.7" cy="620.5" r="4.1"/>
<circle cx="1405.1" cy="643.8" r="4.1"/>
<circle cx="1414.7" cy="643.8" r="4.1"/>
<circle cx="1409.9" cy="684.9" r="4.1"/>
<circle cx="1393.0" cy="556.0" r="4.1"/>
<circle cx="1396.0" cy="549.0" r="4.1"/>
<circle cx="1384.0" cy="549.0" r="4.1"/>
<circle cx="1436.0" cy="549.0" r="4.1"/>
<circle cx="1426.0" cy="549.0" r="4.1"/>
<circle cx="1506.0" cy="169.8" r="4.1"/>
<circle cx="1520.5" cy="173.0" r="4.1"/>
<circle cx="1513.3" cy="215.6" r="4.1"/>
<circle cx="1513.3" cy="269.6" r="4.1"/>
<circle cx="1491.4" cy="281.6" r="4.1"/>
<circle cx="1506.0" cy="284.0" r="4.1"/>
<circle cx="1520.5" cy="281.6" r="4.1"/>
<circle cx="1535.3" cy="281.6" r="4.1"/>
<circle cx="1513.3" cy="331.5" r="4.1"/>
<circle cx="1513.3" cy="351.6" r="4.1"/>
<circle cx="1506.0" cy="360.5" r="4.1"/>
<circle cx="1520.5" cy="360.5" r="4.1"/>
<circle cx="1513.3" cy="389.5" r="4.1"/>
<circle cx="1506.0" cy="404.6" r="4.1"/>
<circle cx="1506.0" cy="412.8" r="4.1"/>
<circle cx="1520.5" cy="412.0" r="4.1"/>
<circle cx="1520.5" cy="422.5" r="4.1"/>
<circle cx="1506.0" cy="428.0" r="4.1"/>
<circle cx="1513.3" cy="440.0" r="4.1"/>
<circle cx="1505.6" cy="451.5" r="4.1"/>
<circle cx="1520.6" cy="450.7" r="4.1"/>
<circle cx="1513.2" cy="464.4" r="4.1"/>
<circle cx="1513.2" cy="474.0" r="4.1"/>
<circle cx="1513.2" cy="489.3" r="4.1"/>
<circle cx="1513.2" cy="498.2" r="4.1"/>
<circle cx="1513.2" cy="507.8" r="4.1"/>
<circle cx="1513.2" cy="523.9" r="4.1"/>
<circle cx="1586.0" cy="199.6" r="4.1"/>
<circle cx="1601.3" cy="202.0" r="4.1"/>
<circle cx="1586.0" cy="208.4" r="4.1"/>
<circle cx="1616.6" cy="206.0" r="4.1"/>
<circle cx="1631.9" cy="206.8" r="4.1"/>
<circle cx="1647.2" cy="208.4" r="4.1"/>
<circle cx="1601.3" cy="215.6" r="4.1"/>
<circle cx="1616.6" cy="214.0" r="4.1"/>
<circle cx="1586.0" cy="223.7" r="4.1"/>
<circle cx="1631.9" cy="219.7" r="4.1"/>
<circle cx="1647.2" cy="220.5" r="4.1"/>
<circle cx="1601.3" cy="226.9" r="4.1"/>
<circle cx="1631.9" cy="228.5" r="4.1"/>
<circle cx="1631.9" cy="236.6" r="4.1"/>
<circle cx="1586.0" cy="240.6" r="4.1"/>
<circle cx="1601.3" cy="240.6" r="4.1"/>
<circle cx="1616.6" cy="238.2" r="4.1"/>
<circle cx="1647.2" cy="243.0" r="4.1"/>
<circle cx="1586.0" cy="251.1" r="4.1"/>
<circle cx="1601.3" cy="253.5" r="4.1"/>
<circle cx="1631.9" cy="247.0" r="4.1"/>
<circle cx="1647.2" cy="252.7" r="4.1"/>
<circle cx="1616.6" cy="259.1" r="4.1"/>
<circle cx="1631.9" cy="259.1" r="4.1"/>
<circle cx="1586.0" cy="265.5" r="4.1"/>
<circle cx="1647.2" cy="262.3" r="4.1"/>
<circle cx="1616.6" cy="268.8" r="4.1"/>
<circle cx="1586.0" cy="273.6" r="4.1"/>
<circle cx="1601.3" cy="273.6" r="4.1"/>
<circle cx="1647.2" cy="273.6" r="4.1"/>
<circle cx="1601.3" cy="282.4" r="4.1"/>
<circle cx="1616.6" cy="277.6" r="4.1"/>
<circle cx="1631.9" cy="277.6" r="4.1"/>
<circle cx="1616.6" cy="287.3" r="4.1"/>
<circle cx="1616.6" cy="298.5" r="4.1"/>
<circle cx="1616.6" cy="313.0" r="4.1"/>
<circle cx="1616.6" cy="321.9" r="4.1"/>
<circle cx="1720.2" cy="434.6" r="4.1"/>
<circle cx="1709.8" cy="451.5" r="4.1"/>
<circle cx="1730.2" cy="446.7" r="4.1"/>
<circle cx="1730.2" cy="454.7" r="4.1"/>
<circle cx="1709.8" cy="461.2" r="4.1"/>
<circle cx="1720.2" cy="466.0" r="4.1"/>
<circle cx="1699.3" cy="469.2" r="4.1"/>
<circle cx="1730.2" cy="474.8" r="4.1"/>
<circle cx="1740.8" cy="470.8" r="4.1"/>
<circle cx="1750.8" cy="473.2" r="4.1"/>
<circle cx="1689.7" cy="482.1" r="4.1"/>
<circle cx="1699.3" cy="480.5" r="4.1"/>
<circle cx="1720.2" cy="483.7" r="4.1"/>
<circle cx="1730.2" cy="483.7" r="4.1"/>
<circle cx="1740.8" cy="479.7" r="4.1"/>
<circle cx="1750.8" cy="481.3" r="4.1"/>
<circle cx="1699.3" cy="493.4" r="4.1"/>
<circle cx="1709.8" cy="493.4" r="4.1"/>
<circle cx="1720.2" cy="493.4" r="4.1"/>
<circle cx="1740.8" cy="490.9" r="4.1"/>
<circle cx="1689.7" cy="495.8" r="4.1"/>
<circle cx="1720.2" cy="501.4" r="4.1"/>
<circle cx="1730.2" cy="498.2" r="4.1"/>
<circle cx="1750.8" cy="498.2" r="4.1"/>
<circle cx="1709.8" cy="503.8" r="4.1"/>
<circle cx="1740.8" cy="502.2" r="4.1"/>
<circle cx="1720.2" cy="509.4" r="4.1"/>
<circle cx="1730.2" cy="507.0" r="4.1"/>
<circle cx="1709.8" cy="515.1" r="4.1"/>
<circle cx="1720.2" cy="520.7" r="4.1"/>
<circle cx="1720.2" cy="528.8" r="4.1"/>
<circle cx="1709.8" cy="533.6" r="4.1"/>
<circle cx="1730.2" cy="536.5" r="4.1"/>
<circle cx="1709.8" cy="543.2" r="4.1"/>
<circle cx="1720.2" cy="542.4" r="4.1"/>
<circle cx="1730.2" cy="545.7" r="4.1"/>
<circle cx="1720.2" cy="559.0" r="4.1"/>
<circle cx="1720.2" cy="615.7" r="4.1"/>
<circle cx="1823.7" cy="437.0" r="4.1"/>
<circle cx="1817.3" cy="449.1" r="4.1"/>
<circle cx="1842.2" cy="448.3" r="4.1"/>
<circle cx="1805.2" cy="454.7" r="4.1"/>
<circle cx="1829.7" cy="460.4" r="4.1"/>
<circle cx="1805.2" cy="463.6" r="4.1"/>
<circle cx="1817.3" cy="465.2" r="4.1"/>
<circle cx="1805.2" cy="470.8" r="4.1"/>
<circle cx="1817.3" cy="473.2" r="4.1"/>
<circle cx="1829.7" cy="469.2" r="4.1"/>
<circle cx="1842.2" cy="470.0" r="4.1"/>
<circle cx="1817.3" cy="482.1" r="4.1"/>
<circle cx="1842.2" cy="482.1" r="4.1"/>
<circle cx="1817.3" cy="488.5" r="4.1"/>
<circle cx="1829.7" cy="488.5" r="4.1"/>
<circle cx="1805.2" cy="491.7" r="4.1"/>
<circle cx="1842.2" cy="490.1" r="4.1"/>
<circle cx="1829.7" cy="496.6" r="4.1"/>
<circle cx="1805.2" cy="499.8" r="4.1"/>
<circle cx="1842.2" cy="498.2" r="4.1"/>
<circle cx="1829.7" cy="503.8" r="4.1"/>
<circle cx="1805.2" cy="509.4" r="4.1"/>
<circle cx="1817.3" cy="510.3" r="4.1"/>
<circle cx="1842.2" cy="511.9" r="4.1"/>
<circle cx="1829.7" cy="513.5" r="4.1"/>
<circle cx="1793.5" cy="520.7" r="4.1"/>
<circle cx="1805.2" cy="519.9" r="4.1"/>
<circle cx="1853.8" cy="519.1" r="4.1"/>
<circle cx="1817.3" cy="524.7" r="4.1"/>
<circle cx="1829.7" cy="523.1" r="4.1"/>
<circle cx="1842.2" cy="523.1" r="4.1"/>
<circle cx="1853.8" cy="535.2" r="4.1"/>
<circle cx="1805.2" cy="542.4" r="4.1"/>
<circle cx="1817.3" cy="542.4" r="4.1"/>
<circle cx="1829.7" cy="541.6" r="4.1"/>
<circle cx="1842.2" cy="540.0" r="4.1"/>
<circle cx="1829.7" cy="548.9" r="4.1"/>
<circle cx="1842.2" cy="547.3" r="4.1"/>
<circle cx="1817.3" cy="550.5" r="4.1"/>
<circle cx="1805.2" cy="552.1" r="4.1"/>
<circle cx="1817.3" cy="559.3" r="4.1"/>
<circle cx="1842.2" cy="556.1" r="4.1"/>
<circle cx="1829.7" cy="563.4" r="4.1"/>
<circle cx="1823.7" cy="605.2" r="4.1"/>
<circle cx="1927.0" cy="382.0" r="4.1"/>
<circle cx="1937.2" cy="439.4" r="4.1"/>
<circle cx="1927.0" cy="444.3" r="4.1"/>
<circle cx="1937.2" cy="453.1" r="4.1"/>
<circle cx="1927.0" cy="455.5" r="4.1"/>
<circle cx="1896.5" cy="462.8" r="4.1"/>
<circle cx="1906.1" cy="464.4" r="4.1"/>
<circle cx="1916.6" cy="465.2" r="4.1"/>
<circle cx="1927.0" cy="466.0" r="4.1"/>
<circle cx="1937.2" cy="466.8" r="4.1"/>
<circle cx="1948.0" cy="464.4" r="4.1"/>
<circle cx="1958.4" cy="459.6" r="4.1"/>
<circle cx="1958.4" cy="466.8" r="4.1"/>
<circle cx="1927.0" cy="470.0" r="4.1"/>
<circle cx="1916.6" cy="476.5" r="4.1"/>
<circle cx="1937.2" cy="479.7" r="4.1"/>
<circle cx="1906.1" cy="484.5" r="4.1"/>
<circle cx="1927.0" cy="487.7" r="4.1"/>
<circle cx="1916.6" cy="491.7" r="4.1"/>
<circle cx="1937.2" cy="491.7" r="4.1"/>
<circle cx="1906.1" cy="503.0" r="4.1"/>
<circle cx="1937.2" cy="502.2" r="4.1"/>
<circle cx="1916.6" cy="507.0" r="4.1"/>
<circle cx="1927.0" cy="509.4" r="4.1"/>
<circle cx="1937.2" cy="509.4" r="4.1"/>
<circle cx="1916.6" cy="516.7" r="4.1"/>
<circle cx="1927.0" cy="518.3" r="4.1"/>
<circle cx="1937.2" cy="520.4" r="4.1"/>
<circle cx="1916.6" cy="524.7" r="4.1"/>
<circle cx="1906.1" cy="532.0" r="4.1"/>
<circle cx="1927.0" cy="530.4" r="4.1"/>
<circle cx="1937.2" cy="529.6" r="4.1"/>
<circle cx="1948.0" cy="535.2" r="4.1"/>
</g>
<g stroke="#000" fill="none" stroke-linecap="round">
<line x1="1409.8" y1="508.1" x2="1409.8" y2="548.9" stroke-width="3.2" stroke-linecap="butt"/>
<line x1="1409.8" y1="590" x2="1409.8" y2="682.9" stroke-width="3.2" stroke-linecap="butt"/>
<line x1="1391.5" y1="508.1" x2="1428.1" y2="508.1" stroke-width="3.4"/>
<line x1="1391.5" y1="682.9" x2="1428.1" y2="682.9" stroke-width="3.4"/>
<rect x="1377.1" y="548.9" width="65.4" height="41.1" stroke-width="3.6" stroke-linecap="butt"/>
<line x1="1374.1" y1="559" x2="1445.5" y2="559" stroke-width="3.4"/>
<line x1="1513.3" y1="170.1" x2="1513.3" y2="284" stroke-width="3.2" stroke-linecap="butt"/>
<line x1="1513.3" y1="449.6" x2="1513.3" y2="523.1" stroke-width="3.2" stroke-linecap="butt"/>
<line x1="1495.0" y1="170.1" x2="1531.6" y2="170.1" stroke-width="3.4"/>
<line x1="1495.0" y1="523.1" x2="1531.6" y2="523.1" stroke-width="3.4"/>
<rect x="1480.6" y="284" width="65.4" height="165.6" stroke-width="3.6" stroke-linecap="butt"/>
<line x1="1477.6" y1="404.8" x2="1549.0" y2="404.8" stroke-width="3.4"/>
<line x1="1616.8" y1="199.4" x2="1616.8" y2="222.6" stroke-width="3.2" stroke-linecap="butt"/>
<line x1="1616.8" y1="271.2" x2="1616.8" y2="321.4" stroke-width="3.2" stroke-linecap="butt"/>
<line x1="1598.5" y1="199.4" x2="1635.1" y2="199.4" stroke-width="3.4"/>
<line x1="1598.5" y1="321.4" x2="1635.1" y2="321.4" stroke-width="3.4"/>
<rect x="1584.1" y="222.6" width="65.4" height="48.6" stroke-width="3.6" stroke-linecap="butt"/>
<line x1="1581.1" y1="248.2" x2="1652.5" y2="248.2" stroke-width="3.4"/>
<line x1="1720.4" y1="436.7" x2="1720.4" y2="477.3" stroke-width="3.2" stroke-linecap="butt"/>
<line x1="1720.4" y1="513.1" x2="1720.4" y2="614.9" stroke-width="3.2" stroke-linecap="butt"/>
<line x1="1702.1000000000001" y1="436.7" x2="1738.7" y2="436.7" stroke-width="3.4"/>
<line x1="1702.1000000000001" y1="614.9" x2="1738.7" y2="614.9" stroke-width="3.4"/>
<rect x="1687.7" y="477.3" width="65.4" height="35.8" stroke-width="3.6" stroke-linecap="butt"/>
<line x1="1684.7" y1="493.8" x2="1756.1" y2="493.8" stroke-width="3.4"/>
<line x1="1823.8" y1="437.8" x2="1823.8" y2="478.9" stroke-width="3.2" stroke-linecap="butt"/>
<line x1="1823.8" y1="538.4" x2="1823.8" y2="604.7" stroke-width="3.2" stroke-linecap="butt"/>
<line x1="1805.5" y1="437.8" x2="1842.1" y2="437.8" stroke-width="3.4"/>
<line x1="1805.5" y1="604.7" x2="1842.1" y2="604.7" stroke-width="3.4"/>
<rect x="1791.1" y="478.9" width="65.4" height="59.5" stroke-width="3.6" stroke-linecap="butt"/>
<line x1="1788.1" y1="509.1" x2="1859.5" y2="509.1" stroke-width="3.4"/>
<line x1="1927.2" y1="381.9" x2="1927.2" y2="466" stroke-width="3.2" stroke-linecap="butt"/>
<line x1="1927.2" y1="513.1" x2="1927.2" y2="535.2" stroke-width="3.2" stroke-linecap="butt"/>
<line x1="1908.9" y1="381.9" x2="1945.5" y2="381.9" stroke-width="3.4"/>
<line x1="1908.9" y1="535.2" x2="1945.5" y2="535.2" stroke-width="3.4"/>
<rect x="1894.5" y="466" width="65.4" height="47.1" stroke-width="3.6" stroke-linecap="butt"/>
<line x1="1891.5" y1="486.6" x2="1962.9" y2="486.6" stroke-width="3.4"/>
</g>
<g stroke="#000" fill="none" stroke-width="5.4" stroke-linecap="round" stroke-linejoin="miter">
<polyline points="1410,106 1410,41 1720.3,41 1720.3,106"/>
<polyline points="1410,487.7 1410,126.8 1616.8,126.8 1616.8,179"/>
<polyline points="1720.5,415 1720.5,126.9 1927.1,126.9 1927.1,361"/>
</g>
<text transform="translate(1568.77,36.05) scale(0.9907,1.0476)" font-size="44" font-weight="bold" text-anchor="middle" style="font-family:'DejaVu Sans', sans-serif;letter-spacing:5.3px">****</text>
<text transform="translate(1517.10,120.70) scale(0.9966,1.0590)" font-size="44" font-weight="bold" text-anchor="middle" style="font-family:'DejaVu Sans', sans-serif;letter-spacing:5.3px">****</text>
<text transform="translate(1824.03,110.00) scale(0.9681,0.9447)" font-size="32" font-weight="normal" text-anchor="middle">ns</text>
<text transform="translate(1133.00,47.98) scale(1.0000,0.9452)" font-size="48" font-weight="bold" text-anchor="start">b</text>
<text transform="translate(1246.84,692.97) scale(1.0596,0.9651)" font-size="25.7" font-weight="bold" text-anchor="start">1×10<tspan dx="3" dy="-9" font-size="17.5" font-weight="normal">3</tspan></text>
<text transform="translate(1246.84,562.62) scale(1.0598,0.9587)" font-size="25.7" font-weight="bold" text-anchor="start">1×10<tspan dx="3" dy="-9" font-size="17.5" font-weight="normal">4</tspan></text>
<text transform="translate(1246.84,432.35) scale(1.0596,0.9608)" font-size="25.7" font-weight="bold" text-anchor="start">1×10<tspan dx="3" dy="-9" font-size="17.5" font-weight="normal">5</tspan></text>
<text transform="translate(1246.84,302.06) scale(1.0596,0.9608)" font-size="25.7" font-weight="bold" text-anchor="start">1×10<tspan dx="3" dy="-9" font-size="17.5" font-weight="normal">6</tspan></text>
<text transform="translate(1246.84,171.71) scale(1.0596,0.9545)" font-size="25.7" font-weight="bold" text-anchor="start">1×10<tspan dx="3" dy="-9" font-size="17.5" font-weight="normal">7</tspan></text>
<text transform="translate(1233.73,441.80) rotate(-90) scale(0.9876,1.0059)" font-size="31" font-weight="bold" text-anchor="middle">Young's modulus (Pa)</text>
<text transform="translate(1419.0,763) rotate(-45)" x="0" y="0" font-size="27.5" font-weight="bold" text-anchor="end">2 hr</text>
<text transform="translate(1522.6,763) rotate(-45)" x="0" y="0" font-size="27.5" font-weight="bold" text-anchor="end">24 hr</text>
<text transform="translate(1625.9,763) rotate(-45)" x="0" y="0" font-size="27.5" font-weight="bold" text-anchor="end">48 hr</text>
<text transform="translate(1729.5,763) rotate(-45)" x="0" y="0" font-size="27.5" font-weight="bold" text-anchor="end">2 hr</text>
<text transform="translate(1833.0,763) rotate(-45)" x="0" y="0" font-size="27.5" font-weight="bold" text-anchor="end">24 hr</text>
<text transform="translate(1936.3,763) rotate(-45)" x="0" y="0" font-size="27.5" font-weight="bold" text-anchor="end">48 hr</text>
<text transform="translate(1513.30,892.60) scale(1.0195,1.0000)" font-size="27.5" font-weight="bold" text-anchor="middle">FUS</text>
<text transform="translate(1826.49,892.60) scale(1.0156,1.0000)" font-size="27.5" font-weight="bold" text-anchor="middle">FUS + DNAJB6</text>
<g stroke="#000" stroke-width="3.3" stroke-linecap="round" fill="none">
<line x1="323.6" y1="1105.5" x2="323.6" y2="1472" stroke-linecap="butt"/>
<line x1="308" y1="1472" x2="871" y2="1472"/>
<line x1="309" y1="1472.2" x2="323" y2="1472.2"/>
<line x1="309" y1="1399.2" x2="323" y2="1399.2"/>
<line x1="309" y1="1326.2" x2="323" y2="1326.2"/>
<line x1="309" y1="1253.2" x2="323" y2="1253.2"/>
<line x1="309" y1="1180.2" x2="323" y2="1180.2"/>
<line x1="309" y1="1107.2" x2="323" y2="1107.2"/>
<line x1="323.6" y1="1472" x2="323.6" y2="1487"/>
<line x1="423.0" y1="1472" x2="423.0" y2="1487"/>
<line x1="522.4" y1="1472" x2="522.4" y2="1487"/>
<line x1="621.8" y1="1472" x2="621.8" y2="1487"/>
<line x1="721.2" y1="1472" x2="721.2" y2="1487"/>
<line x1="820.6" y1="1472" x2="820.6" y2="1487"/>
<line x1="373.3" y1="1472" x2="373.3" y2="1480"/>
<line x1="472.7" y1="1472" x2="472.7" y2="1480"/>
<line x1="572.1" y1="1472" x2="572.1" y2="1480"/>
<line x1="671.5" y1="1472" x2="671.5" y2="1480"/>
<line x1="770.9" y1="1472" x2="770.9" y2="1480"/>
</g>
<g stroke="#000" stroke-width="3.3" stroke-linecap="round" fill="none">
<line x1="1200.5" y1="1105.5" x2="1200.5" y2="1471.5" stroke-linecap="butt"/>
<line x1="1200.5" y1="1471.5" x2="1749" y2="1471.5"/>
<line x1="1186" y1="1471.7" x2="1200" y2="1471.7"/>
<line x1="1186" y1="1398.7" x2="1200" y2="1398.7"/>
<line x1="1186" y1="1325.7" x2="1200" y2="1325.7"/>
<line x1="1186" y1="1252.7" x2="1200" y2="1252.7"/>
<line x1="1186" y1="1179.7" x2="1200" y2="1179.7"/>
<line x1="1186" y1="1106.7" x2="1200" y2="1106.7"/>
<line x1="1296.1" y1="1471.5" x2="1296.1" y2="1487"/>
<line x1="1428.7" y1="1471.5" x2="1428.7" y2="1487"/>
<line x1="1561.3" y1="1471.5" x2="1561.3" y2="1487"/>
<line x1="1694.0" y1="1471.5" x2="1694.0" y2="1487"/>
<line x1="1229.8" y1="1471.5" x2="1229.8" y2="1480"/>
<line x1="1362.4" y1="1471.5" x2="1362.4" y2="1480"/>
<line x1="1495.0" y1="1471.5" x2="1495.0" y2="1480"/>
<line x1="1627.7" y1="1471.5" x2="1627.7" y2="1480"/>
</g>
<line x1="1402.8" y1="1156" x2="1402.8" y2="1470" stroke="#a6a6a6" stroke-width="3" stroke-dasharray="9.5,5"/>
<line x1="1558.0" y1="1156" x2="1558.0" y2="1470" stroke="#a6a6a6" stroke-width="3" stroke-dasharray="9.5,5"/>
<path d="M322.9,1470.6C332.3,1470.5 365.6,1470.5 378.9,1469.6C392.1,1468.8 396.8,1466.5 402.4,1465.7C408.0,1465.0 408.0,1465.9 412.2,1465.1C416.5,1464.3 423.7,1462.8 427.9,1460.8C432.2,1458.8 434.4,1457.9 437.7,1453.0C441.0,1448.1 444.6,1440.2 447.5,1431.4C450.5,1422.5 453.1,1411.1 455.4,1400.0C457.7,1388.9 458.3,1381.7 461.3,1364.7C464.2,1347.7 469.1,1320.9 473.0,1298.0C477.0,1275.1 480.9,1248.9 484.8,1227.3C488.7,1205.8 493.0,1185.2 496.6,1168.5C500.2,1151.8 503.6,1136.8 506.4,1127.3C509.2,1117.8 511.6,1114.6 513.3,1111.6C514.9,1108.5 514.7,1109.0 516.2,1109.0C517.7,1109.0 518.8,1108.2 522.1,1111.6C525.3,1114.9 532.5,1123.7 535.8,1129.2C539.1,1134.8 539.4,1136.1 541.7,1144.9C544.0,1153.8 546.9,1167.5 549.5,1182.2C552.2,1196.9 554.8,1216.2 557.4,1233.2C560.0,1250.2 562.6,1268.2 565.2,1284.2C567.9,1300.3 570.5,1317.3 573.1,1329.4C575.7,1341.5 578.3,1350.9 580.9,1356.8C583.6,1362.7 586.5,1363.0 588.8,1364.7C591.1,1366.3 592.4,1366.6 594.7,1366.6C597.0,1366.6 601.6,1364.8 602.5,1364.7C603.4,1364.6 599.3,1366.4 600.0,1366.0C600.7,1365.6 604.0,1366.4 607.0,1362.5C610.0,1358.7 614.6,1349.3 618.1,1343.0C621.6,1336.7 624.6,1332.1 627.9,1324.9C631.2,1317.6 634.9,1307.6 637.7,1299.7C640.5,1291.8 642.3,1283.7 644.6,1277.4C647.0,1271.1 649.3,1266.2 651.6,1262.1C653.9,1258.0 656.3,1254.6 658.6,1253.0C660.9,1251.4 663.5,1251.5 665.6,1252.3C667.7,1253.1 669.3,1255.6 671.1,1257.9C673.0,1260.2 674.6,1262.8 676.7,1266.3C678.8,1269.8 681.6,1274.4 683.7,1278.8C685.8,1283.2 687.2,1288.8 689.3,1292.8C691.4,1296.7 694.4,1299.0 696.2,1302.5C698.1,1306.0 698.8,1308.1 700.4,1313.7C702.1,1319.3 704.2,1328.6 706.0,1336.0C707.9,1343.5 709.5,1351.1 711.6,1358.3C713.7,1365.5 716.2,1372.7 718.6,1379.3C720.9,1385.8 723.2,1391.6 725.5,1397.4C727.9,1403.2 730.2,1410.1 732.5,1414.1C734.8,1418.2 736.9,1419.7 739.5,1421.8C742.0,1423.9 745.5,1426.3 747.9,1426.7C750.2,1427.0 751.3,1425.3 753.4,1423.9C755.5,1422.5 757.6,1419.9 760.4,1418.3C763.2,1416.7 767.2,1416.5 770.2,1414.1C773.2,1411.8 776.2,1406.1 778.5,1404.4C780.9,1402.6 782.0,1403.5 784.1,1403.7C786.2,1403.8 788.3,1404.2 791.1,1405.1C793.9,1405.9 797.6,1407.2 800.9,1408.5C804.1,1409.9 807.8,1412.7 810.6,1413.4C813.4,1414.1 815.3,1413.5 817.6,1412.7C819.9,1411.9 822.0,1410.3 824.6,1408.5C827.1,1406.8 829.9,1403.7 832.9,1402.3C836.0,1400.8 839.5,1400.5 842.7,1399.9C846.0,1399.3 850.8,1399.0 852.5,1398.8" fill="none" stroke="#FD9636" stroke-width="2.3" stroke-linejoin="round" stroke-linecap="round"/>
<path d="M322.9,1470.6C331.0,1470.5 359.1,1470.4 371.0,1469.6C382.9,1468.9 389.3,1466.6 394.6,1466.3C399.8,1466.0 399.8,1468.1 402.4,1467.7C405.0,1467.2 406.3,1464.7 410.2,1463.7C414.2,1462.8 421.4,1463.3 425.9,1461.8C430.5,1460.3 434.1,1459.3 437.7,1454.9C441.3,1450.5 444.6,1443.8 447.5,1435.3C450.5,1426.8 453.1,1415.0 455.4,1403.9C457.7,1392.8 458.3,1385.9 461.3,1368.6C464.2,1351.3 469.1,1322.8 473.0,1299.9C477.0,1277.0 480.9,1252.5 484.8,1231.3C488.7,1210.0 493.0,1189.4 496.6,1172.4C500.2,1155.4 503.6,1139.0 506.4,1129.2C509.2,1119.4 511.6,1117.0 513.3,1113.5C514.9,1110.1 515.0,1109.0 516.2,1108.6C517.3,1108.3 518.2,1108.8 520.1,1111.6C522.1,1114.4 525.3,1120.7 528.0,1125.3C530.6,1129.9 533.5,1134.1 535.8,1139.0C538.1,1144.0 539.4,1146.6 541.7,1154.7C544.0,1162.9 546.9,1174.4 549.5,1188.1C552.2,1201.8 554.8,1220.8 557.4,1237.1C560.0,1253.5 562.6,1270.5 565.2,1286.2C567.9,1301.9 570.5,1319.2 573.1,1331.3C575.7,1343.4 578.3,1352.9 580.9,1358.8C583.6,1364.7 586.5,1365.0 588.8,1366.6C591.1,1368.3 592.4,1368.8 594.7,1368.6C597.0,1368.4 601.6,1365.9 602.5,1365.7C603.4,1365.5 599.3,1367.9 600.0,1367.4C600.7,1366.9 604.0,1365.9 607.0,1362.5C610.0,1359.1 614.6,1352.8 618.1,1347.2C621.6,1341.6 624.6,1336.2 627.9,1329.0C631.2,1321.8 634.9,1311.4 637.7,1303.9C640.5,1296.5 642.3,1290.4 644.6,1284.4C647.0,1278.4 649.3,1272.1 651.6,1267.7C653.9,1263.2 656.5,1260.5 658.6,1257.9C660.7,1255.3 662.3,1252.7 664.2,1252.3C666.0,1252.0 667.7,1253.7 669.7,1255.8C671.8,1257.9 674.4,1261.7 676.7,1264.9C679.0,1268.0 681.6,1270.9 683.7,1274.6C685.8,1278.4 687.2,1283.9 689.3,1287.2C691.4,1290.4 694.2,1290.7 696.2,1294.2C698.3,1297.7 700.0,1302.5 701.8,1308.1C703.7,1313.7 705.5,1320.9 707.4,1327.6C709.3,1334.4 711.1,1341.8 713.0,1348.6C714.8,1355.3 716.5,1362.3 718.6,1368.1C720.7,1373.9 723.2,1378.8 725.5,1383.4C727.9,1388.1 730.2,1392.7 732.5,1396.0C734.8,1399.2 737.4,1402.2 739.5,1403.0C741.6,1403.8 743.0,1402.7 745.1,1400.9C747.2,1399.0 749.7,1395.6 752.0,1391.8C754.4,1388.0 756.7,1381.6 759.0,1377.9C761.3,1374.1 763.7,1372.3 766.0,1369.5C768.3,1366.7 770.9,1363.3 773.0,1361.1C775.1,1358.9 776.5,1356.5 778.5,1356.2C780.6,1356.0 783.2,1358.8 785.5,1359.7C787.8,1360.7 790.2,1361.5 792.5,1361.8C794.8,1362.2 796.9,1361.4 799.5,1361.8C802.0,1362.3 805.0,1364.5 807.8,1364.6C810.6,1364.7 813.2,1364.1 816.2,1362.5C819.2,1360.9 822.7,1356.8 826.0,1354.8C829.2,1352.9 832.5,1351.6 835.7,1350.7C839.0,1349.7 842.7,1349.3 845.5,1349.3C848.3,1349.3 851.3,1350.4 852.5,1350.7" fill="none" stroke="#FC7B7B" stroke-width="2.3" stroke-linejoin="round" stroke-linecap="round"/>
<path d="M322.9,1470.6C331.0,1470.3 360.1,1469.6 371.0,1468.7C382.0,1467.7 382.1,1466.6 388.7,1465.1C395.2,1463.7 404.7,1461.5 410.2,1459.8C415.8,1458.1 418.4,1456.4 422.0,1454.9C425.6,1453.4 428.6,1453.9 431.8,1451.0C435.1,1448.1 438.4,1443.5 441.6,1437.3C444.9,1431.1 448.2,1425.2 451.4,1413.7C454.7,1402.3 457.7,1388.2 461.3,1368.6C464.9,1349.0 469.1,1319.5 473.0,1296.0C477.0,1272.5 480.9,1249.2 484.8,1227.3C488.7,1205.4 493.0,1181.9 496.6,1164.6C500.2,1147.2 503.6,1132.7 506.4,1123.4C509.2,1114.0 510.3,1111.1 513.3,1108.6C516.2,1106.2 520.3,1106.8 524.0,1108.6C527.8,1110.4 532.2,1112.7 535.8,1119.4C539.4,1126.1 542.4,1136.8 545.6,1148.9C548.9,1161.0 552.2,1174.0 555.4,1192.0C558.7,1210.0 562.0,1236.8 565.2,1256.8C568.5,1276.7 571.8,1296.3 575.1,1311.7C578.3,1327.1 580.3,1340.3 584.9,1349.0C589.4,1357.6 600.0,1361.3 602.5,1363.7C605.0,1366.1 599.5,1363.1 600.0,1363.2C600.5,1363.4 602.8,1365.3 605.6,1364.6C608.4,1363.9 613.0,1362.4 616.7,1359.0C620.5,1355.7 624.4,1349.6 627.9,1344.4C631.4,1339.2 635.3,1331.1 637.7,1327.6C640.0,1324.2 640.0,1327.2 641.8,1323.5C643.7,1319.7 646.5,1310.3 648.8,1305.3C651.1,1300.3 653.9,1295.7 655.8,1293.5C657.7,1291.3 658.4,1292.0 660.0,1292.1C661.6,1292.2 663.7,1293.4 665.6,1294.2C667.4,1295.0 669.0,1294.9 671.1,1297.0C673.2,1299.0 676.0,1303.7 678.1,1306.7C680.2,1309.7 681.8,1312.1 683.7,1315.1C685.6,1318.1 687.4,1322.5 689.3,1324.9C691.1,1327.2 693.2,1327.2 694.9,1329.0C696.5,1330.9 697.4,1331.6 699.0,1336.0C700.7,1340.4 702.5,1348.6 704.6,1355.5C706.7,1362.5 709.3,1371.6 711.6,1377.9C713.9,1384.1 716.2,1388.8 718.6,1393.2C720.9,1397.6 723.2,1401.3 725.5,1404.4C727.9,1407.4 730.4,1409.7 732.5,1411.3C734.6,1413.0 736.0,1414.1 738.1,1414.1C740.2,1414.1 742.7,1413.4 745.1,1411.3C747.4,1409.2 749.7,1405.1 752.0,1401.6C754.4,1398.1 756.7,1393.9 759.0,1390.4C761.3,1386.9 763.7,1383.1 766.0,1380.6C768.3,1378.2 770.6,1377.0 773.0,1375.8C775.3,1374.5 777.6,1373.0 779.9,1373.0C782.3,1373.0 784.4,1375.3 786.9,1375.8C789.5,1376.2 792.3,1375.4 795.3,1375.8C798.3,1376.1 802.0,1378.2 805.0,1377.9C808.1,1377.5 810.4,1375.5 813.4,1373.7C816.4,1371.8 819.7,1369.3 823.2,1366.7C826.7,1364.1 831.1,1360.1 834.3,1358.3C837.6,1356.6 839.7,1356.4 842.7,1356.2C845.7,1356.1 850.8,1357.4 852.5,1357.6" fill="none" stroke="#9B5BCB" stroke-width="2.3" stroke-linejoin="round" stroke-linecap="round"/>
<polyline points="1200.0,1259.7 1204.5,1253.7 1209.8,1258.2 1214.3,1267.9 1219.5,1264.9 1224.8,1246.1 1230.0,1213.1 1234.6,1187.6 1239.1,1186.1 1245.1,1217.6 1249.6,1255.2 1255.6,1295.7 1260.1,1307.7 1264.6,1303.2 1270.6,1289.7 1275.1,1276.2 1281.1,1266.4 1285.6,1265.7 1290.9,1267.2 1296.1,1274.7 1301.4,1278.4 1306.7,1274.7 1311.2,1261.2 1316.4,1243.1 1320.9,1224.4 1326.9,1216.8 1332.2,1225.1 1336.7,1246.1 1342.7,1277.7 1348.0,1300.2 1351.7,1318.2 1357.0,1339.3 1362.2,1363.3 1367.5,1390.3 1372.8,1415.9 1378.0,1417.4 1382.5,1397.9 1387.8,1360.3 1393.0,1316.7 1398.3,1303.2 1402.8,1330.3 1408.1,1360.3 1413.3,1387.3 1418.6,1375.3 1423.8,1340.8 1429.1,1295.7 1434.3,1277.7 1439.6,1270.2 1444.1,1269.4 1449.4,1264.2 1454.6,1258.2 1459.9,1252.1 1465.1,1253.7 1470.4,1256.7 1475.3,1261.9 1480.5,1274.7 1485.8,1298.7 1491.0,1337.8 1495.5,1375.3 1500.8,1406.9 1506.1,1402.4 1510.6,1375.3 1515.1,1330.3 1521.1,1300.2 1526.3,1292.7 1531.6,1300.2 1536.1,1316.7 1541.4,1337.8 1546.6,1360.3 1551.1,1381.3 1557.1,1384.3 1562.4,1363.3 1566.1,1330.3 1570.6,1285.2 1575.2,1240.1 1578.9,1210.1 1582.7,1184.6 1587.9,1174.0 1593.2,1186.1 1597.7,1202.6 1602.9,1221.4 1608.2,1221.4 1613.5,1205.6 1618.0,1187.6 1622.5,1172.5 1626.2,1160.5 1630.0,1150.0 1635.2,1142.5 1641.2,1145.5 1648.8,1157.5 1654.8,1169.5 1660.0,1178.5 1665.3,1183.8 1669.8,1183.0 1674.3,1177.0 1680.3,1166.5 1684.8,1162.0 1690.1,1163.5 1695.3,1175.5 1699.8,1190.6 1704.3,1205.6 1710.3,1222.1 1715.6,1227.4 1720.9,1228.1 1726.1,1227.4 1731.4,1228.9 1737.4,1231.1 1742.6,1232.6 1747.6,1231.9" fill="none" stroke="#FD9636" stroke-width="2.0" stroke-linejoin="round" stroke-linecap="round"/>
<polyline points="1200.0,1274.7 1206.0,1264.2 1213.5,1238.6 1224.0,1186.1 1229.3,1172.5 1234.6,1183.0 1239.1,1217.6 1243.6,1282.2 1249.6,1330.3 1255.6,1337.0 1261.6,1292.7 1266.1,1247.6 1270.6,1217.6 1275.9,1212.3 1281.1,1234.1 1285.6,1264.2 1290.9,1291.2 1296.1,1298.7 1301.4,1289.7 1306.7,1276.2 1311.9,1267.9 1316.4,1267.9 1321.7,1277.7 1326.2,1286.7 1331.4,1298.0 1335.9,1302.5 1342.0,1307.0 1347.2,1315.2 1351.7,1330.3 1357.0,1354.3 1362.2,1379.8 1367.5,1397.9 1372.8,1396.4 1377.3,1381.3 1382.5,1363.3 1387.8,1358.1 1393.0,1367.8 1396.8,1382.8 1402.0,1403.9 1403.5,1407.6 1408.8,1403.9 1413.3,1378.3 1417.8,1337.8 1423.8,1292.7 1429.1,1255.2 1433.6,1240.1 1438.8,1235.6 1444.1,1238.6 1449.4,1243.9 1454.6,1243.9 1459.9,1237.1 1465.1,1230.4 1470.4,1233.4 1476.0,1255.2 1480.5,1300.2 1485.0,1345.3 1489.5,1387.3 1495.5,1417.4 1500.8,1418.1 1506.1,1390.3 1510.6,1360.3 1515.1,1327.3 1521.1,1301.7 1526.3,1291.2 1531.6,1287.4 1536.8,1292.7 1541.4,1304.7 1546.6,1321.2 1551.1,1337.0 1557.1,1341.5 1561.6,1324.3 1566.1,1294.2 1570.6,1255.2 1575.2,1217.6 1577.4,1195.1 1582.7,1176.3 1587.2,1180.0 1593.2,1199.6 1597.7,1214.6 1602.2,1214.6 1608.2,1198.1 1612.7,1184.6 1618.0,1174.0 1624.7,1167.3 1633.7,1165.0 1642.8,1166.5 1650.3,1168.8 1657.8,1168.8 1665.3,1165.0 1671.3,1162.8 1675.0,1163.5 1680.3,1172.5 1686.3,1189.1 1692.3,1210.1 1696.8,1223.6 1700.6,1231.9 1705.8,1235.6 1711.1,1231.9 1716.4,1219.1 1720.9,1213.1 1726.1,1207.8 1730.6,1209.3 1735.9,1217.6 1740.4,1228.1 1747.6,1246.1" fill="none" stroke="#FC7B7B" stroke-width="2.0" stroke-linejoin="round" stroke-linecap="round"/>
<polyline points="1200.0,1286.7 1203.8,1294.2 1209.0,1295.0 1214.3,1285.9 1218.8,1270.2 1224.0,1243.1 1229.3,1217.6 1234.6,1195.1 1239.8,1183.0 1245.1,1189.1 1250.3,1210.1 1255.6,1237.1 1260.1,1264.2 1264.6,1282.2 1269.9,1289.0 1276.6,1283.7 1281.1,1276.2 1285.6,1268.7 1290.9,1265.7 1296.1,1267.2 1301.4,1269.4 1306.7,1270.2 1311.2,1270.2 1316.4,1272.4 1320.9,1277.7 1326.2,1288.2 1331.4,1301.7 1335.9,1315.2 1342.0,1323.5 1347.2,1325.8 1351.7,1324.3 1357.0,1325.0 1362.2,1334.8 1367.5,1351.3 1372.8,1372.3 1378.0,1394.9 1383.3,1408.4 1388.5,1402.4 1393.0,1378.3 1398.3,1345.3 1402.8,1307.7 1408.1,1273.2 1413.3,1261.9 1418.6,1268.7 1423.8,1282.2 1429.1,1294.2 1434.3,1295.0 1438.8,1285.2 1444.1,1271.7 1449.4,1260.4 1453.9,1259.7 1459.9,1268.7 1465.1,1282.2 1470.4,1301.7 1474.9,1324.3 1475.3,1322.8 1480.5,1337.8 1485.8,1346.8 1491.0,1349.8 1496.3,1345.3 1501.5,1339.3 1506.1,1335.5 1510.6,1333.0 1515.8,1334.8 1521.1,1337.0 1526.3,1339.0 1531.6,1337.0 1536.8,1331.8 1542.1,1324.3 1547.4,1316.7 1552.6,1309.2 1557.9,1304.0 1563.1,1300.2 1568.4,1295.7 1573.7,1288.2 1578.2,1277.7 1582.7,1264.2 1587.2,1244.6 1591.7,1222.1 1596.2,1201.1 1599.2,1189.1 1602.9,1177.0 1608.2,1173.3 1613.5,1180.0 1618.7,1189.1 1624.0,1198.1 1629.2,1201.8 1633.7,1201.1 1639.7,1195.8 1645.8,1189.1 1651.8,1183.8 1659.3,1179.3 1666.8,1177.0 1672.8,1179.3 1678.8,1184.6 1684.8,1189.8 1690.8,1193.6 1696.8,1198.1 1702.8,1204.1 1708.8,1213.1 1714.1,1222.1 1719.4,1228.1 1725.4,1231.1 1731.4,1228.1 1737.4,1222.1 1742.6,1217.6 1747.6,1215.3" fill="none" stroke="#9B5BCB" stroke-width="2.0" stroke-linejoin="round" stroke-linecap="round"/>
<text transform="translate(303.90,1482.70) scale(0.9831,1.0653)" font-size="27.5" font-weight="bold" text-anchor="end">0.0</text>
<text transform="translate(303.90,1409.70) scale(0.9831,1.0653)" font-size="27.5" font-weight="bold" text-anchor="end">0.2</text>
<text transform="translate(303.90,1336.70) scale(0.9831,1.0653)" font-size="27.5" font-weight="bold" text-anchor="end">0.4</text>
<text transform="translate(303.90,1263.70) scale(0.9831,1.0653)" font-size="27.5" font-weight="bold" text-anchor="end">0.6</text>
<text transform="translate(303.90,1190.70) scale(0.9831,1.0653)" font-size="27.5" font-weight="bold" text-anchor="end">0.8</text>
<text transform="translate(303.90,1117.70) scale(0.9831,1.0653)" font-size="27.5" font-weight="bold" text-anchor="end">1.0</text>
<text transform="translate(323.40,1518.09) scale(1.0072,1.0436)" font-size="27.5" font-weight="bold" text-anchor="middle">1800</text>
<text transform="translate(422.80,1518.09) scale(1.0072,1.0436)" font-size="27.5" font-weight="bold" text-anchor="middle">1725</text>
<text transform="translate(522.19,1518.09) scale(1.0072,1.0436)" font-size="27.5" font-weight="bold" text-anchor="middle">1650</text>
<text transform="translate(621.59,1518.09) scale(1.0072,1.0436)" font-size="27.5" font-weight="bold" text-anchor="middle">1575</text>
<text transform="translate(720.99,1518.09) scale(1.0072,1.0436)" font-size="27.5" font-weight="bold" text-anchor="middle">1500</text>
<text transform="translate(820.39,1518.09) scale(1.0072,1.0436)" font-size="27.5" font-weight="bold" text-anchor="middle">1425</text>
<text transform="translate(1180.99,1482.39) scale(1.0031,0.9390)" font-size="27.5" font-weight="bold" text-anchor="end">-0.003</text>
<text transform="translate(1180.99,1409.39) scale(1.0031,0.9390)" font-size="27.5" font-weight="bold" text-anchor="end">-0.002</text>
<text transform="translate(1180.99,1336.39) scale(1.0031,0.9390)" font-size="27.5" font-weight="bold" text-anchor="end">-0.001</text>
<text transform="translate(1180.99,1263.39) scale(1.0031,0.9390)" font-size="27.5" font-weight="bold" text-anchor="end">0.000</text>
<text transform="translate(1180.99,1190.39) scale(1.0031,0.9390)" font-size="27.5" font-weight="bold" text-anchor="end">0.001</text>
<text transform="translate(1180.99,1117.39) scale(1.0031,0.9390)" font-size="27.5" font-weight="bold" text-anchor="end">0.002</text>
<text transform="translate(1295.57,1518.00) scale(1.0170,0.9701)" font-size="27.5" font-weight="bold" text-anchor="middle">1675</text>
<text transform="translate(1428.19,1518.00) scale(1.0170,0.9701)" font-size="27.5" font-weight="bold" text-anchor="middle">1650</text>
<text transform="translate(1560.82,1518.00) scale(1.0170,0.9701)" font-size="27.5" font-weight="bold" text-anchor="middle">1625</text>
<text transform="translate(1693.44,1518.00) scale(1.0170,0.9701)" font-size="27.5" font-weight="bold" text-anchor="middle">1600</text>
<text transform="translate(597.66,1566.63) scale(1.0557,0.9946)" font-size="29" font-weight="bold" text-anchor="middle">Wavenumber (cm<tspan dy="-15" font-size="19.5">-1</tspan><tspan dy="15">)</tspan></text>
<text transform="translate(1475.66,1566.63) scale(1.0586,0.9946)" font-size="29" font-weight="bold" text-anchor="middle">Wavenumber (cm<tspan dy="-15" font-size="19.5">-1</tspan><tspan dy="15">)</tspan></text>
<text transform="translate(248.64,1289.39) rotate(-90) scale(1.0547,1.0776)" font-size="29" font-weight="bold" text-anchor="middle">IR absorbance (a.u.)</text>
<text transform="translate(1085.17,1286.38) rotate(-90) scale(1.0330,1.0012)" font-size="29" font-weight="bold" text-anchor="middle">2<tspan dy="-15" font-size="19.5">nd</tspan><tspan dy="15"> derivative  (a.u.)</tspan></text>
<text transform="translate(152.32,1298.00) rotate(-90) scale(1.0003,1.0918)" font-size="31" font-weight="bold" text-anchor="middle">FUS</text>
<line x1="903.6" y1="1040.0" x2="944.4" y2="1040.0" stroke="#9B5BCB" stroke-width="1.9"/>
<text transform="translate(963.64,1050.07) scale(1.0921,0.9507)" font-size="29" font-weight="normal" text-anchor="start">2 hr</text>
<line x1="903.6" y1="1088.7" x2="944.4" y2="1088.7" stroke="#FC7B7B" stroke-width="1.9"/>
<text transform="translate(963.64,1098.77) scale(1.0921,0.9507)" font-size="29" font-weight="normal" text-anchor="start">24 hr</text>
<line x1="903.6" y1="1137.4" x2="944.4" y2="1137.4" stroke="#FD9636" stroke-width="1.9"/>
<text transform="translate(963.64,1147.47) scale(1.0921,0.9507)" font-size="29" font-weight="normal" text-anchor="start">48 hr</text>
<line x1="1778.9" y1="1040.0" x2="1819.7" y2="1040.0" stroke="#9B5BCB" stroke-width="1.9"/>
<text transform="translate(1836.84,1050.07) scale(1.0921,0.9507)" font-size="29" font-weight="normal" text-anchor="start">2 hr</text>
<line x1="1778.9" y1="1088.7" x2="1819.7" y2="1088.7" stroke="#FC7B7B" stroke-width="1.9"/>
<text transform="translate(1836.84,1098.77) scale(1.0921,0.9507)" font-size="29" font-weight="normal" text-anchor="start">24 hr</text>
<line x1="1778.9" y1="1137.4" x2="1819.7" y2="1137.4" stroke="#FD9636" stroke-width="1.9"/>
<text transform="translate(1836.84,1147.47) scale(1.0921,0.9507)" font-size="29" font-weight="normal" text-anchor="start">48 hr</text>
<g stroke="#000" stroke-width="3.3" stroke-linecap="round" fill="none">
<line x1="323.6" y1="1666.0" x2="323.6" y2="2032.5" stroke-linecap="butt"/>
<line x1="308" y1="2032.5" x2="871" y2="2032.5"/>
<line x1="309" y1="2032.7" x2="323" y2="2032.7"/>
<line x1="309" y1="1959.7" x2="323" y2="1959.7"/>
<line x1="309" y1="1886.7" x2="323" y2="1886.7"/>
<line x1="309" y1="1813.7" x2="323" y2="1813.7"/>
<line x1="309" y1="1740.7" x2="323" y2="1740.7"/>
<line x1="309" y1="1667.7" x2="323" y2="1667.7"/>
<line x1="323.6" y1="2032.5" x2="323.6" y2="2047.5"/>
<line x1="423.0" y1="2032.5" x2="423.0" y2="2047.5"/>
<line x1="522.4" y1="2032.5" x2="522.4" y2="2047.5"/>
<line x1="621.8" y1="2032.5" x2="621.8" y2="2047.5"/>
<line x1="721.2" y1="2032.5" x2="721.2" y2="2047.5"/>
<line x1="820.6" y1="2032.5" x2="820.6" y2="2047.5"/>
<line x1="373.3" y1="2032.5" x2="373.3" y2="2040.5"/>
<line x1="472.7" y1="2032.5" x2="472.7" y2="2040.5"/>
<line x1="572.1" y1="2032.5" x2="572.1" y2="2040.5"/>
<line x1="671.5" y1="2032.5" x2="671.5" y2="2040.5"/>
<line x1="770.9" y1="2032.5" x2="770.9" y2="2040.5"/>
</g>
<g stroke="#000" stroke-width="3.3" stroke-linecap="round" fill="none">
<line x1="1200.5" y1="1666.0" x2="1200.5" y2="2032.0" stroke-linecap="butt"/>
<line x1="1200.5" y1="2032.0" x2="1749" y2="2032.0"/>
<line x1="1186" y1="2032.2" x2="1200" y2="2032.2"/>
<line x1="1186" y1="1959.2" x2="1200" y2="1959.2"/>
<line x1="1186" y1="1886.2" x2="1200" y2="1886.2"/>
<line x1="1186" y1="1813.2" x2="1200" y2="1813.2"/>
<line x1="1186" y1="1740.2" x2="1200" y2="1740.2"/>
<line x1="1186" y1="1667.2" x2="1200" y2="1667.2"/>
<line x1="1296.1" y1="2032.0" x2="1296.1" y2="2047.5"/>
<line x1="1428.7" y1="2032.0" x2="1428.7" y2="2047.5"/>
<line x1="1561.3" y1="2032.0" x2="1561.3" y2="2047.5"/>
<line x1="1694.0" y1="2032.0" x2="1694.0" y2="2047.5"/>
<line x1="1229.8" y1="2032.0" x2="1229.8" y2="2040.5"/>
<line x1="1362.4" y1="2032.0" x2="1362.4" y2="2040.5"/>
<line x1="1495.0" y1="2032.0" x2="1495.0" y2="2040.5"/>
<line x1="1627.7" y1="2032.0" x2="1627.7" y2="2040.5"/>
</g>
<line x1="1402.8" y1="1707.5" x2="1402.8" y2="2030.5" stroke="#a6a6a6" stroke-width="3" stroke-dasharray="9.5,5"/>
<line x1="1558.0" y1="1707.5" x2="1558.0" y2="2030.5" stroke="#a6a6a6" stroke-width="3" stroke-dasharray="9.5,5"/>
<path d="M322.9,2030.6C327.4,2030.3 340.8,2029.1 349.4,2028.7C358.1,2028.2 366.8,2028.3 374.9,2027.9C383.1,2027.5 391.9,2027.0 398.5,2026.3C405.0,2025.6 409.3,2024.8 414.2,2023.7C419.1,2022.7 424.3,2021.6 427.9,2020.2C431.5,2018.8 433.1,2018.3 435.8,2015.3C438.4,2012.3 441.0,2007.8 443.6,2002.2C446.2,1996.5 449.2,1989.7 451.4,1981.6C453.7,1973.4 455.0,1965.7 457.3,1953.1C459.6,1940.5 462.6,1922.1 465.2,1906.0C467.8,1890.0 470.1,1874.0 473.0,1857.0C476.0,1840.0 479.6,1821.3 482.8,1804.0C486.1,1786.7 489.4,1769.4 492.7,1753.0C495.9,1736.6 499.5,1717.9 502.5,1705.3C505.4,1692.7 508.0,1683.6 510.3,1677.5C512.6,1671.4 514.4,1669.9 516.2,1668.6C518.0,1667.3 518.8,1667.7 521.1,1669.6C523.4,1671.6 527.0,1676.6 529.9,1680.4C532.9,1684.3 536.3,1687.9 538.8,1692.8C541.2,1697.7 542.4,1701.1 544.6,1709.8C546.9,1718.6 549.9,1730.8 552.5,1745.2C555.1,1759.5 557.7,1778.5 560.3,1796.2C563.0,1813.8 565.6,1834.6 568.2,1851.1C570.8,1867.6 573.4,1883.3 576.0,1895.2C578.6,1907.2 581.3,1916.5 583.9,1922.7C586.5,1928.9 589.3,1930.2 591.7,1932.5C594.2,1934.8 596.1,1936.8 598.6,1936.4C601.0,1936.1 606.2,1930.6 606.4,1930.6C606.7,1930.6 599.7,1936.2 600.0,1936.5C600.3,1936.8 605.3,1935.1 608.4,1932.3C611.4,1929.5 614.9,1924.8 618.1,1919.7C621.4,1914.6 624.9,1908.1 627.9,1901.6C630.9,1895.1 633.7,1887.6 636.3,1880.7C638.8,1873.7 640.9,1866.3 643.2,1859.7C645.6,1853.2 648.1,1846.0 650.2,1841.6C652.3,1837.2 653.8,1835.1 655.8,1833.2C657.8,1831.3 660.0,1830.4 662.1,1830.2C664.2,1829.9 666.1,1829.7 668.3,1831.8C670.6,1834.0 673.0,1838.6 675.3,1843.0C677.6,1847.4 680.0,1853.7 682.3,1858.3C684.6,1863.0 686.9,1867.4 689.3,1870.9C691.6,1874.4 694.4,1876.0 696.2,1879.3C698.1,1882.5 698.8,1884.6 700.4,1890.4C702.1,1896.2 704.2,1906.5 706.0,1914.1C707.9,1921.8 709.5,1929.3 711.6,1936.5C713.7,1943.7 716.2,1951.1 718.6,1957.4C720.9,1963.7 723.2,1968.8 725.5,1974.1C727.9,1979.5 730.2,1985.5 732.5,1989.5C734.8,1993.4 737.4,1996.2 739.5,1997.8C741.6,1999.5 742.7,1999.7 745.1,1999.2C747.4,1998.8 750.4,1997.1 753.4,1995.0C756.5,1993.0 760.2,1989.0 763.2,1986.7C766.2,1984.4 768.8,1982.7 771.6,1981.1C774.4,1979.5 777.4,1977.6 779.9,1976.9C782.5,1976.3 784.4,1976.5 786.9,1977.2C789.5,1977.9 792.5,1979.8 795.3,1981.1C798.1,1982.4 800.6,1984.1 803.7,1985.3C806.7,1986.4 810.6,1988.1 813.4,1988.1C816.2,1988.1 817.6,1986.9 820.4,1985.3C823.2,1983.7 826.9,1980.2 830.2,1978.3C833.4,1976.5 837.4,1975.2 839.9,1974.1C842.5,1973.1 843.2,1972.1 845.5,1972.0C847.8,1971.9 852.5,1973.2 853.9,1973.4" fill="none" stroke="#FD9636" stroke-width="2.3" stroke-linejoin="round" stroke-linecap="round"/>
<path d="M322.9,2030.6C327.4,2030.5 340.8,2029.9 349.4,2029.6C358.1,2029.4 366.8,2029.4 374.9,2029.0C383.1,2028.7 391.9,2028.3 398.5,2027.7C405.0,2027.0 409.3,2026.2 414.2,2025.1C419.1,2024.0 424.3,2022.6 427.9,2021.2C431.5,2019.8 433.1,2019.9 435.8,2016.9C438.4,2013.9 441.0,2008.9 443.6,2003.1C446.2,1997.4 449.2,1990.7 451.4,1982.5C453.7,1974.4 455.0,1966.7 457.3,1954.1C459.6,1941.5 462.6,1923.0 465.2,1907.0C467.8,1891.0 470.1,1875.0 473.0,1858.0C476.0,1841.0 479.6,1822.3 482.8,1805.0C486.1,1787.7 489.4,1770.5 492.7,1754.0C495.9,1737.5 499.5,1718.7 502.5,1705.9C505.4,1693.2 508.0,1683.7 510.3,1677.5C512.6,1671.3 514.2,1669.9 516.2,1668.6C518.2,1667.3 519.5,1667.5 522.1,1669.6C524.7,1671.7 528.9,1677.5 531.9,1681.4C534.8,1685.3 537.4,1688.3 539.7,1693.2C542.0,1698.1 543.3,1702.0 545.6,1710.8C547.9,1719.6 550.9,1731.7 553.5,1746.1C556.1,1760.5 558.7,1779.5 561.3,1797.1C563.9,1814.8 566.6,1835.4 569.2,1852.1C571.8,1868.8 574.4,1885.1 577.0,1897.2C579.6,1909.3 582.2,1918.5 584.9,1924.7C587.5,1930.9 590.4,1932.2 592.7,1934.5C595.0,1936.8 596.3,1938.7 598.6,1938.4C600.9,1938.1 606.2,1932.3 606.4,1932.5C606.7,1932.8 599.7,1939.5 600.0,1940.0C600.3,1940.4 605.3,1938.0 608.4,1935.1C611.4,1932.2 614.9,1927.6 618.1,1922.5C621.4,1917.4 624.9,1910.9 627.9,1904.4C630.9,1897.9 633.7,1890.4 636.3,1883.5C638.8,1876.5 640.9,1869.0 643.2,1862.5C645.6,1856.0 648.1,1848.8 650.2,1844.4C652.3,1840.0 653.8,1837.9 655.8,1836.0C657.8,1834.2 660.0,1833.1 662.1,1833.2C664.2,1833.4 666.1,1834.6 668.3,1836.7C670.6,1838.8 673.0,1842.0 675.3,1845.8C677.6,1849.6 680.0,1855.3 682.3,1859.7C684.6,1864.2 686.9,1868.8 689.3,1872.3C691.6,1875.8 694.4,1877.4 696.2,1880.7C698.1,1883.9 698.8,1886.0 700.4,1891.8C702.1,1897.6 704.2,1907.9 706.0,1915.5C707.9,1923.2 709.5,1930.9 711.6,1937.9C713.7,1944.8 716.2,1951.6 718.6,1957.4C720.9,1963.2 723.2,1967.8 725.5,1972.7C727.9,1977.6 730.2,1983.4 732.5,1986.7C734.8,1989.9 737.4,1991.0 739.5,1992.3C741.6,1993.5 742.7,1994.8 745.1,1994.4C747.4,1993.9 750.4,1991.9 753.4,1989.5C756.5,1987.0 760.2,1982.3 763.2,1979.7C766.2,1977.1 768.8,1976.1 771.6,1974.1C774.4,1972.1 776.7,1968.3 779.9,1967.8C783.2,1967.4 787.6,1970.1 791.1,1971.3C794.6,1972.6 797.6,1974.1 800.9,1975.5C804.1,1976.9 807.4,1979.6 810.6,1979.7C813.9,1979.8 817.1,1977.8 820.4,1976.2C823.6,1974.6 826.9,1971.5 830.2,1969.9C833.4,1968.4 837.4,1968.1 839.9,1967.2C842.5,1966.2 843.2,1964.9 845.5,1964.4C847.8,1963.9 852.5,1964.1 853.9,1964.1" fill="none" stroke="#FC7B7B" stroke-width="2.3" stroke-linejoin="round" stroke-linecap="round"/>
<path d="M322.9,2030.6C327.4,2030.4 340.8,2029.4 349.4,2029.0C358.1,2028.7 366.8,2028.7 374.9,2028.3C383.1,2027.8 391.9,2027.1 398.5,2026.3C405.0,2025.5 409.3,2024.8 414.2,2023.7C419.1,2022.7 424.3,2021.3 427.9,2019.8C431.5,2018.4 433.1,2018.0 435.8,2014.9C438.4,2011.8 441.0,2007.1 443.6,2001.2C446.2,1995.3 449.2,1987.8 451.4,1979.6C453.7,1971.4 455.0,1964.6 457.3,1952.1C459.6,1939.7 462.6,1921.1 465.2,1905.1C467.8,1889.0 470.1,1873.0 473.0,1856.0C476.0,1839.0 479.6,1820.4 482.8,1803.0C486.1,1785.7 489.4,1768.4 492.7,1752.0C495.9,1735.7 499.5,1717.4 502.5,1704.9C505.4,1692.5 508.0,1683.5 510.3,1677.5C512.6,1671.4 514.6,1669.9 516.2,1668.6C517.8,1667.3 518.2,1667.8 520.1,1669.6C522.1,1671.4 525.0,1675.7 528.0,1679.4C530.9,1683.2 535.2,1687.3 537.8,1692.2C540.4,1697.1 541.4,1700.2 543.7,1708.9C545.9,1717.5 548.9,1729.8 551.5,1744.2C554.1,1758.6 556.7,1777.5 559.4,1795.2C562.0,1812.8 564.6,1833.8 567.2,1850.1C569.8,1866.5 572.4,1881.8 575.1,1893.3C577.7,1904.7 580.3,1912.9 582.9,1918.8C585.5,1924.7 588.1,1926.3 590.7,1928.6C593.4,1930.9 596.0,1932.8 598.6,1932.5C601.2,1932.2 606.2,1926.7 606.4,1926.6C606.7,1926.6 599.7,1932.3 600.0,1932.3C600.3,1932.3 605.3,1929.7 608.4,1926.7C611.4,1923.7 614.9,1919.3 618.1,1914.1C621.4,1909.0 624.9,1902.5 627.9,1896.0C630.9,1889.5 633.7,1882.3 636.3,1875.1C638.8,1867.9 640.9,1859.5 643.2,1852.8C645.6,1846.0 648.1,1839.3 650.2,1834.6C652.3,1830.0 653.8,1827.3 655.8,1824.9C657.8,1822.4 660.0,1820.2 662.1,1820.0C664.2,1819.8 666.1,1821.3 668.3,1823.5C670.6,1825.7 673.0,1829.3 675.3,1833.2C677.6,1837.2 680.0,1842.5 682.3,1847.2C684.6,1851.8 686.9,1857.0 689.3,1861.1C691.6,1865.3 694.4,1868.6 696.2,1872.3C698.1,1876.0 698.8,1877.6 700.4,1883.5C702.1,1889.3 704.2,1899.5 706.0,1907.2C707.9,1914.8 709.5,1922.1 711.6,1929.5C713.7,1936.9 716.2,1945.5 718.6,1951.8C720.9,1958.1 723.2,1962.5 725.5,1967.2C727.9,1971.8 730.2,1976.7 732.5,1979.7C734.8,1982.7 737.2,1984.1 739.5,1985.3C741.8,1986.4 744.1,1987.1 746.5,1986.7C748.8,1986.2 750.6,1984.6 753.4,1982.5C756.2,1980.4 760.2,1976.5 763.2,1974.1C766.2,1971.8 768.5,1970.6 771.6,1968.5C774.6,1966.5 778.1,1962.4 781.3,1961.6C784.6,1960.8 787.8,1962.5 791.1,1963.7C794.4,1964.8 797.4,1966.9 800.9,1968.5C804.4,1970.2 809.0,1972.8 812.0,1973.4C815.0,1974.0 816.2,1973.7 819.0,1972.0C821.8,1970.4 825.3,1965.9 828.8,1963.7C832.2,1961.5 836.4,1960.1 839.9,1958.8C843.4,1957.5 847.4,1956.4 849.7,1956.0C852.0,1955.6 853.2,1956.3 853.9,1956.4" fill="none" stroke="#9B5BCB" stroke-width="2.3" stroke-linejoin="round" stroke-linecap="round"/>
<polyline points="1200.0,1755.1 1206.0,1725.0 1213.1,1695.0 1219.5,1714.5 1224.0,1740.0 1227.8,1777.6 1231.5,1822.7 1236.1,1860.2 1240.6,1885.8 1245.1,1900.8 1249.6,1900.8 1255.6,1878.2 1261.6,1845.2 1267.6,1815.2 1272.1,1794.1 1276.6,1785.1 1281.1,1784.4 1285.6,1794.1 1291.6,1813.7 1297.6,1828.7 1302.1,1833.2 1306.7,1828.7 1312.7,1813.7 1317.2,1804.6 1321.7,1801.6 1326.2,1812.1 1332.2,1834.7 1338.2,1860.2 1342.7,1879.7 1347.2,1884.3 1353.2,1881.2 1359.2,1873.7 1365.2,1870.0 1371.2,1870.7 1377.3,1873.7 1382.5,1882.8 1387.8,1894.8 1393.8,1911.3 1399.8,1930.8 1404.3,1948.8 1410.3,1957.9 1414.8,1960.9 1419.3,1957.9 1423.8,1942.8 1428.3,1912.8 1434.3,1867.7 1440.3,1830.2 1444.9,1806.1 1449.4,1801.6 1454.6,1807.6 1459.9,1807.6 1465.9,1797.1 1470.4,1791.1 1474.9,1791.1 1475.3,1791.2 1479.8,1804.7 1483.5,1822.7 1487.3,1860.3 1491.0,1897.8 1495.5,1935.4 1500.0,1970.1 1506.1,1980.4 1510.6,1970.1 1515.1,1942.9 1519.6,1905.3 1524.1,1875.3 1528.6,1852.8 1533.1,1834.7 1536.1,1831.0 1540.6,1839.2 1545.1,1854.3 1549.6,1873.8 1554.1,1887.3 1557.9,1894.8 1562.4,1887.3 1567.6,1863.3 1573.7,1834.7 1578.2,1821.2 1584.2,1810.7 1590.2,1813.7 1595.4,1816.7 1599.2,1815.2 1605.2,1803.2 1611.2,1785.2 1617.2,1765.6 1621.7,1753.6 1627.7,1743.1 1633.7,1735.6 1641.2,1726.6 1647.3,1716.1 1653.3,1702.5 1659.3,1694.3 1664.5,1691.3 1670.5,1698.0 1675.8,1710.0 1681.8,1729.6 1686.3,1743.1 1692.3,1753.6 1698.3,1761.1 1704.3,1768.6 1710.3,1777.6 1716.4,1786.7 1723.9,1791.9 1729.9,1788.2 1735.9,1780.6 1741.9,1770.1 1747.6,1766.4" fill="none" stroke="#FD9636" stroke-width="2.0" stroke-linejoin="round" stroke-linecap="round"/>
<polyline points="1200.0,1810.6 1204.5,1817.4 1210.5,1813.7 1216.5,1806.1 1221.0,1801.6 1225.5,1794.1 1230.0,1788.1 1234.6,1795.6 1239.1,1812.1 1245.1,1837.7 1249.6,1857.2 1254.1,1861.0 1258.6,1854.2 1263.1,1837.7 1267.6,1812.1 1272.1,1788.1 1276.6,1774.6 1281.1,1776.1 1285.6,1788.1 1291.6,1812.1 1297.6,1836.2 1302.1,1850.5 1307.4,1845.2 1312.7,1828.7 1317.2,1812.1 1321.7,1810.6 1326.2,1822.7 1330.7,1848.2 1335.2,1875.2 1341.2,1897.8 1347.2,1907.5 1356.2,1912.0 1365.2,1918.1 1369.7,1912.8 1375.8,1897.8 1382.5,1888.0 1387.8,1902.3 1392.3,1927.8 1396.8,1954.9 1402.0,1956.4 1408.1,1935.3 1413.3,1905.3 1419.3,1875.2 1425.3,1849.7 1430.6,1830.2 1434.3,1813.7 1439.6,1807.6 1444.9,1813.7 1450.1,1830.2 1455.4,1842.2 1459.9,1847.4 1464.4,1834.7 1470.4,1819.7 1474.9,1819.7 1479.8,1837.7 1485.0,1875.3 1489.5,1905.3 1495.5,1932.4 1501.5,1942.9 1506.8,1944.4 1513.6,1932.4 1519.6,1905.3 1525.6,1885.8 1530.1,1875.3 1536.1,1873.0 1541.4,1878.3 1546.6,1893.3 1551.9,1903.8 1557.9,1908.3 1562.4,1903.8 1567.6,1887.3 1573.7,1860.3 1578.2,1830.2 1582.7,1803.2 1587.9,1789.7 1593.2,1783.7 1598.4,1771.6 1602.9,1755.1 1608.2,1737.1 1612.7,1733.3 1618.0,1741.6 1623.2,1750.6 1628.5,1746.1 1632.2,1729.6 1636.7,1705.5 1641.2,1684.5 1645.8,1675.5 1650.3,1678.5 1654.8,1693.5 1660.0,1716.1 1665.3,1737.1 1670.5,1749.1 1675.8,1747.6 1680.3,1744.6 1686.3,1750.6 1692.3,1767.1 1696.8,1785.2 1700.6,1796.4 1705.1,1798.7 1710.3,1788.2 1716.4,1770.1 1722.4,1753.6 1726.9,1747.6 1732.1,1749.1 1737.4,1755.1 1742.6,1762.6 1747.6,1771.6" fill="none" stroke="#FC7B7B" stroke-width="2.0" stroke-linejoin="round" stroke-linecap="round"/>
<polyline points="1200.0,1830.2 1206.0,1837.7 1213.5,1839.9 1219.5,1833.2 1224.8,1815.2 1230.0,1794.1 1234.6,1774.6 1239.1,1770.8 1243.6,1785.1 1249.6,1815.2 1255.6,1842.2 1260.1,1848.2 1266.1,1833.2 1272.1,1809.1 1276.6,1795.6 1281.1,1791.1 1285.6,1801.6 1291.6,1827.2 1297.6,1845.2 1302.1,1853.5 1307.4,1848.2 1312.7,1836.2 1317.2,1826.4 1321.7,1822.7 1327.7,1830.2 1333.7,1840.7 1339.7,1851.2 1345.7,1861.7 1351.7,1875.2 1357.7,1890.3 1363.7,1903.8 1369.7,1911.3 1375.8,1917.3 1382.5,1924.8 1387.8,1933.8 1393.8,1945.8 1398.3,1955.6 1403.5,1954.1 1408.8,1941.3 1413.3,1920.3 1417.8,1896.3 1422.3,1875.2 1427.6,1857.2 1434.3,1837.7 1440.3,1827.2 1447.9,1821.9 1455.4,1816.7 1462.9,1809.1 1468.9,1802.4 1474.9,1812.1 1475.3,1812.2 1480.5,1837.7 1485.0,1875.3 1489.5,1912.8 1494.8,1947.4 1500.0,1957.9 1505.3,1944.4 1510.6,1920.3 1515.1,1897.8 1521.1,1876.8 1527.1,1872.3 1534.6,1872.3 1540.6,1873.8 1546.6,1878.3 1552.6,1885.8 1558.6,1891.1 1563.1,1884.3 1569.1,1866.3 1575.2,1839.2 1581.2,1812.2 1587.2,1791.2 1593.2,1777.6 1599.2,1762.6 1605.2,1747.6 1612.0,1740.1 1618.0,1746.1 1623.2,1753.6 1628.5,1756.6 1633.7,1752.1 1639.7,1740.1 1645.8,1720.6 1651.8,1701.0 1658.5,1692.0 1664.5,1698.0 1669.8,1711.5 1675.8,1728.1 1681.8,1741.6 1687.8,1749.1 1695.3,1756.6 1701.3,1765.6 1707.3,1777.6 1713.4,1789.7 1719.4,1794.2 1725.4,1791.2 1731.4,1780.6 1737.4,1764.1 1742.6,1753.6 1747.6,1750.6" fill="none" stroke="#9B5BCB" stroke-width="2.0" stroke-linejoin="round" stroke-linecap="round"/>
<text transform="translate(303.90,2043.20) scale(0.9831,1.0653)" font-size="27.5" font-weight="bold" text-anchor="end">0.0</text>
<text transform="translate(303.90,1970.20) scale(0.9831,1.0653)" font-size="27.5" font-weight="bold" text-anchor="end">0.2</text>
<text transform="translate(303.90,1897.20) scale(0.9831,1.0653)" font-size="27.5" font-weight="bold" text-anchor="end">0.4</text>
<text transform="translate(303.90,1824.20) scale(0.9831,1.0653)" font-size="27.5" font-weight="bold" text-anchor="end">0.6</text>
<text transform="translate(303.90,1751.20) scale(0.9831,1.0653)" font-size="27.5" font-weight="bold" text-anchor="end">0.8</text>
<text transform="translate(303.90,1678.20) scale(0.9831,1.0653)" font-size="27.5" font-weight="bold" text-anchor="end">1.0</text>
<text transform="translate(323.40,2078.59) scale(1.0072,1.0436)" font-size="27.5" font-weight="bold" text-anchor="middle">1800</text>
<text transform="translate(422.80,2078.59) scale(1.0072,1.0436)" font-size="27.5" font-weight="bold" text-anchor="middle">1725</text>
<text transform="translate(522.19,2078.59) scale(1.0072,1.0436)" font-size="27.5" font-weight="bold" text-anchor="middle">1650</text>
<text transform="translate(621.59,2078.59) scale(1.0072,1.0436)" font-size="27.5" font-weight="bold" text-anchor="middle">1575</text>
<text transform="translate(720.99,2078.59) scale(1.0072,1.0436)" font-size="27.5" font-weight="bold" text-anchor="middle">1500</text>
<text transform="translate(820.39,2078.59) scale(1.0072,1.0436)" font-size="27.5" font-weight="bold" text-anchor="middle">1425</text>
<text transform="translate(1180.99,2042.89) scale(1.0031,0.9390)" font-size="27.5" font-weight="bold" text-anchor="end">-0.003</text>
<text transform="translate(1180.99,1969.89) scale(1.0031,0.9390)" font-size="27.5" font-weight="bold" text-anchor="end">-0.002</text>
<text transform="translate(1180.99,1896.89) scale(1.0031,0.9390)" font-size="27.5" font-weight="bold" text-anchor="end">-0.001</text>
<text transform="translate(1180.99,1823.89) scale(1.0031,0.9390)" font-size="27.5" font-weight="bold" text-anchor="end">0.000</text>
<text transform="translate(1180.99,1750.89) scale(1.0031,0.9390)" font-size="27.5" font-weight="bold" text-anchor="end">0.001</text>
<text transform="translate(1180.99,1677.89) scale(1.0031,0.9390)" font-size="27.5" font-weight="bold" text-anchor="end">0.002</text>
<text transform="translate(1295.57,2078.50) scale(1.0170,0.9701)" font-size="27.5" font-weight="bold" text-anchor="middle">1675</text>
<text transform="translate(1428.19,2078.50) scale(1.0170,0.9701)" font-size="27.5" font-weight="bold" text-anchor="middle">1650</text>
<text transform="translate(1560.82,2078.50) scale(1.0170,0.9701)" font-size="27.5" font-weight="bold" text-anchor="middle">1625</text>
<text transform="translate(1693.44,2078.50) scale(1.0170,0.9701)" font-size="27.5" font-weight="bold" text-anchor="middle">1600</text>
<text transform="translate(597.66,2127.13) scale(1.0557,0.9946)" font-size="29" font-weight="bold" text-anchor="middle">Wavenumber (cm<tspan dy="-15" font-size="19.5">-1</tspan><tspan dy="15">)</tspan></text>
<text transform="translate(1475.66,2127.13) scale(1.0586,0.9946)" font-size="29" font-weight="bold" text-anchor="middle">Wavenumber (cm<tspan dy="-15" font-size="19.5">-1</tspan><tspan dy="15">)</tspan></text>
<text transform="translate(248.64,1849.92) rotate(-90) scale(1.0546,1.0776)" font-size="29" font-weight="bold" text-anchor="middle">IR absorbance (a.u.)</text>
<text transform="translate(1085.17,1846.88) rotate(-90) scale(1.0330,1.0012)" font-size="29" font-weight="bold" text-anchor="middle">2<tspan dy="-15" font-size="19.5">nd</tspan><tspan dy="15"> derivative  (a.u.)</tspan></text>
<text transform="translate(153.35,1856.90) rotate(-90) scale(1.0075,1.1524)" font-size="31" font-weight="bold" text-anchor="middle">FUS + DNAJB6</text>
<line x1="903.6" y1="1600.5" x2="944.4" y2="1600.5" stroke="#9B5BCB" stroke-width="1.9"/>
<text transform="translate(963.64,1610.57) scale(1.0921,0.9507)" font-size="29" font-weight="normal" text-anchor="start">2 hr</text>
<line x1="903.6" y1="1649.2" x2="944.4" y2="1649.2" stroke="#FC7B7B" stroke-width="1.9"/>
<text transform="translate(963.64,1659.27) scale(1.0921,0.9507)" font-size="29" font-weight="normal" text-anchor="start">24 hr</text>
<line x1="903.6" y1="1697.9" x2="944.4" y2="1697.9" stroke="#FD9636" stroke-width="1.9"/>
<text transform="translate(963.64,1707.97) scale(1.0921,0.9507)" font-size="29" font-weight="normal" text-anchor="start">48 hr</text>
<line x1="1778.9" y1="1600.5" x2="1819.7" y2="1600.5" stroke="#9B5BCB" stroke-width="1.9"/>
<text transform="translate(1836.84,1610.57) scale(1.0921,0.9507)" font-size="29" font-weight="normal" text-anchor="start">2 hr</text>
<line x1="1778.9" y1="1649.2" x2="1819.7" y2="1649.2" stroke="#FC7B7B" stroke-width="1.9"/>
<text transform="translate(1836.84,1659.27) scale(1.0921,0.9507)" font-size="29" font-weight="normal" text-anchor="start">24 hr</text>
<line x1="1778.9" y1="1697.9" x2="1819.7" y2="1697.9" stroke="#FD9636" stroke-width="1.9"/>
<text transform="translate(1836.84,1707.97) scale(1.0921,0.9507)" font-size="29" font-weight="normal" text-anchor="start">48 hr</text>
<text transform="translate(1386.61,1095.55) scale(1.1287,1.0522)" font-size="28" font-weight="bold" text-anchor="middle">Random</text>
<text transform="translate(1387.13,1133.35) scale(1.1569,1.1510)" font-size="28" font-weight="bold" text-anchor="middle">coil</text>
<text transform="translate(1596.22,1093.45) scale(1.1205,1.1026)" font-size="28" font-weight="bold" text-anchor="middle">Intermolecular</text>
<text transform="translate(1600.83,1129.91) scale(1.1330,1.0448)" font-size="28" font-weight="bold" text-anchor="middle">β-sheet</text>
<text transform="translate(100.92,1076.52) scale(1.0055,0.9627)" font-size="48" font-weight="bold" text-anchor="start">c</text>
</svg>
</body></html>
